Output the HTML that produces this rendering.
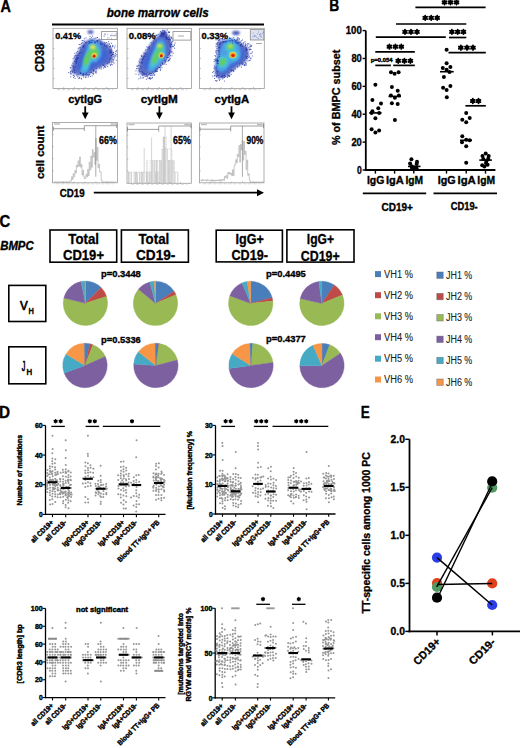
<!DOCTYPE html>
<html><head><meta charset="utf-8"><style>
html,body{margin:0;padding:0;background:#fff;}
svg{display:block;font-family:"Liberation Sans",sans-serif;}
</style></head><body>
<svg width="520" height="748" viewBox="0 0 520 748">
<defs>
<filter id="b0" x="-50%" y="-50%" width="200%" height="200%"><feGaussianBlur stdDeviation="0.4"/></filter>
<filter id="b1" x="-50%" y="-50%" width="200%" height="200%"><feGaussianBlur stdDeviation="0.9"/></filter>
<filter id="b2" x="-50%" y="-50%" width="200%" height="200%"><feGaussianBlur stdDeviation="2.0"/></filter>
</defs>
<rect width="520" height="748" fill="#fff"/>
<text stroke="#000" stroke-width="0.35" stroke-linejoin="round" x="0.40" y="11.90" font-size="15.8" font-weight="bold" font-style="normal" fill="#000" textLength="10.43" lengthAdjust="spacingAndGlyphs">A</text>
<text stroke="#000" stroke-width="0.34" stroke-linejoin="round" x="106.70" y="17.00" font-size="12.2" font-weight="bold" font-style="italic" fill="#000" textLength="102.11" lengthAdjust="spacingAndGlyphs">bone marrow cells</text>
<line x1="52.00" y1="24.50" x2="264.00" y2="24.50" stroke="#000" stroke-width="1.8" />
<text stroke="#000" stroke-width="0.34" stroke-linejoin="round" transform="translate(44.40,72.00) rotate(-90)" x="0" y="0" font-size="12" font-weight="bold" font-style="normal" fill="#000" textLength="28.32" lengthAdjust="spacingAndGlyphs">CD38</text>
<text stroke="#000" stroke-width="0.34" stroke-linejoin="round" transform="translate(43.50,179.00) rotate(-90)" x="0" y="0" font-size="10.5" font-weight="bold" font-style="normal" fill="#000" textLength="53.37" lengthAdjust="spacingAndGlyphs">cell count</text>
<rect x="53.00" y="28.30" width="64.40" height="60.20" stroke="#9a9a9a" stroke-width="0.8" fill="none"/>
<line x1="53.00" y1="38.33" x2="54.50" y2="38.33" stroke="#999" stroke-width="0.6" />
<line x1="53.00" y1="48.37" x2="54.50" y2="48.37" stroke="#999" stroke-width="0.6" />
<line x1="53.00" y1="58.40" x2="54.50" y2="58.40" stroke="#999" stroke-width="0.6" />
<line x1="53.00" y1="68.43" x2="54.50" y2="68.43" stroke="#999" stroke-width="0.6" />
<line x1="53.00" y1="78.47" x2="54.50" y2="78.47" stroke="#999" stroke-width="0.6" />
<line x1="63.73" y1="88.50" x2="63.73" y2="87.00" stroke="#999" stroke-width="0.6" />
<line x1="74.47" y1="88.50" x2="74.47" y2="87.00" stroke="#999" stroke-width="0.6" />
<line x1="85.20" y1="88.50" x2="85.20" y2="87.00" stroke="#999" stroke-width="0.6" />
<line x1="95.93" y1="88.50" x2="95.93" y2="87.00" stroke="#999" stroke-width="0.6" />
<line x1="106.67" y1="88.50" x2="106.67" y2="87.00" stroke="#999" stroke-width="0.6" />
<line x1="57.00" y1="89.70" x2="113.40" y2="89.70" stroke="#c8c8c8" stroke-width="0.8" stroke-dasharray="3 2"/>
<rect x="127.00" y="28.30" width="64.40" height="60.20" stroke="#9a9a9a" stroke-width="0.8" fill="none"/>
<line x1="127.00" y1="38.33" x2="128.50" y2="38.33" stroke="#999" stroke-width="0.6" />
<line x1="127.00" y1="48.37" x2="128.50" y2="48.37" stroke="#999" stroke-width="0.6" />
<line x1="127.00" y1="58.40" x2="128.50" y2="58.40" stroke="#999" stroke-width="0.6" />
<line x1="127.00" y1="68.43" x2="128.50" y2="68.43" stroke="#999" stroke-width="0.6" />
<line x1="127.00" y1="78.47" x2="128.50" y2="78.47" stroke="#999" stroke-width="0.6" />
<line x1="137.73" y1="88.50" x2="137.73" y2="87.00" stroke="#999" stroke-width="0.6" />
<line x1="148.47" y1="88.50" x2="148.47" y2="87.00" stroke="#999" stroke-width="0.6" />
<line x1="159.20" y1="88.50" x2="159.20" y2="87.00" stroke="#999" stroke-width="0.6" />
<line x1="169.93" y1="88.50" x2="169.93" y2="87.00" stroke="#999" stroke-width="0.6" />
<line x1="180.67" y1="88.50" x2="180.67" y2="87.00" stroke="#999" stroke-width="0.6" />
<line x1="131.00" y1="89.70" x2="187.40" y2="89.70" stroke="#c8c8c8" stroke-width="0.8" stroke-dasharray="3 2"/>
<rect x="199.50" y="28.30" width="64.80" height="60.20" stroke="#9a9a9a" stroke-width="0.8" fill="none"/>
<line x1="199.50" y1="38.33" x2="201.00" y2="38.33" stroke="#999" stroke-width="0.6" />
<line x1="199.50" y1="48.37" x2="201.00" y2="48.37" stroke="#999" stroke-width="0.6" />
<line x1="199.50" y1="58.40" x2="201.00" y2="58.40" stroke="#999" stroke-width="0.6" />
<line x1="199.50" y1="68.43" x2="201.00" y2="68.43" stroke="#999" stroke-width="0.6" />
<line x1="199.50" y1="78.47" x2="201.00" y2="78.47" stroke="#999" stroke-width="0.6" />
<line x1="210.30" y1="88.50" x2="210.30" y2="87.00" stroke="#999" stroke-width="0.6" />
<line x1="221.10" y1="88.50" x2="221.10" y2="87.00" stroke="#999" stroke-width="0.6" />
<line x1="231.90" y1="88.50" x2="231.90" y2="87.00" stroke="#999" stroke-width="0.6" />
<line x1="242.70" y1="88.50" x2="242.70" y2="87.00" stroke="#999" stroke-width="0.6" />
<line x1="253.50" y1="88.50" x2="253.50" y2="87.00" stroke="#999" stroke-width="0.6" />
<line x1="203.50" y1="89.70" x2="260.30" y2="89.70" stroke="#c8c8c8" stroke-width="0.8" stroke-dasharray="3 2"/>
<clipPath id="clip1"><rect x="53" y="28.3" width="64.4" height="60.2"/></clipPath>
<g clip-path="url(#clip1)">
<path d="M71.60,71.50 C71.38,69.10 72.88,63.42 74.20,59.70 C75.52,55.98 77.97,52.03 79.50,49.20 C81.03,46.37 81.67,44.33 83.40,42.70 C85.13,41.07 87.50,39.83 89.90,39.40 C92.30,38.97 95.40,39.55 97.80,40.10 C100.20,40.65 102.13,41.40 104.30,42.70 C106.47,44.00 109.27,45.72 110.80,47.90 C112.33,50.08 113.72,53.18 113.50,55.80 C113.28,58.42 111.47,61.87 109.50,63.60 C107.53,65.33 104.08,65.10 101.70,66.20 C99.32,67.30 97.38,68.88 95.20,70.20 C93.02,71.52 90.78,73.23 88.60,74.10 C86.42,74.97 84.28,75.40 82.10,75.40 C79.92,75.40 77.25,74.75 75.50,74.10 C73.75,73.45 71.82,73.90 71.60,71.50Z" fill="#2234a8" opacity="0.7" filter="url(#b1)"/>
<path d="M75.65,68.83 C75.47,66.91 76.67,62.37 77.73,59.39 C78.78,56.42 80.74,53.26 81.97,50.99 C83.19,48.73 83.70,47.10 85.09,45.79 C86.47,44.49 88.37,43.50 90.29,43.15 C92.21,42.81 94.69,43.27 96.61,43.71 C98.53,44.15 100.07,44.75 101.81,45.79 C103.54,46.83 105.78,48.21 107.01,49.95 C108.23,51.70 109.34,54.18 109.17,56.27 C108.99,58.37 107.54,61.13 105.97,62.51 C104.39,63.90 101.63,63.71 99.73,64.59 C97.82,65.47 96.27,66.74 94.53,67.79 C92.78,68.85 90.99,70.22 89.25,70.91 C87.50,71.61 85.79,71.95 84.05,71.95 C82.30,71.95 80.17,71.43 78.77,70.91 C77.37,70.39 75.82,70.75 75.65,68.83Z" fill="#3a62d4" opacity="0.9" filter="url(#b2)"/>
<path d="M80.40,74.59 C79.57,73.13 81.34,67.30 82.28,63.34 C83.21,59.38 84.88,54.48 86.03,50.84 C87.17,47.19 87.90,43.23 89.15,41.46 C90.40,39.69 91.65,39.69 93.53,40.21 C95.40,40.73 99.05,42.19 100.40,44.59 C101.75,46.98 102.17,51.77 101.65,54.59 C101.13,57.40 99.05,60.00 97.28,61.46 C95.50,62.92 92.69,61.57 91.03,63.34 C89.36,65.11 89.05,70.21 87.28,72.09 C85.50,73.96 81.23,76.05 80.40,74.59Z" fill="#4fa6e8" opacity="0.9" filter="url(#b1)"/>
<path d="M82.61,70.69 C82.17,69.46 83.83,64.56 84.71,61.24 C85.58,57.91 86.98,53.54 87.86,50.74 C88.73,47.94 89.08,45.58 89.96,44.44 C90.83,43.30 91.80,43.39 93.11,43.91 C94.42,44.44 96.96,45.75 97.84,47.59 C98.71,49.42 98.80,52.92 98.36,54.94 C97.92,56.95 96.43,58.70 95.21,59.66 C93.98,60.62 92.32,59.22 91.01,60.71 C89.70,62.20 88.73,66.93 87.33,68.59 C85.93,70.25 83.05,71.91 82.61,70.69Z" fill="#46c4dc" opacity="1" filter="url(#b1)"/>
<ellipse cx="87.6" cy="58" rx="8.5" ry="2.9" transform="rotate(-68 87.6 58)" fill="#66cc5e" opacity="1" filter="url(#b1)"/>
<ellipse cx="94.5" cy="52.5" rx="4.6" ry="4.2" transform="rotate(-60 94.5 52.5)" fill="#66cc5e" opacity="1" filter="url(#b1)"/>
<ellipse cx="92.8" cy="47" rx="2.8" ry="2.3" transform="rotate(0 92.8 47)" fill="#e4e446" opacity="1" filter="url(#b1)"/>
<ellipse cx="94.3" cy="55.5" rx="2.8" ry="2.7" transform="rotate(-60 94.3 55.5)" fill="#e4e446" opacity="1" filter="url(#b0)"/>
<ellipse cx="94.2" cy="55.9" rx="2.1" ry="2.0" transform="rotate(-60 94.2 55.9)" fill="#f08c28" opacity="1" filter="url(#b0)"/>
<ellipse cx="94.1" cy="56.3" rx="1.3" ry="1.3" transform="rotate(0 94.1 56.3)" fill="#d01c0c" opacity="1" filter="url(#b0)"/>
<ellipse cx="90.5" cy="32" rx="3" ry="2" transform="rotate(0 90.5 32)" fill="#2234a8" opacity="0.75" filter="url(#b1)"/>
<rect x="74.0" y="72.5" width="1" height="1" fill="#2234a8" opacity="0.75"/>
<rect x="106.2" y="46.5" width="1" height="1" fill="#2234a8" opacity="0.75"/>
<rect x="78.8" y="76.8" width="1" height="1" fill="#2234a8" opacity="0.75"/>
<rect x="68.2" y="72.1" width="1" height="1" fill="#2234a8" opacity="0.75"/>
<rect x="100.0" y="43.4" width="1" height="1" fill="#2234a8" opacity="0.75"/>
<rect x="104.0" y="66.5" width="1" height="1" fill="#2234a8" opacity="0.75"/>
<rect x="110.4" y="57.5" width="1" height="1" fill="#2234a8" opacity="0.75"/>
<rect x="76.0" y="59.4" width="1" height="1" fill="#2234a8" opacity="0.75"/>
<rect x="103.1" y="64.9" width="1" height="1" fill="#2234a8" opacity="0.75"/>
<rect x="93.1" y="69.5" width="1" height="1" fill="#2234a8" opacity="0.75"/>
<rect x="75.9" y="57.3" width="1" height="1" fill="#2234a8" opacity="0.75"/>
<rect x="70.0" y="73.5" width="1" height="1" fill="#2234a8" opacity="0.75"/>
<rect x="77.4" y="57.4" width="1" height="1" fill="#2234a8" opacity="0.75"/>
<rect x="76.2" y="60.9" width="1" height="1" fill="#2234a8" opacity="0.75"/>
<rect x="80.2" y="72.2" width="1" height="1" fill="#2234a8" opacity="0.75"/>
<rect x="72.7" y="74.8" width="1" height="1" fill="#2234a8" opacity="0.75"/>
<rect x="103.9" y="42.3" width="1" height="1" fill="#2234a8" opacity="0.75"/>
<rect x="78.4" y="78.1" width="1" height="1" fill="#2234a8" opacity="0.75"/>
<rect x="82.8" y="73.0" width="1" height="1" fill="#2234a8" opacity="0.75"/>
<rect x="83.0" y="76.5" width="1" height="1" fill="#2234a8" opacity="0.75"/>
<rect x="84.7" y="74.0" width="1" height="1" fill="#2234a8" opacity="0.75"/>
<rect x="110.1" y="51.4" width="1" height="1" fill="#2234a8" opacity="0.75"/>
<rect x="111.5" y="61.8" width="1" height="1" fill="#2234a8" opacity="0.75"/>
<rect x="70.9" y="73.3" width="1" height="1" fill="#2234a8" opacity="0.75"/>
<rect x="109.5" y="50.2" width="1" height="1" fill="#2234a8" opacity="0.75"/>
<rect x="112.7" y="60.1" width="1" height="1" fill="#2234a8" opacity="0.75"/>
<rect x="82.2" y="46.4" width="1" height="1" fill="#2234a8" opacity="0.75"/>
<rect x="91.5" y="39.7" width="1" height="1" fill="#2234a8" opacity="0.75"/>
<rect x="102.3" y="64.3" width="1" height="1" fill="#2234a8" opacity="0.75"/>
<rect x="82.9" y="46.1" width="1" height="1" fill="#2234a8" opacity="0.75"/>
<rect x="117.4" y="54.9" width="1" height="1" fill="#2234a8" opacity="0.75"/>
<rect x="92.8" y="70.2" width="1" height="1" fill="#2234a8" opacity="0.75"/>
<rect x="109.1" y="49.3" width="1" height="1" fill="#2234a8" opacity="0.75"/>
<rect x="72.6" y="57.9" width="1" height="1" fill="#2234a8" opacity="0.75"/>
<rect x="82.1" y="74.5" width="1" height="1" fill="#2234a8" opacity="0.75"/>
<rect x="83.3" y="74.9" width="1" height="1" fill="#2234a8" opacity="0.75"/>
<rect x="102.4" y="43.1" width="1" height="1" fill="#2234a8" opacity="0.75"/>
<rect x="89.3" y="42.2" width="1" height="1" fill="#2234a8" opacity="0.75"/>
<rect x="103.7" y="64.6" width="1" height="1" fill="#2234a8" opacity="0.75"/>
<rect x="110.7" y="55.2" width="1" height="1" fill="#2234a8" opacity="0.75"/>
<rect x="104.5" y="45.7" width="1" height="1" fill="#2234a8" opacity="0.75"/>
<rect x="78.7" y="53.4" width="1" height="1" fill="#2234a8" opacity="0.75"/>
<rect x="114.1" y="47.4" width="1" height="1" fill="#2234a8" opacity="0.75"/>
<rect x="110.5" y="51.6" width="1" height="1" fill="#2234a8" opacity="0.75"/>
<rect x="103.0" y="67.6" width="1" height="1" fill="#2234a8" opacity="0.75"/>
<rect x="74.3" y="69.3" width="1" height="1" fill="#2234a8" opacity="0.75"/>
<rect x="110.2" y="64.2" width="1" height="1" fill="#2234a8" opacity="0.75"/>
<rect x="89.9" y="75.9" width="1" height="1" fill="#2234a8" opacity="0.75"/>
<rect x="89.3" y="42.5" width="1" height="1" fill="#2234a8" opacity="0.75"/>
<rect x="83.8" y="40.8" width="1" height="1" fill="#2234a8" opacity="0.75"/>
<rect x="89.6" y="36.2" width="1" height="1" fill="#2234a8" opacity="0.75"/>
<rect x="77.7" y="47.8" width="1" height="1" fill="#2234a8" opacity="0.75"/>
<rect x="92.2" y="72.9" width="1" height="1" fill="#2234a8" opacity="0.75"/>
<rect x="81.7" y="40.0" width="1" height="1" fill="#2234a8" opacity="0.75"/>
<rect x="73.2" y="68.1" width="1" height="1" fill="#2234a8" opacity="0.75"/>
<rect x="74.1" y="57.2" width="1" height="1" fill="#2234a8" opacity="0.75"/>
<rect x="90.7" y="71.9" width="1" height="1" fill="#2234a8" opacity="0.75"/>
<rect x="75.9" y="62.5" width="1" height="1" fill="#2234a8" opacity="0.75"/>
<rect x="111.2" y="60.9" width="1" height="1" fill="#2234a8" opacity="0.75"/>
<rect x="108.8" y="61.9" width="1" height="1" fill="#2234a8" opacity="0.75"/>
<rect x="95.0" y="41.9" width="1" height="1" fill="#2234a8" opacity="0.75"/>
<rect x="91.0" y="37.3" width="1" height="1" fill="#2234a8" opacity="0.75"/>
<rect x="77.8" y="74.2" width="1" height="1" fill="#2234a8" opacity="0.75"/>
<rect x="109.6" y="58.2" width="1" height="1" fill="#2234a8" opacity="0.75"/>
<rect x="104.8" y="42.7" width="1" height="1" fill="#2234a8" opacity="0.75"/>
<rect x="107.3" y="43.6" width="1" height="1" fill="#2234a8" opacity="0.75"/>
<rect x="94.1" y="41.4" width="1" height="1" fill="#2234a8" opacity="0.75"/>
<rect x="74.2" y="66.7" width="1" height="1" fill="#2234a8" opacity="0.75"/>
<rect x="92.3" y="39.7" width="1" height="1" fill="#2234a8" opacity="0.75"/>
<rect x="73.2" y="65.7" width="1" height="1" fill="#2234a8" opacity="0.75"/>
<rect x="87.6" y="73.9" width="1" height="1" fill="#2234a8" opacity="0.75"/>
<rect x="105.9" y="42.0" width="1" height="1" fill="#2234a8" opacity="0.75"/>
<rect x="73.8" y="55.6" width="1" height="1" fill="#2234a8" opacity="0.75"/>
<rect x="105.2" y="65.4" width="1" height="1" fill="#2234a8" opacity="0.75"/>
<rect x="70.2" y="76.3" width="1" height="1" fill="#2234a8" opacity="0.75"/>
<rect x="112.1" y="53.9" width="1" height="1" fill="#2234a8" opacity="0.75"/>
<rect x="101.0" y="66.6" width="1" height="1" fill="#2234a8" opacity="0.75"/>
<rect x="105.1" y="66.9" width="1" height="1" fill="#2234a8" opacity="0.75"/>
<rect x="71.8" y="71.0" width="1" height="1" fill="#2234a8" opacity="0.75"/>
<rect x="73.8" y="70.2" width="1" height="1" fill="#2234a8" opacity="0.75"/>
<rect x="97.0" y="39.9" width="1" height="1" fill="#2234a8" opacity="0.75"/>
<rect x="96.5" y="37.2" width="1" height="1" fill="#2234a8" opacity="0.75"/>
<rect x="83.9" y="38.3" width="1" height="1" fill="#2234a8" opacity="0.75"/>
<rect x="91.7" y="75.4" width="1" height="1" fill="#2234a8" opacity="0.75"/>
<rect x="108.1" y="41.2" width="1" height="1" fill="#2234a8" opacity="0.75"/>
<rect x="107.2" y="66.1" width="1" height="1" fill="#2234a8" opacity="0.75"/>
<rect x="85.6" y="76.7" width="1" height="1" fill="#2234a8" opacity="0.75"/>
<rect x="86.0" y="72.5" width="1" height="1" fill="#2234a8" opacity="0.75"/>
<rect x="112.7" y="61.5" width="1" height="1" fill="#2234a8" opacity="0.75"/>
<rect x="112.8" y="54.0" width="1" height="1" fill="#2234a8" opacity="0.75"/>
<rect x="97.0" y="37.0" width="1" height="1" fill="#2234a8" opacity="0.75"/>
<rect x="82.6" y="74.2" width="1" height="1" fill="#2234a8" opacity="0.75"/>
<rect x="94.9" y="71.2" width="1" height="1" fill="#2234a8" opacity="0.75"/>
<rect x="75.5" y="63.2" width="1" height="1" fill="#2234a8" opacity="0.75"/>
<rect x="87.7" y="76.4" width="1" height="1" fill="#2234a8" opacity="0.75"/>
<rect x="80.4" y="72.9" width="1" height="1" fill="#2234a8" opacity="0.75"/>
<rect x="84.9" y="76.8" width="1" height="1" fill="#2234a8" opacity="0.75"/>
<rect x="92.0" y="35.6" width="1" height="1" fill="#2234a8" opacity="0.75"/>
<rect x="78.8" y="47.3" width="1" height="1" fill="#2234a8" opacity="0.75"/>
<rect x="88.2" y="41.0" width="1" height="1" fill="#2234a8" opacity="0.75"/>
<rect x="76.4" y="73.9" width="1" height="1" fill="#2234a8" opacity="0.75"/>
<rect x="78.7" y="44.0" width="1" height="1" fill="#2234a8" opacity="0.75"/>
<rect x="112.4" y="53.8" width="1" height="1" fill="#2234a8" opacity="0.75"/>
<rect x="83.4" y="47.1" width="1" height="1" fill="#2234a8" opacity="0.75"/>
<rect x="74.3" y="52.8" width="1" height="1" fill="#2234a8" opacity="0.75"/>
<rect x="115.6" y="50.7" width="1" height="1" fill="#2234a8" opacity="0.75"/>
<rect x="87.3" y="74.7" width="1" height="1" fill="#2234a8" opacity="0.75"/>
<rect x="95.2" y="37.6" width="1" height="1" fill="#2234a8" opacity="0.75"/>
<rect x="79.9" y="47.2" width="1" height="1" fill="#2234a8" opacity="0.75"/>
<rect x="95.0" y="72.3" width="1" height="1" fill="#2234a8" opacity="0.75"/>
<rect x="112.1" y="44.8" width="1" height="1" fill="#2234a8" opacity="0.75"/>
<rect x="110.5" y="50.0" width="1" height="1" fill="#2234a8" opacity="0.75"/>
<rect x="110.6" y="52.0" width="1" height="1" fill="#2234a8" opacity="0.75"/>
<rect x="89.6" y="40.4" width="1" height="1" fill="#2234a8" opacity="0.75"/>
<rect x="114.9" y="53.2" width="1" height="1" fill="#2234a8" opacity="0.75"/>
<rect x="81.0" y="78.5" width="1" height="1" fill="#2234a8" opacity="0.75"/>
<rect x="109.0" y="46.0" width="1" height="1" fill="#2234a8" opacity="0.75"/>
<rect x="85.4" y="42.2" width="1" height="1" fill="#2234a8" opacity="0.75"/>
<rect x="83.2" y="73.9" width="1" height="1" fill="#2234a8" opacity="0.75"/>
<rect x="93.7" y="37.7" width="1" height="1" fill="#2234a8" opacity="0.75"/>
<rect x="113.0" y="52.1" width="1" height="1" fill="#2234a8" opacity="0.75"/>
<rect x="77.1" y="54.6" width="1" height="1" fill="#2234a8" opacity="0.75"/>
<rect x="81.9" y="42.1" width="1" height="1" fill="#2234a8" opacity="0.75"/>
<rect x="99.5" y="67.6" width="1" height="1" fill="#2234a8" opacity="0.75"/>
<rect x="76.1" y="61.0" width="1" height="1" fill="#2234a8" opacity="0.75"/>
<rect x="104.2" y="66.0" width="1" height="1" fill="#2234a8" opacity="0.75"/>
<rect x="88.5" y="42.6" width="1" height="1" fill="#2234a8" opacity="0.75"/>
<rect x="85.5" y="41.9" width="1" height="1" fill="#2234a8" opacity="0.75"/>
<rect x="96.1" y="72.4" width="1" height="1" fill="#2234a8" opacity="0.75"/>
<rect x="98.9" y="67.4" width="1" height="1" fill="#2234a8" opacity="0.75"/>
<rect x="91.1" y="41.8" width="1" height="1" fill="#2234a8" opacity="0.75"/>
<rect x="89.1" y="73.6" width="1" height="1" fill="#2234a8" opacity="0.75"/>
<rect x="99.1" y="38.7" width="1" height="1" fill="#2234a8" opacity="0.75"/>
<rect x="79.5" y="52.0" width="1" height="1" fill="#2234a8" opacity="0.75"/>
<rect x="110.0" y="45.2" width="1" height="1" fill="#2234a8" opacity="0.75"/>
<rect x="108.6" y="61.3" width="1" height="1" fill="#2234a8" opacity="0.75"/>
<rect x="99.3" y="39.8" width="1" height="1" fill="#2234a8" opacity="0.75"/>
<rect x="77.8" y="57.6" width="1" height="1" fill="#2234a8" opacity="0.75"/>
<rect x="73.4" y="75.1" width="1" height="1" fill="#2234a8" opacity="0.75"/>
<rect x="109.0" y="52.1" width="1" height="1" fill="#2234a8" opacity="0.75"/>
<rect x="114.2" y="57.4" width="1" height="1" fill="#2234a8" opacity="0.75"/>
<rect x="72.1" y="71.8" width="1" height="1" fill="#2234a8" opacity="0.75"/>
<rect x="109.2" y="58.9" width="1" height="1" fill="#2234a8" opacity="0.75"/>
<rect x="76.9" y="57.7" width="1" height="1" fill="#2234a8" opacity="0.75"/>
<rect x="85.5" y="73.8" width="1" height="1" fill="#2234a8" opacity="0.75"/>
<rect x="109.9" y="52.7" width="1" height="1" fill="#2234a8" opacity="0.75"/>
<rect x="113.4" y="55.9" width="1" height="1" fill="#2234a8" opacity="0.75"/>
<rect x="74.8" y="61.2" width="1" height="1" fill="#2234a8" opacity="0.75"/>
<rect x="110.6" y="47.5" width="1" height="1" fill="#2234a8" opacity="0.75"/>
<rect x="93.1" y="71.3" width="1" height="1" fill="#2234a8" opacity="0.75"/>
<rect x="80.7" y="77.8" width="1" height="1" fill="#2234a8" opacity="0.75"/>
<rect x="82.6" y="73.6" width="1" height="1" fill="#2234a8" opacity="0.75"/>
<rect x="111.8" y="53.9" width="1" height="1" fill="#2234a8" opacity="0.75"/>
<rect x="97.1" y="40.6" width="1" height="1" fill="#2234a8" opacity="0.75"/>
<rect x="116.3" y="50.0" width="1" height="1" fill="#2234a8" opacity="0.75"/>
<rect x="104.1" y="44.9" width="1" height="1" fill="#2234a8" opacity="0.75"/>
<rect x="100.5" y="43.8" width="1" height="1" fill="#2234a8" opacity="0.75"/>
<rect x="72.5" y="62.7" width="1" height="1" fill="#2234a8" opacity="0.75"/>
<rect x="115.8" y="54.3" width="1" height="1" fill="#2234a8" opacity="0.75"/>
<rect x="111.0" y="55.0" width="1" height="1" fill="#2234a8" opacity="0.75"/>
<rect x="91.2" y="71.8" width="1" height="1" fill="#2234a8" opacity="0.75"/>
<rect x="95.9" y="70.7" width="1" height="1" fill="#2234a8" opacity="0.75"/>
<rect x="80.4" y="48.9" width="1" height="1" fill="#2234a8" opacity="0.75"/>
<rect x="100.1" y="40.9" width="1" height="1" fill="#2234a8" opacity="0.75"/>
<rect x="79.0" y="77.5" width="1" height="1" fill="#2234a8" opacity="0.75"/>
<rect x="77.3" y="76.4" width="1" height="1" fill="#2234a8" opacity="0.75"/>
<rect x="79.6" y="52.6" width="1" height="1" fill="#2234a8" opacity="0.75"/>
<rect x="92.8" y="73.5" width="1" height="1" fill="#2234a8" opacity="0.75"/>
<rect x="80.7" y="51.6" width="1" height="1" fill="#2234a8" opacity="0.75"/>
<rect x="73.8" y="75.8" width="1" height="1" fill="#2234a8" opacity="0.75"/>
<rect x="70.3" y="67.4" width="1" height="1" fill="#2234a8" opacity="0.75"/>
<rect x="112.5" y="45.7" width="1" height="1" fill="#2234a8" opacity="0.75"/>
<rect x="106.1" y="44.9" width="1" height="1" fill="#2234a8" opacity="0.75"/>
<rect x="74.6" y="71.9" width="1" height="1" fill="#2234a8" opacity="0.75"/>
<rect x="73.1" y="77.1" width="1" height="1" fill="#2234a8" opacity="0.75"/>
<rect x="111.8" y="64.2" width="1" height="1" fill="#2234a8" opacity="0.75"/>
<rect x="111.3" y="52.2" width="1" height="1" fill="#2234a8" opacity="0.75"/>
<rect x="70.8" y="70.3" width="1" height="1" fill="#2234a8" opacity="0.75"/>
<rect x="75.7" y="60.2" width="1" height="1" fill="#2234a8" opacity="0.75"/>
<rect x="74.8" y="55.4" width="1" height="1" fill="#2234a8" opacity="0.75"/>
<rect x="100.1" y="42.8" width="1" height="1" fill="#2234a8" opacity="0.75"/>
<rect x="110.9" y="48.9" width="1" height="1" fill="#2234a8" opacity="0.75"/>
<rect x="76.7" y="58.7" width="1" height="1" fill="#2234a8" opacity="0.75"/>
<rect x="76.9" y="50.9" width="1" height="1" fill="#2234a8" opacity="0.75"/>
<rect x="93.1" y="73.5" width="1" height="1" fill="#2234a8" opacity="0.75"/>
<rect x="107.1" y="62.8" width="1" height="1" fill="#2234a8" opacity="0.75"/>
<rect x="79.8" y="72.5" width="1" height="1" fill="#2234a8" opacity="0.75"/>
<rect x="85.5" y="37.4" width="1" height="1" fill="#2234a8" opacity="0.75"/>
<rect x="86.0" y="74.4" width="1" height="1" fill="#2234a8" opacity="0.75"/>
<rect x="113.2" y="59.0" width="1" height="1" fill="#2234a8" opacity="0.75"/>
<rect x="110.0" y="64.7" width="1" height="1" fill="#2234a8" opacity="0.75"/>
<rect x="95.9" y="67.9" width="1" height="1" fill="#2234a8" opacity="0.75"/>
<rect x="75.6" y="61.1" width="1" height="1" fill="#2234a8" opacity="0.75"/>
<rect x="69.8" y="67.2" width="1" height="1" fill="#2234a8" opacity="0.75"/>
<rect x="75.4" y="54.7" width="1" height="1" fill="#2234a8" opacity="0.75"/>
<rect x="76.4" y="75.3" width="1" height="1" fill="#2234a8" opacity="0.75"/>
<rect x="89.8" y="72.0" width="1" height="1" fill="#2234a8" opacity="0.75"/>
<rect x="76.5" y="55.0" width="1" height="1" fill="#2234a8" opacity="0.75"/>
<rect x="76.0" y="61.5" width="1" height="1" fill="#2234a8" opacity="0.75"/>
<rect x="114.6" y="45.4" width="1" height="1" fill="#2234a8" opacity="0.75"/>
<rect x="114.7" y="55.7" width="1" height="1" fill="#2234a8" opacity="0.75"/>
<rect x="75.5" y="59.0" width="1" height="1" fill="#2234a8" opacity="0.75"/>
<rect x="89.0" y="74.3" width="1" height="1" fill="#2234a8" opacity="0.75"/>
<rect x="91.6" y="41.8" width="1" height="1" fill="#2234a8" opacity="0.75"/>
<rect x="74.6" y="77.9" width="1" height="1" fill="#2234a8" opacity="0.75"/>
<rect x="78.2" y="55.2" width="1" height="1" fill="#2234a8" opacity="0.75"/>
<rect x="115.8" y="59.8" width="1" height="1" fill="#2234a8" opacity="0.75"/>
<rect x="79.5" y="44.1" width="1" height="1" fill="#2234a8" opacity="0.75"/>
<rect x="102.9" y="64.7" width="1" height="1" fill="#2234a8" opacity="0.75"/>
<rect x="76.1" y="52.3" width="1" height="1" fill="#2234a8" opacity="0.75"/>
<rect x="75.0" y="58.7" width="1" height="1" fill="#2234a8" opacity="0.75"/>
<rect x="97.0" y="41.0" width="1" height="1" fill="#2234a8" opacity="0.75"/>
<rect x="103.9" y="44.3" width="1" height="1" fill="#2234a8" opacity="0.75"/>
<rect x="109.0" y="43.6" width="1" height="1" fill="#2234a8" opacity="0.75"/>
<rect x="72.5" y="66.8" width="1" height="1" fill="#2234a8" opacity="0.75"/>
<rect x="101.2" y="41.5" width="1" height="1" fill="#2234a8" opacity="0.75"/>
<rect x="69.9" y="71.1" width="1" height="1" fill="#2234a8" opacity="0.75"/>
<rect x="110.1" y="46.0" width="1" height="1" fill="#2234a8" opacity="0.75"/>
<rect x="89.5" y="41.8" width="1" height="1" fill="#2234a8" opacity="0.75"/>
<rect x="98.0" y="39.5" width="1" height="1" fill="#2234a8" opacity="0.75"/>
<rect x="88.1" y="75.3" width="1" height="1" fill="#2234a8" opacity="0.75"/>
<rect x="89.5" y="38.2" width="1" height="1" fill="#2234a8" opacity="0.75"/>
<rect x="111.4" y="51.5" width="1" height="1" fill="#2234a8" opacity="0.75"/>
<rect x="100.6" y="39.1" width="1" height="1" fill="#2234a8" opacity="0.75"/>
<rect x="116.8" y="56.3" width="1" height="1" fill="#2234a8" opacity="0.75"/>
<rect x="80.9" y="42.9" width="1" height="1" fill="#2234a8" opacity="0.75"/>
<rect x="76.5" y="57.7" width="1" height="1" fill="#2234a8" opacity="0.75"/>
<rect x="100.8" y="68.6" width="1" height="1" fill="#2234a8" opacity="0.75"/>
<rect x="109.4" y="46.7" width="1" height="1" fill="#2234a8" opacity="0.75"/>
<rect x="82.6" y="40.0" width="1" height="1" fill="#2234a8" opacity="0.75"/>
<rect x="96.1" y="40.2" width="1" height="1" fill="#2234a8" opacity="0.75"/>
<rect x="99.7" y="65.5" width="1" height="1" fill="#2234a8" opacity="0.75"/>
<rect x="114.6" y="54.9" width="1" height="1" fill="#2234a8" opacity="0.75"/>
<rect x="101.9" y="43.5" width="1" height="1" fill="#2234a8" opacity="0.75"/>
<rect x="74.0" y="60.6" width="1" height="1" fill="#2234a8" opacity="0.75"/>
<rect x="79.8" y="72.9" width="1" height="1" fill="#2234a8" opacity="0.75"/>
<rect x="108.5" y="43.4" width="1" height="1" fill="#2234a8" opacity="0.75"/>
<rect x="110.6" y="50.9" width="1" height="1" fill="#2234a8" opacity="0.75"/>
<rect x="85.3" y="75.3" width="1" height="1" fill="#2234a8" opacity="0.75"/>
<rect x="107.5" y="45.3" width="1" height="1" fill="#2234a8" opacity="0.75"/>
<rect x="115.3" y="51.3" width="1" height="1" fill="#2234a8" opacity="0.75"/>
<rect x="83.6" y="44.8" width="1" height="1" fill="#2234a8" opacity="0.75"/>
<rect x="72.6" y="65.3" width="1" height="1" fill="#2234a8" opacity="0.75"/>
<rect x="111.0" y="63.6" width="1" height="1" fill="#2234a8" opacity="0.75"/>
<rect x="72.6" y="69.6" width="1" height="1" fill="#2234a8" opacity="0.75"/>
<rect x="75.0" y="66.6" width="1" height="1" fill="#2234a8" opacity="0.75"/>
<rect x="96.9" y="41.0" width="1" height="1" fill="#2234a8" opacity="0.75"/>
<rect x="71.4" y="64.8" width="1" height="1" fill="#2234a8" opacity="0.75"/>
<rect x="110.9" y="42.8" width="1" height="1" fill="#2234a8" opacity="0.75"/>
<rect x="112.0" y="46.2" width="1" height="1" fill="#2234a8" opacity="0.75"/>
<rect x="93.3" y="70.1" width="1" height="1" fill="#2234a8" opacity="0.75"/>
<rect x="82.7" y="46.1" width="1" height="1" fill="#2234a8" opacity="0.75"/>
<rect x="113.5" y="62.6" width="1" height="1" fill="#2234a8" opacity="0.75"/>
<rect x="111.8" y="58.6" width="1" height="1" fill="#2234a8" opacity="0.75"/>
<rect x="76.3" y="56.3" width="1" height="1" fill="#2234a8" opacity="0.75"/>
<rect x="83.4" y="44.9" width="1" height="1" fill="#2234a8" opacity="0.75"/>
<rect x="87.4" y="73.9" width="1" height="1" fill="#2234a8" opacity="0.75"/>
<rect x="76.9" y="58.1" width="1" height="1" fill="#2234a8" opacity="0.75"/>
<rect x="94.4" y="42.4" width="1" height="1" fill="#2234a8" opacity="0.75"/>
<rect x="69.8" y="72.2" width="1" height="1" fill="#2234a8" opacity="0.75"/>
</g>
<clipPath id="clip2"><rect x="127" y="28.3" width="64.4" height="60.2"/></clipPath>
<g clip-path="url(#clip2)">
<path d="M138.40,70.20 C138.40,67.80 138.98,63.20 140.40,59.70 C141.82,56.20 144.93,52.25 146.90,49.20 C148.87,46.15 150.45,43.57 152.20,41.40 C153.95,39.23 155.45,37.73 157.40,36.20 C159.35,34.67 161.93,31.98 163.90,32.20 C165.87,32.42 167.88,35.53 169.20,37.50 C170.52,39.47 171.58,41.38 171.80,44.00 C172.02,46.62 171.60,50.37 170.50,53.20 C169.40,56.03 167.17,58.62 165.20,61.00 C163.23,63.38 160.87,65.32 158.70,67.50 C156.53,69.68 154.38,72.78 152.20,74.10 C150.02,75.42 147.57,75.40 145.60,75.40 C143.63,75.40 141.60,74.97 140.40,74.10 C139.20,73.23 138.40,72.60 138.40,70.20Z" fill="#2234a8" opacity="0.7" filter="url(#b1)"/>
<path d="M142.77,66.35 C142.77,64.58 143.20,61.17 144.25,58.58 C145.30,55.99 147.60,53.07 149.06,50.81 C150.51,48.56 151.69,46.65 152.98,45.04 C154.27,43.44 155.38,42.33 156.83,41.19 C158.27,40.06 160.18,38.07 161.64,38.23 C163.09,38.39 164.59,40.70 165.56,42.16 C166.53,43.61 167.32,45.03 167.48,46.97 C167.64,48.90 167.34,51.68 166.52,53.77 C165.71,55.87 164.06,57.78 162.60,59.55 C161.14,61.31 159.39,62.74 157.79,64.36 C156.19,65.97 154.60,68.27 152.98,69.24 C151.36,70.21 149.55,70.20 148.10,70.20 C146.64,70.20 145.14,69.88 144.25,69.24 C143.36,68.60 142.77,68.13 142.77,66.35Z" fill="#3a62d4" opacity="0.9" filter="url(#b2)"/>
<path d="M148.12,71.17 C147.29,69.71 148.44,64.71 149.38,61.17 C150.31,57.62 152.40,53.25 153.75,49.92 C155.10,46.58 156.04,42.83 157.50,41.17 C158.96,39.50 161.15,39.29 162.50,39.92 C163.85,40.54 165.10,42.21 165.62,44.92 C166.15,47.62 166.46,53.04 165.62,56.17 C164.79,59.29 162.50,61.38 160.62,63.67 C158.75,65.96 156.46,68.67 154.38,69.92 C152.29,71.17 148.96,72.62 148.12,71.17Z" fill="#4fa6e8" opacity="0.9" filter="url(#b1)"/>
<path d="M150.36,67.24 C149.93,66.13 151.12,62.31 151.89,59.59 C152.65,56.87 153.93,53.47 154.95,50.92 C155.97,48.37 156.90,45.48 158.01,44.29 C159.11,43.10 160.64,43.27 161.58,43.78 C162.51,44.29 163.28,45.31 163.62,47.35 C163.96,49.39 164.30,53.72 163.62,56.02 C162.94,58.31 161.07,59.42 159.54,61.12 C158.01,62.82 155.97,65.20 154.44,66.22 C152.91,67.24 150.78,68.34 150.36,67.24Z" fill="#46c4dc" opacity="1" filter="url(#b1)"/>
<ellipse cx="155.8" cy="57" rx="8" ry="2.8" transform="rotate(-66 155.8 57)" fill="#66cc5e" opacity="1" filter="url(#b1)"/>
<ellipse cx="160.3" cy="47.5" rx="3.4" ry="2.8" transform="rotate(-70 160.3 47.5)" fill="#66cc5e" opacity="1" filter="url(#b1)"/>
<ellipse cx="159.6" cy="45.8" rx="2.3" ry="1.8" transform="rotate(0 159.6 45.8)" fill="#e4e446" opacity="1" filter="url(#b1)"/>
<ellipse cx="161.4" cy="55.2" rx="2.9" ry="2.8" transform="rotate(-60 161.4 55.2)" fill="#e4e446" opacity="1" filter="url(#b0)"/>
<ellipse cx="161.4" cy="55.5" rx="2.1" ry="2.0" transform="rotate(-60 161.4 55.5)" fill="#f08c28" opacity="1" filter="url(#b0)"/>
<ellipse cx="161.3" cy="55.9" rx="1.3" ry="1.3" transform="rotate(0 161.3 55.9)" fill="#d01c0c" opacity="1" filter="url(#b0)"/>
<ellipse cx="163.5" cy="33.5" rx="3.4" ry="2.4" transform="rotate(-30 163.5 33.5)" fill="#2234a8" opacity="0.9" filter="url(#b1)"/>
<rect x="147.7" y="47.1" width="1" height="1" fill="#2234a8" opacity="0.75"/>
<rect x="155.1" y="70.9" width="1" height="1" fill="#2234a8" opacity="0.75"/>
<rect x="149.1" y="73.6" width="1" height="1" fill="#2234a8" opacity="0.75"/>
<rect x="171.4" y="51.4" width="1" height="1" fill="#2234a8" opacity="0.75"/>
<rect x="163.2" y="35.8" width="1" height="1" fill="#2234a8" opacity="0.75"/>
<rect x="171.7" y="41.2" width="1" height="1" fill="#2234a8" opacity="0.75"/>
<rect x="147.3" y="77.6" width="1" height="1" fill="#2234a8" opacity="0.75"/>
<rect x="160.1" y="31.1" width="1" height="1" fill="#2234a8" opacity="0.75"/>
<rect x="143.9" y="73.2" width="1" height="1" fill="#2234a8" opacity="0.75"/>
<rect x="169.5" y="40.0" width="1" height="1" fill="#2234a8" opacity="0.75"/>
<rect x="143.3" y="73.5" width="1" height="1" fill="#2234a8" opacity="0.75"/>
<rect x="141.7" y="62.6" width="1" height="1" fill="#2234a8" opacity="0.75"/>
<rect x="154.0" y="39.0" width="1" height="1" fill="#2234a8" opacity="0.75"/>
<rect x="153.0" y="73.2" width="1" height="1" fill="#2234a8" opacity="0.75"/>
<rect x="155.7" y="34.7" width="1" height="1" fill="#2234a8" opacity="0.75"/>
<rect x="138.6" y="60.6" width="1" height="1" fill="#2234a8" opacity="0.75"/>
<rect x="152.8" y="40.3" width="1" height="1" fill="#2234a8" opacity="0.75"/>
<rect x="160.1" y="69.3" width="1" height="1" fill="#2234a8" opacity="0.75"/>
<rect x="145.2" y="49.4" width="1" height="1" fill="#2234a8" opacity="0.75"/>
<rect x="143.4" y="74.9" width="1" height="1" fill="#2234a8" opacity="0.75"/>
<rect x="143.2" y="58.1" width="1" height="1" fill="#2234a8" opacity="0.75"/>
<rect x="165.5" y="37.2" width="1" height="1" fill="#2234a8" opacity="0.75"/>
<rect x="168.8" y="42.7" width="1" height="1" fill="#2234a8" opacity="0.75"/>
<rect x="138.2" y="74.3" width="1" height="1" fill="#2234a8" opacity="0.75"/>
<rect x="165.5" y="32.2" width="1" height="1" fill="#2234a8" opacity="0.75"/>
<rect x="171.2" y="51.4" width="1" height="1" fill="#2234a8" opacity="0.75"/>
<rect x="166.6" y="57.3" width="1" height="1" fill="#2234a8" opacity="0.75"/>
<rect x="170.6" y="36.6" width="1" height="1" fill="#2234a8" opacity="0.75"/>
<rect x="173.9" y="44.5" width="1" height="1" fill="#2234a8" opacity="0.75"/>
<rect x="161.5" y="67.2" width="1" height="1" fill="#2234a8" opacity="0.75"/>
<rect x="138.8" y="70.1" width="1" height="1" fill="#2234a8" opacity="0.75"/>
<rect x="166.0" y="37.6" width="1" height="1" fill="#2234a8" opacity="0.75"/>
<rect x="153.7" y="37.9" width="1" height="1" fill="#2234a8" opacity="0.75"/>
<rect x="154.5" y="71.2" width="1" height="1" fill="#2234a8" opacity="0.75"/>
<rect x="145.6" y="53.6" width="1" height="1" fill="#2234a8" opacity="0.75"/>
<rect x="165.4" y="36.2" width="1" height="1" fill="#2234a8" opacity="0.75"/>
<rect x="170.2" y="43.3" width="1" height="1" fill="#2234a8" opacity="0.75"/>
<rect x="169.0" y="32.0" width="1" height="1" fill="#2234a8" opacity="0.75"/>
<rect x="152.7" y="42.5" width="1" height="1" fill="#2234a8" opacity="0.75"/>
<rect x="174.6" y="42.5" width="1" height="1" fill="#2234a8" opacity="0.75"/>
<rect x="171.1" y="36.9" width="1" height="1" fill="#2234a8" opacity="0.75"/>
<rect x="149.0" y="46.0" width="1" height="1" fill="#2234a8" opacity="0.75"/>
<rect x="150.6" y="42.1" width="1" height="1" fill="#2234a8" opacity="0.75"/>
<rect x="148.4" y="46.7" width="1" height="1" fill="#2234a8" opacity="0.75"/>
<rect x="169.4" y="49.7" width="1" height="1" fill="#2234a8" opacity="0.75"/>
<rect x="166.4" y="34.1" width="1" height="1" fill="#2234a8" opacity="0.75"/>
<rect x="169.2" y="44.9" width="1" height="1" fill="#2234a8" opacity="0.75"/>
<rect x="166.0" y="59.3" width="1" height="1" fill="#2234a8" opacity="0.75"/>
<rect x="168.8" y="58.6" width="1" height="1" fill="#2234a8" opacity="0.75"/>
<rect x="139.9" y="76.5" width="1" height="1" fill="#2234a8" opacity="0.75"/>
<rect x="140.7" y="62.4" width="1" height="1" fill="#2234a8" opacity="0.75"/>
<rect x="138.4" y="78.3" width="1" height="1" fill="#2234a8" opacity="0.75"/>
<rect x="163.4" y="63.9" width="1" height="1" fill="#2234a8" opacity="0.75"/>
<rect x="160.2" y="66.2" width="1" height="1" fill="#2234a8" opacity="0.75"/>
<rect x="142.3" y="77.5" width="1" height="1" fill="#2234a8" opacity="0.75"/>
<rect x="161.6" y="33.5" width="1" height="1" fill="#2234a8" opacity="0.75"/>
<rect x="145.8" y="75.1" width="1" height="1" fill="#2234a8" opacity="0.75"/>
<rect x="141.6" y="59.0" width="1" height="1" fill="#2234a8" opacity="0.75"/>
<rect x="169.8" y="38.8" width="1" height="1" fill="#2234a8" opacity="0.75"/>
<rect x="154.9" y="69.3" width="1" height="1" fill="#2234a8" opacity="0.75"/>
<rect x="143.8" y="55.2" width="1" height="1" fill="#2234a8" opacity="0.75"/>
<rect x="168.0" y="31.9" width="1" height="1" fill="#2234a8" opacity="0.75"/>
<rect x="162.2" y="29.9" width="1" height="1" fill="#2234a8" opacity="0.75"/>
<rect x="155.9" y="68.3" width="1" height="1" fill="#2234a8" opacity="0.75"/>
<rect x="139.1" y="68.4" width="1" height="1" fill="#2234a8" opacity="0.75"/>
<rect x="149.5" y="77.0" width="1" height="1" fill="#2234a8" opacity="0.75"/>
<rect x="146.7" y="74.8" width="1" height="1" fill="#2234a8" opacity="0.75"/>
<rect x="149.9" y="78.4" width="1" height="1" fill="#2234a8" opacity="0.75"/>
<rect x="165.1" y="61.5" width="1" height="1" fill="#2234a8" opacity="0.75"/>
<rect x="139.5" y="58.6" width="1" height="1" fill="#2234a8" opacity="0.75"/>
<rect x="174.1" y="47.7" width="1" height="1" fill="#2234a8" opacity="0.75"/>
<rect x="151.3" y="75.1" width="1" height="1" fill="#2234a8" opacity="0.75"/>
<rect x="162.0" y="62.3" width="1" height="1" fill="#2234a8" opacity="0.75"/>
<rect x="173.1" y="46.2" width="1" height="1" fill="#2234a8" opacity="0.75"/>
<rect x="164.6" y="36.5" width="1" height="1" fill="#2234a8" opacity="0.75"/>
<rect x="154.2" y="74.4" width="1" height="1" fill="#2234a8" opacity="0.75"/>
<rect x="159.7" y="35.8" width="1" height="1" fill="#2234a8" opacity="0.75"/>
<rect x="153.7" y="41.8" width="1" height="1" fill="#2234a8" opacity="0.75"/>
<rect x="169.9" y="58.1" width="1" height="1" fill="#2234a8" opacity="0.75"/>
<rect x="169.1" y="59.5" width="1" height="1" fill="#2234a8" opacity="0.75"/>
<rect x="170.5" y="43.2" width="1" height="1" fill="#2234a8" opacity="0.75"/>
<rect x="167.6" y="54.8" width="1" height="1" fill="#2234a8" opacity="0.75"/>
<rect x="167.5" y="61.1" width="1" height="1" fill="#2234a8" opacity="0.75"/>
<rect x="149.0" y="77.5" width="1" height="1" fill="#2234a8" opacity="0.75"/>
<rect x="142.7" y="56.2" width="1" height="1" fill="#2234a8" opacity="0.75"/>
<rect x="160.7" y="65.0" width="1" height="1" fill="#2234a8" opacity="0.75"/>
<rect x="140.3" y="66.0" width="1" height="1" fill="#2234a8" opacity="0.75"/>
<rect x="166.4" y="39.2" width="1" height="1" fill="#2234a8" opacity="0.75"/>
<rect x="165.9" y="38.9" width="1" height="1" fill="#2234a8" opacity="0.75"/>
<rect x="141.9" y="62.0" width="1" height="1" fill="#2234a8" opacity="0.75"/>
<rect x="160.0" y="64.5" width="1" height="1" fill="#2234a8" opacity="0.75"/>
<rect x="155.2" y="39.6" width="1" height="1" fill="#2234a8" opacity="0.75"/>
<rect x="148.7" y="47.8" width="1" height="1" fill="#2234a8" opacity="0.75"/>
<rect x="157.7" y="66.5" width="1" height="1" fill="#2234a8" opacity="0.75"/>
<rect x="140.4" y="77.7" width="1" height="1" fill="#2234a8" opacity="0.75"/>
<rect x="168.7" y="37.1" width="1" height="1" fill="#2234a8" opacity="0.75"/>
<rect x="155.8" y="70.0" width="1" height="1" fill="#2234a8" opacity="0.75"/>
<rect x="147.3" y="49.0" width="1" height="1" fill="#2234a8" opacity="0.75"/>
<rect x="154.4" y="71.5" width="1" height="1" fill="#2234a8" opacity="0.75"/>
<rect x="168.9" y="53.5" width="1" height="1" fill="#2234a8" opacity="0.75"/>
<rect x="166.8" y="29.3" width="1" height="1" fill="#2234a8" opacity="0.75"/>
<rect x="168.3" y="53.5" width="1" height="1" fill="#2234a8" opacity="0.75"/>
<rect x="166.6" y="37.4" width="1" height="1" fill="#2234a8" opacity="0.75"/>
<rect x="162.5" y="34.2" width="1" height="1" fill="#2234a8" opacity="0.75"/>
<rect x="161.5" y="36.2" width="1" height="1" fill="#2234a8" opacity="0.75"/>
<rect x="149.6" y="78.5" width="1" height="1" fill="#2234a8" opacity="0.75"/>
<rect x="139.0" y="62.1" width="1" height="1" fill="#2234a8" opacity="0.75"/>
<rect x="144.3" y="73.8" width="1" height="1" fill="#2234a8" opacity="0.75"/>
<rect x="161.9" y="62.9" width="1" height="1" fill="#2234a8" opacity="0.75"/>
<rect x="168.1" y="56.9" width="1" height="1" fill="#2234a8" opacity="0.75"/>
<rect x="149.1" y="77.9" width="1" height="1" fill="#2234a8" opacity="0.75"/>
<rect x="161.0" y="32.3" width="1" height="1" fill="#2234a8" opacity="0.75"/>
<rect x="165.6" y="38.0" width="1" height="1" fill="#2234a8" opacity="0.75"/>
<rect x="141.8" y="75.1" width="1" height="1" fill="#2234a8" opacity="0.75"/>
<rect x="168.5" y="31.4" width="1" height="1" fill="#2234a8" opacity="0.75"/>
<rect x="171.1" y="41.8" width="1" height="1" fill="#2234a8" opacity="0.75"/>
<rect x="151.9" y="71.6" width="1" height="1" fill="#2234a8" opacity="0.75"/>
<rect x="170.3" y="46.9" width="1" height="1" fill="#2234a8" opacity="0.75"/>
<rect x="169.6" y="50.4" width="1" height="1" fill="#2234a8" opacity="0.75"/>
<rect x="164.3" y="62.2" width="1" height="1" fill="#2234a8" opacity="0.75"/>
<rect x="168.4" y="35.8" width="1" height="1" fill="#2234a8" opacity="0.75"/>
<rect x="143.5" y="52.5" width="1" height="1" fill="#2234a8" opacity="0.75"/>
<rect x="159.8" y="34.7" width="1" height="1" fill="#2234a8" opacity="0.75"/>
<rect x="163.4" y="30.0" width="1" height="1" fill="#2234a8" opacity="0.75"/>
<rect x="141.3" y="61.1" width="1" height="1" fill="#2234a8" opacity="0.75"/>
<rect x="171.2" y="45.8" width="1" height="1" fill="#2234a8" opacity="0.75"/>
<rect x="145.1" y="52.9" width="1" height="1" fill="#2234a8" opacity="0.75"/>
<rect x="157.1" y="67.8" width="1" height="1" fill="#2234a8" opacity="0.75"/>
<rect x="169.2" y="41.2" width="1" height="1" fill="#2234a8" opacity="0.75"/>
<rect x="170.9" y="37.7" width="1" height="1" fill="#2234a8" opacity="0.75"/>
<rect x="167.7" y="41.2" width="1" height="1" fill="#2234a8" opacity="0.75"/>
<rect x="166.7" y="57.1" width="1" height="1" fill="#2234a8" opacity="0.75"/>
<rect x="165.6" y="63.8" width="1" height="1" fill="#2234a8" opacity="0.75"/>
<rect x="145.9" y="78.9" width="1" height="1" fill="#2234a8" opacity="0.75"/>
<rect x="167.6" y="38.9" width="1" height="1" fill="#2234a8" opacity="0.75"/>
<rect x="169.5" y="39.2" width="1" height="1" fill="#2234a8" opacity="0.75"/>
<rect x="142.2" y="73.5" width="1" height="1" fill="#2234a8" opacity="0.75"/>
<rect x="162.5" y="63.1" width="1" height="1" fill="#2234a8" opacity="0.75"/>
<rect x="136.0" y="68.1" width="1" height="1" fill="#2234a8" opacity="0.75"/>
<rect x="156.8" y="69.3" width="1" height="1" fill="#2234a8" opacity="0.75"/>
<rect x="148.7" y="47.9" width="1" height="1" fill="#2234a8" opacity="0.75"/>
<rect x="159.1" y="66.9" width="1" height="1" fill="#2234a8" opacity="0.75"/>
<rect x="169.8" y="44.2" width="1" height="1" fill="#2234a8" opacity="0.75"/>
<rect x="173.8" y="44.6" width="1" height="1" fill="#2234a8" opacity="0.75"/>
<rect x="168.7" y="59.4" width="1" height="1" fill="#2234a8" opacity="0.75"/>
<rect x="158.9" y="66.8" width="1" height="1" fill="#2234a8" opacity="0.75"/>
<rect x="156.3" y="34.9" width="1" height="1" fill="#2234a8" opacity="0.75"/>
<rect x="140.8" y="67.7" width="1" height="1" fill="#2234a8" opacity="0.75"/>
<rect x="163.4" y="33.2" width="1" height="1" fill="#2234a8" opacity="0.75"/>
<rect x="136.4" y="65.6" width="1" height="1" fill="#2234a8" opacity="0.75"/>
<rect x="158.9" y="67.0" width="1" height="1" fill="#2234a8" opacity="0.75"/>
<rect x="146.8" y="75.7" width="1" height="1" fill="#2234a8" opacity="0.75"/>
<rect x="166.5" y="38.0" width="1" height="1" fill="#2234a8" opacity="0.75"/>
<rect x="172.2" y="45.9" width="1" height="1" fill="#2234a8" opacity="0.75"/>
<rect x="141.5" y="73.7" width="1" height="1" fill="#2234a8" opacity="0.75"/>
<rect x="158.5" y="67.1" width="1" height="1" fill="#2234a8" opacity="0.75"/>
<rect x="155.7" y="34.7" width="1" height="1" fill="#2234a8" opacity="0.75"/>
<rect x="151.1" y="73.1" width="1" height="1" fill="#2234a8" opacity="0.75"/>
<rect x="137.6" y="68.0" width="1" height="1" fill="#2234a8" opacity="0.75"/>
<rect x="168.8" y="52.2" width="1" height="1" fill="#2234a8" opacity="0.75"/>
<rect x="135.4" y="70.3" width="1" height="1" fill="#2234a8" opacity="0.75"/>
<rect x="140.8" y="55.1" width="1" height="1" fill="#2234a8" opacity="0.75"/>
<rect x="143.6" y="74.1" width="1" height="1" fill="#2234a8" opacity="0.75"/>
<rect x="170.0" y="45.3" width="1" height="1" fill="#2234a8" opacity="0.75"/>
<rect x="141.0" y="55.9" width="1" height="1" fill="#2234a8" opacity="0.75"/>
<rect x="141.6" y="71.0" width="1" height="1" fill="#2234a8" opacity="0.75"/>
<rect x="164.3" y="60.5" width="1" height="1" fill="#2234a8" opacity="0.75"/>
<rect x="149.9" y="74.9" width="1" height="1" fill="#2234a8" opacity="0.75"/>
<rect x="142.6" y="72.4" width="1" height="1" fill="#2234a8" opacity="0.75"/>
<rect x="142.2" y="59.3" width="1" height="1" fill="#2234a8" opacity="0.75"/>
<rect x="151.7" y="76.8" width="1" height="1" fill="#2234a8" opacity="0.75"/>
<rect x="157.6" y="33.9" width="1" height="1" fill="#2234a8" opacity="0.75"/>
<rect x="149.8" y="73.0" width="1" height="1" fill="#2234a8" opacity="0.75"/>
<rect x="143.1" y="77.1" width="1" height="1" fill="#2234a8" opacity="0.75"/>
<rect x="142.2" y="71.7" width="1" height="1" fill="#2234a8" opacity="0.75"/>
<rect x="169.5" y="51.5" width="1" height="1" fill="#2234a8" opacity="0.75"/>
<rect x="166.4" y="36.8" width="1" height="1" fill="#2234a8" opacity="0.75"/>
<rect x="161.3" y="34.9" width="1" height="1" fill="#2234a8" opacity="0.75"/>
<rect x="168.6" y="31.4" width="1" height="1" fill="#2234a8" opacity="0.75"/>
<rect x="166.1" y="34.9" width="1" height="1" fill="#2234a8" opacity="0.75"/>
<rect x="156.0" y="71.0" width="1" height="1" fill="#2234a8" opacity="0.75"/>
<rect x="165.9" y="36.5" width="1" height="1" fill="#2234a8" opacity="0.75"/>
<rect x="170.8" y="44.0" width="1" height="1" fill="#2234a8" opacity="0.75"/>
<rect x="137.8" y="64.9" width="1" height="1" fill="#2234a8" opacity="0.75"/>
<rect x="146.4" y="76.2" width="1" height="1" fill="#2234a8" opacity="0.75"/>
<rect x="162.0" y="63.8" width="1" height="1" fill="#2234a8" opacity="0.75"/>
<rect x="145.7" y="73.5" width="1" height="1" fill="#2234a8" opacity="0.75"/>
<rect x="151.5" y="43.7" width="1" height="1" fill="#2234a8" opacity="0.75"/>
<rect x="171.2" y="44.3" width="1" height="1" fill="#2234a8" opacity="0.75"/>
<rect x="148.3" y="77.8" width="1" height="1" fill="#2234a8" opacity="0.75"/>
<rect x="153.4" y="71.5" width="1" height="1" fill="#2234a8" opacity="0.75"/>
<rect x="144.4" y="55.9" width="1" height="1" fill="#2234a8" opacity="0.75"/>
<rect x="169.8" y="55.0" width="1" height="1" fill="#2234a8" opacity="0.75"/>
<rect x="145.9" y="73.4" width="1" height="1" fill="#2234a8" opacity="0.75"/>
<rect x="146.3" y="46.4" width="1" height="1" fill="#2234a8" opacity="0.75"/>
<rect x="156.8" y="71.0" width="1" height="1" fill="#2234a8" opacity="0.75"/>
<rect x="142.5" y="57.4" width="1" height="1" fill="#2234a8" opacity="0.75"/>
<rect x="136.8" y="65.7" width="1" height="1" fill="#2234a8" opacity="0.75"/>
<rect x="169.2" y="38.3" width="1" height="1" fill="#2234a8" opacity="0.75"/>
<rect x="165.5" y="60.6" width="1" height="1" fill="#2234a8" opacity="0.75"/>
<rect x="171.5" y="55.3" width="1" height="1" fill="#2234a8" opacity="0.75"/>
<rect x="167.6" y="36.7" width="1" height="1" fill="#2234a8" opacity="0.75"/>
<rect x="153.8" y="74.7" width="1" height="1" fill="#2234a8" opacity="0.75"/>
<rect x="169.8" y="46.2" width="1" height="1" fill="#2234a8" opacity="0.75"/>
<rect x="159.8" y="69.7" width="1" height="1" fill="#2234a8" opacity="0.75"/>
<rect x="164.4" y="62.5" width="1" height="1" fill="#2234a8" opacity="0.75"/>
<rect x="168.0" y="39.3" width="1" height="1" fill="#2234a8" opacity="0.75"/>
<rect x="169.3" y="36.6" width="1" height="1" fill="#2234a8" opacity="0.75"/>
<rect x="144.5" y="53.2" width="1" height="1" fill="#2234a8" opacity="0.75"/>
<rect x="152.4" y="74.5" width="1" height="1" fill="#2234a8" opacity="0.75"/>
<rect x="168.8" y="34.7" width="1" height="1" fill="#2234a8" opacity="0.75"/>
<rect x="147.9" y="74.2" width="1" height="1" fill="#2234a8" opacity="0.75"/>
<rect x="169.0" y="39.0" width="1" height="1" fill="#2234a8" opacity="0.75"/>
<rect x="167.9" y="38.5" width="1" height="1" fill="#2234a8" opacity="0.75"/>
<rect x="164.8" y="60.4" width="1" height="1" fill="#2234a8" opacity="0.75"/>
<rect x="161.8" y="33.2" width="1" height="1" fill="#2234a8" opacity="0.75"/>
<rect x="160.8" y="32.7" width="1" height="1" fill="#2234a8" opacity="0.75"/>
<rect x="135.5" y="73.7" width="1" height="1" fill="#2234a8" opacity="0.75"/>
<rect x="168.8" y="53.4" width="1" height="1" fill="#2234a8" opacity="0.75"/>
<rect x="143.5" y="56.1" width="1" height="1" fill="#2234a8" opacity="0.75"/>
<rect x="167.1" y="56.7" width="1" height="1" fill="#2234a8" opacity="0.75"/>
<rect x="150.7" y="78.0" width="1" height="1" fill="#2234a8" opacity="0.75"/>
<rect x="144.7" y="76.0" width="1" height="1" fill="#2234a8" opacity="0.75"/>
<rect x="139.2" y="71.0" width="1" height="1" fill="#2234a8" opacity="0.75"/>
<rect x="169.3" y="51.9" width="1" height="1" fill="#2234a8" opacity="0.75"/>
<rect x="164.0" y="31.4" width="1" height="1" fill="#2234a8" opacity="0.75"/>
<rect x="159.9" y="67.6" width="1" height="1" fill="#2234a8" opacity="0.75"/>
<rect x="168.1" y="60.0" width="1" height="1" fill="#2234a8" opacity="0.75"/>
<rect x="169.4" y="56.3" width="1" height="1" fill="#2234a8" opacity="0.75"/>
<rect x="152.1" y="77.3" width="1" height="1" fill="#2234a8" opacity="0.75"/>
<rect x="142.5" y="58.6" width="1" height="1" fill="#2234a8" opacity="0.75"/>
<rect x="172.4" y="40.5" width="1" height="1" fill="#2234a8" opacity="0.75"/>
<rect x="167.8" y="59.8" width="1" height="1" fill="#2234a8" opacity="0.75"/>
<rect x="172.7" y="52.8" width="1" height="1" fill="#2234a8" opacity="0.75"/>
<rect x="138.4" y="65.1" width="1" height="1" fill="#2234a8" opacity="0.75"/>
<rect x="164.4" y="59.7" width="1" height="1" fill="#2234a8" opacity="0.75"/>
<rect x="154.6" y="70.4" width="1" height="1" fill="#2234a8" opacity="0.75"/>
<rect x="155.5" y="69.8" width="1" height="1" fill="#2234a8" opacity="0.75"/>
<rect x="156.7" y="68.4" width="1" height="1" fill="#2234a8" opacity="0.75"/>
<rect x="172.2" y="38.3" width="1" height="1" fill="#2234a8" opacity="0.75"/>
</g>
<clipPath id="clip3"><rect x="199.5" y="28.3" width="64.80000000000001" height="60.2"/></clipPath>
<g clip-path="url(#clip3)">
<path d="M217.60,42.70 C218.15,40.62 219.15,41.25 220.90,40.70 C222.65,40.15 225.60,39.50 228.10,39.40 C230.60,39.30 233.50,39.33 235.90,40.10 C238.30,40.87 240.53,42.70 242.50,44.00 C244.47,45.30 246.73,45.93 247.70,47.90 C248.67,49.87 248.73,53.40 248.30,55.80 C247.87,58.20 246.52,60.78 245.10,62.30 C243.68,63.82 241.55,63.82 239.80,64.90 C238.05,65.98 236.33,67.48 234.60,68.80 C232.87,70.12 231.13,71.38 229.40,72.80 C227.67,74.22 226.17,76.55 224.20,77.30 C222.23,78.05 219.13,78.05 217.60,77.30 C216.07,76.55 215.32,75.08 215.00,72.80 C214.68,70.52 215.27,66.87 215.70,63.60 C216.13,60.33 217.28,56.68 217.60,53.20 C217.92,49.72 217.05,44.78 217.60,42.70Z" fill="#2234a8" opacity="0.7" filter="url(#b1)"/>
<path d="M220.08,45.70 C220.52,44.04 221.32,44.55 222.72,44.11 C224.12,43.67 226.48,43.14 228.48,43.06 C230.48,42.98 232.80,43.01 234.72,43.62 C236.64,44.24 238.43,45.70 240.00,46.74 C241.57,47.78 243.39,48.29 244.16,49.86 C244.93,51.44 244.99,54.26 244.64,56.18 C244.29,58.10 243.21,60.17 242.08,61.38 C240.95,62.60 239.24,62.60 237.84,63.47 C236.44,64.33 235.07,65.53 233.68,66.58 C232.29,67.64 230.91,68.65 229.52,69.78 C228.13,70.92 226.93,72.78 225.36,73.38 C223.79,73.98 221.31,73.98 220.08,73.38 C218.85,72.78 218.25,71.61 218.00,69.78 C217.75,67.96 218.21,65.04 218.56,62.43 C218.91,59.81 219.83,56.89 220.08,54.11 C220.33,51.32 219.64,47.37 220.08,45.70Z" fill="#3a62d4" opacity="0.9" filter="url(#b2)"/>
<path d="M217.06,60.75 C217.77,57.70 219.30,51.91 220.72,48.55 C222.14,45.19 223.57,42.25 225.60,40.62 C227.63,38.99 230.68,38.08 232.92,38.79 C235.16,39.50 237.70,42.25 239.02,44.89 C240.34,47.53 241.05,52.01 240.85,54.65 C240.65,57.29 239.53,59.12 237.80,60.75 C236.07,62.38 232.51,62.78 230.48,64.41 C228.45,66.04 227.43,69.29 225.60,70.51 C223.77,71.73 221.03,72.34 219.50,71.73 C217.97,71.12 216.86,68.68 216.45,66.85 C216.04,65.02 216.35,63.80 217.06,60.75Z" fill="#4fa6e8" opacity="0.9" filter="url(#b1)"/>
<ellipse cx="222.8" cy="62" rx="6.2" ry="5.2" transform="rotate(-60 222.8 62)" fill="#46c4dc" opacity="1" filter="url(#b1)"/>
<ellipse cx="230.5" cy="47" rx="5.6" ry="4.8" transform="rotate(0 230.5 47)" fill="#46c4dc" opacity="1" filter="url(#b1)"/>
<ellipse cx="233" cy="55" rx="5.9" ry="5.4" transform="rotate(0 233 55)" fill="#46c4dc" opacity="1" filter="url(#b1)"/>
<ellipse cx="222.8" cy="62" rx="3.9" ry="3.0" transform="rotate(-60 222.8 62)" fill="#66cc5e" opacity="1" filter="url(#b1)"/>
<ellipse cx="230.5" cy="47" rx="3.5" ry="2.8" transform="rotate(0 230.5 47)" fill="#66cc5e" opacity="1" filter="url(#b1)"/>
<ellipse cx="230.5" cy="46" rx="2.0" ry="1.5" transform="rotate(0 230.5 46)" fill="#e4e446" opacity="1" filter="url(#b1)"/>
<ellipse cx="233" cy="55" rx="3.6" ry="3.3" transform="rotate(0 233 55)" fill="#e4e446" opacity="1" filter="url(#b0)"/>
<ellipse cx="233" cy="55.2" rx="2.8" ry="2.5" transform="rotate(0 233 55.2)" fill="#f08c28" opacity="1" filter="url(#b0)"/>
<ellipse cx="233" cy="55.6" rx="1.6" ry="1.4" transform="rotate(0 233 55.6)" fill="#d01c0c" opacity="1" filter="url(#b0)"/>
<ellipse cx="236" cy="33" rx="3.8" ry="2.2" transform="rotate(0 236 33)" fill="#2234a8" opacity="0.8" filter="url(#b1)"/>
<rect x="245.7" y="47.4" width="1" height="1" fill="#2234a8" opacity="0.75"/>
<rect x="245.7" y="57.4" width="1" height="1" fill="#2234a8" opacity="0.75"/>
<rect x="237.7" y="42.3" width="1" height="1" fill="#2234a8" opacity="0.75"/>
<rect x="233.0" y="69.6" width="1" height="1" fill="#2234a8" opacity="0.75"/>
<rect x="239.0" y="38.3" width="1" height="1" fill="#2234a8" opacity="0.75"/>
<rect x="227.7" y="72.4" width="1" height="1" fill="#2234a8" opacity="0.75"/>
<rect x="217.2" y="45.4" width="1" height="1" fill="#2234a8" opacity="0.75"/>
<rect x="218.3" y="75.2" width="1" height="1" fill="#2234a8" opacity="0.75"/>
<rect x="234.8" y="68.4" width="1" height="1" fill="#2234a8" opacity="0.75"/>
<rect x="214.3" y="74.9" width="1" height="1" fill="#2234a8" opacity="0.75"/>
<rect x="215.3" y="72.4" width="1" height="1" fill="#2234a8" opacity="0.75"/>
<rect x="236.7" y="37.4" width="1" height="1" fill="#2234a8" opacity="0.75"/>
<rect x="225.1" y="76.1" width="1" height="1" fill="#2234a8" opacity="0.75"/>
<rect x="236.5" y="42.6" width="1" height="1" fill="#2234a8" opacity="0.75"/>
<rect x="223.9" y="80.6" width="1" height="1" fill="#2234a8" opacity="0.75"/>
<rect x="237.4" y="38.1" width="1" height="1" fill="#2234a8" opacity="0.75"/>
<rect x="214.2" y="66.6" width="1" height="1" fill="#2234a8" opacity="0.75"/>
<rect x="245.6" y="55.6" width="1" height="1" fill="#2234a8" opacity="0.75"/>
<rect x="216.6" y="59.9" width="1" height="1" fill="#2234a8" opacity="0.75"/>
<rect x="244.5" y="65.1" width="1" height="1" fill="#2234a8" opacity="0.75"/>
<rect x="225.7" y="41.4" width="1" height="1" fill="#2234a8" opacity="0.75"/>
<rect x="251.8" y="55.5" width="1" height="1" fill="#2234a8" opacity="0.75"/>
<rect x="249.4" y="45.6" width="1" height="1" fill="#2234a8" opacity="0.75"/>
<rect x="222.0" y="75.2" width="1" height="1" fill="#2234a8" opacity="0.75"/>
<rect x="244.9" y="43.3" width="1" height="1" fill="#2234a8" opacity="0.75"/>
<rect x="216.8" y="38.5" width="1" height="1" fill="#2234a8" opacity="0.75"/>
<rect x="225.1" y="41.1" width="1" height="1" fill="#2234a8" opacity="0.75"/>
<rect x="234.3" y="68.5" width="1" height="1" fill="#2234a8" opacity="0.75"/>
<rect x="229.0" y="76.0" width="1" height="1" fill="#2234a8" opacity="0.75"/>
<rect x="226.9" y="76.9" width="1" height="1" fill="#2234a8" opacity="0.75"/>
<rect x="216.7" y="73.0" width="1" height="1" fill="#2234a8" opacity="0.75"/>
<rect x="217.5" y="71.2" width="1" height="1" fill="#2234a8" opacity="0.75"/>
<rect x="213.2" y="70.9" width="1" height="1" fill="#2234a8" opacity="0.75"/>
<rect x="240.8" y="40.3" width="1" height="1" fill="#2234a8" opacity="0.75"/>
<rect x="245.3" y="46.6" width="1" height="1" fill="#2234a8" opacity="0.75"/>
<rect x="219.0" y="46.9" width="1" height="1" fill="#2234a8" opacity="0.75"/>
<rect x="215.1" y="58.5" width="1" height="1" fill="#2234a8" opacity="0.75"/>
<rect x="217.8" y="39.8" width="1" height="1" fill="#2234a8" opacity="0.75"/>
<rect x="240.9" y="44.0" width="1" height="1" fill="#2234a8" opacity="0.75"/>
<rect x="250.4" y="49.0" width="1" height="1" fill="#2234a8" opacity="0.75"/>
<rect x="228.5" y="74.8" width="1" height="1" fill="#2234a8" opacity="0.75"/>
<rect x="243.2" y="42.0" width="1" height="1" fill="#2234a8" opacity="0.75"/>
<rect x="230.7" y="74.0" width="1" height="1" fill="#2234a8" opacity="0.75"/>
<rect x="248.3" y="47.2" width="1" height="1" fill="#2234a8" opacity="0.75"/>
<rect x="245.6" y="48.9" width="1" height="1" fill="#2234a8" opacity="0.75"/>
<rect x="216.5" y="48.1" width="1" height="1" fill="#2234a8" opacity="0.75"/>
<rect x="216.3" y="76.4" width="1" height="1" fill="#2234a8" opacity="0.75"/>
<rect x="233.5" y="40.6" width="1" height="1" fill="#2234a8" opacity="0.75"/>
<rect x="240.9" y="66.7" width="1" height="1" fill="#2234a8" opacity="0.75"/>
<rect x="237.3" y="43.6" width="1" height="1" fill="#2234a8" opacity="0.75"/>
<rect x="214.5" y="68.5" width="1" height="1" fill="#2234a8" opacity="0.75"/>
<rect x="219.2" y="44.1" width="1" height="1" fill="#2234a8" opacity="0.75"/>
<rect x="235.7" y="42.1" width="1" height="1" fill="#2234a8" opacity="0.75"/>
<rect x="250.3" y="53.1" width="1" height="1" fill="#2234a8" opacity="0.75"/>
<rect x="223.9" y="75.1" width="1" height="1" fill="#2234a8" opacity="0.75"/>
<rect x="233.2" y="37.1" width="1" height="1" fill="#2234a8" opacity="0.75"/>
<rect x="214.9" y="60.3" width="1" height="1" fill="#2234a8" opacity="0.75"/>
<rect x="224.8" y="75.6" width="1" height="1" fill="#2234a8" opacity="0.75"/>
<rect x="239.9" y="41.6" width="1" height="1" fill="#2234a8" opacity="0.75"/>
<rect x="231.4" y="40.4" width="1" height="1" fill="#2234a8" opacity="0.75"/>
<rect x="219.8" y="42.8" width="1" height="1" fill="#2234a8" opacity="0.75"/>
<rect x="230.6" y="70.4" width="1" height="1" fill="#2234a8" opacity="0.75"/>
<rect x="217.5" y="56.6" width="1" height="1" fill="#2234a8" opacity="0.75"/>
<rect x="218.6" y="54.0" width="1" height="1" fill="#2234a8" opacity="0.75"/>
<rect x="225.8" y="41.1" width="1" height="1" fill="#2234a8" opacity="0.75"/>
<rect x="215.5" y="66.9" width="1" height="1" fill="#2234a8" opacity="0.75"/>
<rect x="213.9" y="65.6" width="1" height="1" fill="#2234a8" opacity="0.75"/>
<rect x="223.6" y="74.7" width="1" height="1" fill="#2234a8" opacity="0.75"/>
<rect x="230.7" y="70.4" width="1" height="1" fill="#2234a8" opacity="0.75"/>
<rect x="234.8" y="40.5" width="1" height="1" fill="#2234a8" opacity="0.75"/>
<rect x="251.0" y="45.5" width="1" height="1" fill="#2234a8" opacity="0.75"/>
<rect x="228.7" y="71.5" width="1" height="1" fill="#2234a8" opacity="0.75"/>
<rect x="218.9" y="39.0" width="1" height="1" fill="#2234a8" opacity="0.75"/>
<rect x="245.4" y="63.8" width="1" height="1" fill="#2234a8" opacity="0.75"/>
<rect x="229.8" y="40.5" width="1" height="1" fill="#2234a8" opacity="0.75"/>
<rect x="245.6" y="62.9" width="1" height="1" fill="#2234a8" opacity="0.75"/>
<rect x="231.4" y="38.7" width="1" height="1" fill="#2234a8" opacity="0.75"/>
<rect x="218.4" y="78.4" width="1" height="1" fill="#2234a8" opacity="0.75"/>
<rect x="250.3" y="57.8" width="1" height="1" fill="#2234a8" opacity="0.75"/>
<rect x="249.1" y="48.9" width="1" height="1" fill="#2234a8" opacity="0.75"/>
<rect x="219.2" y="39.8" width="1" height="1" fill="#2234a8" opacity="0.75"/>
<rect x="237.7" y="37.2" width="1" height="1" fill="#2234a8" opacity="0.75"/>
<rect x="247.3" y="52.6" width="1" height="1" fill="#2234a8" opacity="0.75"/>
<rect x="218.3" y="49.8" width="1" height="1" fill="#2234a8" opacity="0.75"/>
<rect x="246.3" y="48.6" width="1" height="1" fill="#2234a8" opacity="0.75"/>
<rect x="237.2" y="66.6" width="1" height="1" fill="#2234a8" opacity="0.75"/>
<rect x="221.7" y="41.6" width="1" height="1" fill="#2234a8" opacity="0.75"/>
<rect x="248.5" y="57.0" width="1" height="1" fill="#2234a8" opacity="0.75"/>
<rect x="228.4" y="74.7" width="1" height="1" fill="#2234a8" opacity="0.75"/>
<rect x="227.3" y="73.7" width="1" height="1" fill="#2234a8" opacity="0.75"/>
<rect x="223.2" y="41.4" width="1" height="1" fill="#2234a8" opacity="0.75"/>
<rect x="214.9" y="59.7" width="1" height="1" fill="#2234a8" opacity="0.75"/>
<rect x="245.8" y="64.6" width="1" height="1" fill="#2234a8" opacity="0.75"/>
<rect x="248.5" y="43.6" width="1" height="1" fill="#2234a8" opacity="0.75"/>
<rect x="239.1" y="65.3" width="1" height="1" fill="#2234a8" opacity="0.75"/>
<rect x="217.5" y="37.9" width="1" height="1" fill="#2234a8" opacity="0.75"/>
<rect x="218.9" y="44.1" width="1" height="1" fill="#2234a8" opacity="0.75"/>
<rect x="216.0" y="53.4" width="1" height="1" fill="#2234a8" opacity="0.75"/>
<rect x="223.1" y="41.4" width="1" height="1" fill="#2234a8" opacity="0.75"/>
<rect x="219.5" y="78.8" width="1" height="1" fill="#2234a8" opacity="0.75"/>
<rect x="250.3" y="57.8" width="1" height="1" fill="#2234a8" opacity="0.75"/>
<rect x="219.0" y="79.9" width="1" height="1" fill="#2234a8" opacity="0.75"/>
<rect x="218.5" y="47.7" width="1" height="1" fill="#2234a8" opacity="0.75"/>
<rect x="219.9" y="37.8" width="1" height="1" fill="#2234a8" opacity="0.75"/>
<rect x="212.3" y="75.6" width="1" height="1" fill="#2234a8" opacity="0.75"/>
<rect x="217.6" y="63.1" width="1" height="1" fill="#2234a8" opacity="0.75"/>
<rect x="216.7" y="58.5" width="1" height="1" fill="#2234a8" opacity="0.75"/>
<rect x="214.5" y="55.0" width="1" height="1" fill="#2234a8" opacity="0.75"/>
<rect x="246.4" y="53.1" width="1" height="1" fill="#2234a8" opacity="0.75"/>
<rect x="229.2" y="75.5" width="1" height="1" fill="#2234a8" opacity="0.75"/>
<rect x="236.7" y="41.8" width="1" height="1" fill="#2234a8" opacity="0.75"/>
<rect x="249.1" y="60.1" width="1" height="1" fill="#2234a8" opacity="0.75"/>
<rect x="248.8" y="55.8" width="1" height="1" fill="#2234a8" opacity="0.75"/>
<rect x="237.2" y="65.9" width="1" height="1" fill="#2234a8" opacity="0.75"/>
<rect x="229.4" y="39.9" width="1" height="1" fill="#2234a8" opacity="0.75"/>
<rect x="215.1" y="55.8" width="1" height="1" fill="#2234a8" opacity="0.75"/>
<rect x="245.3" y="50.7" width="1" height="1" fill="#2234a8" opacity="0.75"/>
<rect x="249.7" y="59.6" width="1" height="1" fill="#2234a8" opacity="0.75"/>
<rect x="223.8" y="77.0" width="1" height="1" fill="#2234a8" opacity="0.75"/>
<rect x="217.1" y="59.9" width="1" height="1" fill="#2234a8" opacity="0.75"/>
<rect x="247.1" y="45.4" width="1" height="1" fill="#2234a8" opacity="0.75"/>
<rect x="227.3" y="74.7" width="1" height="1" fill="#2234a8" opacity="0.75"/>
<rect x="240.1" y="45.3" width="1" height="1" fill="#2234a8" opacity="0.75"/>
<rect x="239.0" y="63.5" width="1" height="1" fill="#2234a8" opacity="0.75"/>
<rect x="229.7" y="38.0" width="1" height="1" fill="#2234a8" opacity="0.75"/>
<rect x="246.6" y="58.0" width="1" height="1" fill="#2234a8" opacity="0.75"/>
<rect x="251.8" y="51.4" width="1" height="1" fill="#2234a8" opacity="0.75"/>
<rect x="241.5" y="62.3" width="1" height="1" fill="#2234a8" opacity="0.75"/>
<rect x="216.1" y="59.8" width="1" height="1" fill="#2234a8" opacity="0.75"/>
<rect x="246.8" y="56.0" width="1" height="1" fill="#2234a8" opacity="0.75"/>
<rect x="224.0" y="76.6" width="1" height="1" fill="#2234a8" opacity="0.75"/>
<rect x="247.6" y="60.4" width="1" height="1" fill="#2234a8" opacity="0.75"/>
<rect x="227.4" y="40.4" width="1" height="1" fill="#2234a8" opacity="0.75"/>
<rect x="241.1" y="43.3" width="1" height="1" fill="#2234a8" opacity="0.75"/>
<rect x="215.8" y="60.2" width="1" height="1" fill="#2234a8" opacity="0.75"/>
<rect x="215.7" y="67.9" width="1" height="1" fill="#2234a8" opacity="0.75"/>
<rect x="242.2" y="45.8" width="1" height="1" fill="#2234a8" opacity="0.75"/>
<rect x="226.8" y="75.6" width="1" height="1" fill="#2234a8" opacity="0.75"/>
<rect x="229.1" y="72.6" width="1" height="1" fill="#2234a8" opacity="0.75"/>
<rect x="213.5" y="61.1" width="1" height="1" fill="#2234a8" opacity="0.75"/>
<rect x="231.4" y="69.5" width="1" height="1" fill="#2234a8" opacity="0.75"/>
<rect x="217.8" y="60.5" width="1" height="1" fill="#2234a8" opacity="0.75"/>
<rect x="218.2" y="41.7" width="1" height="1" fill="#2234a8" opacity="0.75"/>
<rect x="215.6" y="50.0" width="1" height="1" fill="#2234a8" opacity="0.75"/>
<rect x="242.7" y="63.2" width="1" height="1" fill="#2234a8" opacity="0.75"/>
<rect x="224.2" y="38.3" width="1" height="1" fill="#2234a8" opacity="0.75"/>
<rect x="232.0" y="40.0" width="1" height="1" fill="#2234a8" opacity="0.75"/>
<rect x="216.7" y="58.5" width="1" height="1" fill="#2234a8" opacity="0.75"/>
<rect x="224.1" y="41.5" width="1" height="1" fill="#2234a8" opacity="0.75"/>
<rect x="237.1" y="39.5" width="1" height="1" fill="#2234a8" opacity="0.75"/>
<rect x="219.5" y="39.2" width="1" height="1" fill="#2234a8" opacity="0.75"/>
<rect x="233.3" y="70.9" width="1" height="1" fill="#2234a8" opacity="0.75"/>
<rect x="237.3" y="39.2" width="1" height="1" fill="#2234a8" opacity="0.75"/>
<rect x="215.7" y="43.6" width="1" height="1" fill="#2234a8" opacity="0.75"/>
<rect x="222.1" y="76.2" width="1" height="1" fill="#2234a8" opacity="0.75"/>
<rect x="229.2" y="37.2" width="1" height="1" fill="#2234a8" opacity="0.75"/>
<rect x="219.6" y="76.6" width="1" height="1" fill="#2234a8" opacity="0.75"/>
<rect x="216.7" y="62.9" width="1" height="1" fill="#2234a8" opacity="0.75"/>
<rect x="250.2" y="48.9" width="1" height="1" fill="#2234a8" opacity="0.75"/>
<rect x="249.8" y="46.0" width="1" height="1" fill="#2234a8" opacity="0.75"/>
<rect x="220.0" y="42.5" width="1" height="1" fill="#2234a8" opacity="0.75"/>
<rect x="229.0" y="38.0" width="1" height="1" fill="#2234a8" opacity="0.75"/>
<rect x="250.1" y="44.6" width="1" height="1" fill="#2234a8" opacity="0.75"/>
<rect x="216.7" y="62.0" width="1" height="1" fill="#2234a8" opacity="0.75"/>
<rect x="218.6" y="50.5" width="1" height="1" fill="#2234a8" opacity="0.75"/>
<rect x="216.3" y="50.0" width="1" height="1" fill="#2234a8" opacity="0.75"/>
<rect x="216.6" y="43.2" width="1" height="1" fill="#2234a8" opacity="0.75"/>
<rect x="226.6" y="35.9" width="1" height="1" fill="#2234a8" opacity="0.75"/>
<rect x="240.8" y="44.0" width="1" height="1" fill="#2234a8" opacity="0.75"/>
<rect x="246.9" y="43.5" width="1" height="1" fill="#2234a8" opacity="0.75"/>
<rect x="222.3" y="39.0" width="1" height="1" fill="#2234a8" opacity="0.75"/>
<rect x="216.0" y="70.3" width="1" height="1" fill="#2234a8" opacity="0.75"/>
<rect x="234.0" y="39.1" width="1" height="1" fill="#2234a8" opacity="0.75"/>
<rect x="215.4" y="39.3" width="1" height="1" fill="#2234a8" opacity="0.75"/>
<rect x="241.9" y="64.0" width="1" height="1" fill="#2234a8" opacity="0.75"/>
<rect x="251.1" y="45.4" width="1" height="1" fill="#2234a8" opacity="0.75"/>
<rect x="216.9" y="74.5" width="1" height="1" fill="#2234a8" opacity="0.75"/>
<rect x="238.9" y="41.7" width="1" height="1" fill="#2234a8" opacity="0.75"/>
<rect x="218.4" y="77.0" width="1" height="1" fill="#2234a8" opacity="0.75"/>
<rect x="223.7" y="38.8" width="1" height="1" fill="#2234a8" opacity="0.75"/>
<rect x="241.3" y="62.8" width="1" height="1" fill="#2234a8" opacity="0.75"/>
<rect x="215.8" y="51.6" width="1" height="1" fill="#2234a8" opacity="0.75"/>
<rect x="245.5" y="44.2" width="1" height="1" fill="#2234a8" opacity="0.75"/>
<rect x="223.8" y="74.6" width="1" height="1" fill="#2234a8" opacity="0.75"/>
<rect x="240.6" y="44.7" width="1" height="1" fill="#2234a8" opacity="0.75"/>
<rect x="222.4" y="41.5" width="1" height="1" fill="#2234a8" opacity="0.75"/>
<rect x="218.1" y="39.7" width="1" height="1" fill="#2234a8" opacity="0.75"/>
<rect x="242.2" y="45.9" width="1" height="1" fill="#2234a8" opacity="0.75"/>
<rect x="235.2" y="42.3" width="1" height="1" fill="#2234a8" opacity="0.75"/>
<rect x="214.1" y="78.0" width="1" height="1" fill="#2234a8" opacity="0.75"/>
<rect x="216.7" y="43.7" width="1" height="1" fill="#2234a8" opacity="0.75"/>
<rect x="215.6" y="69.8" width="1" height="1" fill="#2234a8" opacity="0.75"/>
<rect x="227.8" y="75.9" width="1" height="1" fill="#2234a8" opacity="0.75"/>
<rect x="232.3" y="70.0" width="1" height="1" fill="#2234a8" opacity="0.75"/>
<rect x="221.0" y="76.2" width="1" height="1" fill="#2234a8" opacity="0.75"/>
<rect x="247.6" y="43.0" width="1" height="1" fill="#2234a8" opacity="0.75"/>
<rect x="243.9" y="64.2" width="1" height="1" fill="#2234a8" opacity="0.75"/>
<rect x="216.8" y="59.7" width="1" height="1" fill="#2234a8" opacity="0.75"/>
<rect x="222.2" y="78.4" width="1" height="1" fill="#2234a8" opacity="0.75"/>
<rect x="230.9" y="70.3" width="1" height="1" fill="#2234a8" opacity="0.75"/>
<rect x="218.3" y="75.0" width="1" height="1" fill="#2234a8" opacity="0.75"/>
<rect x="216.4" y="60.5" width="1" height="1" fill="#2234a8" opacity="0.75"/>
<rect x="219.8" y="43.2" width="1" height="1" fill="#2234a8" opacity="0.75"/>
<rect x="242.8" y="43.2" width="1" height="1" fill="#2234a8" opacity="0.75"/>
<rect x="245.0" y="44.9" width="1" height="1" fill="#2234a8" opacity="0.75"/>
<rect x="213.6" y="67.9" width="1" height="1" fill="#2234a8" opacity="0.75"/>
<rect x="215.2" y="51.6" width="1" height="1" fill="#2234a8" opacity="0.75"/>
<rect x="232.0" y="42.5" width="1" height="1" fill="#2234a8" opacity="0.75"/>
<rect x="223.0" y="76.4" width="1" height="1" fill="#2234a8" opacity="0.75"/>
<rect x="214.2" y="75.5" width="1" height="1" fill="#2234a8" opacity="0.75"/>
<rect x="216.6" y="80.2" width="1" height="1" fill="#2234a8" opacity="0.75"/>
<rect x="220.9" y="76.3" width="1" height="1" fill="#2234a8" opacity="0.75"/>
<rect x="236.2" y="40.6" width="1" height="1" fill="#2234a8" opacity="0.75"/>
<rect x="242.0" y="39.5" width="1" height="1" fill="#2234a8" opacity="0.75"/>
<rect x="216.1" y="76.2" width="1" height="1" fill="#2234a8" opacity="0.75"/>
<rect x="218.0" y="60.7" width="1" height="1" fill="#2234a8" opacity="0.75"/>
<rect x="218.0" y="47.2" width="1" height="1" fill="#2234a8" opacity="0.75"/>
<rect x="239.7" y="45.2" width="1" height="1" fill="#2234a8" opacity="0.75"/>
<rect x="233.1" y="70.2" width="1" height="1" fill="#2234a8" opacity="0.75"/>
<rect x="251.3" y="52.6" width="1" height="1" fill="#2234a8" opacity="0.75"/>
<rect x="240.6" y="63.3" width="1" height="1" fill="#2234a8" opacity="0.75"/>
<rect x="214.9" y="80.1" width="1" height="1" fill="#2234a8" opacity="0.75"/>
<rect x="215.6" y="46.1" width="1" height="1" fill="#2234a8" opacity="0.75"/>
<rect x="218.9" y="52.6" width="1" height="1" fill="#2234a8" opacity="0.75"/>
<rect x="243.9" y="64.4" width="1" height="1" fill="#2234a8" opacity="0.75"/>
<rect x="231.6" y="70.1" width="1" height="1" fill="#2234a8" opacity="0.75"/>
<rect x="244.9" y="62.2" width="1" height="1" fill="#2234a8" opacity="0.75"/>
<rect x="246.2" y="49.3" width="1" height="1" fill="#2234a8" opacity="0.75"/>
<rect x="216.4" y="75.1" width="1" height="1" fill="#2234a8" opacity="0.75"/>
<rect x="245.7" y="50.0" width="1" height="1" fill="#2234a8" opacity="0.75"/>
<rect x="220.9" y="75.8" width="1" height="1" fill="#2234a8" opacity="0.75"/>
<rect x="217.0" y="61.0" width="1" height="1" fill="#2234a8" opacity="0.75"/>
<rect x="234.9" y="40.4" width="1" height="1" fill="#2234a8" opacity="0.75"/>
<rect x="212.1" y="71.9" width="1" height="1" fill="#2234a8" opacity="0.75"/>
<rect x="216.0" y="80.5" width="1" height="1" fill="#2234a8" opacity="0.75"/>
<rect x="217.7" y="50.7" width="1" height="1" fill="#2234a8" opacity="0.75"/>
<rect x="245.6" y="48.0" width="1" height="1" fill="#2234a8" opacity="0.75"/>
<rect x="248.8" y="49.4" width="1" height="1" fill="#2234a8" opacity="0.75"/>
<rect x="219.0" y="55.9" width="1" height="1" fill="#2234a8" opacity="0.75"/>
<rect x="216.9" y="42.2" width="1" height="1" fill="#2234a8" opacity="0.75"/>
<rect x="228.6" y="74.9" width="1" height="1" fill="#2234a8" opacity="0.75"/>
<rect x="238.7" y="39.4" width="1" height="1" fill="#2234a8" opacity="0.75"/>
<rect x="217.6" y="63.2" width="1" height="1" fill="#2234a8" opacity="0.75"/>
<rect x="246.3" y="56.3" width="1" height="1" fill="#2234a8" opacity="0.75"/>
<rect x="222.1" y="77.2" width="1" height="1" fill="#2234a8" opacity="0.75"/>
<rect x="247.6" y="54.6" width="1" height="1" fill="#2234a8" opacity="0.75"/>
<rect x="246.0" y="56.8" width="1" height="1" fill="#2234a8" opacity="0.75"/>
<rect x="238.2" y="42.5" width="1" height="1" fill="#2234a8" opacity="0.75"/>
<rect x="213.8" y="59.1" width="1" height="1" fill="#2234a8" opacity="0.75"/>
<rect x="219.2" y="46.9" width="1" height="1" fill="#2234a8" opacity="0.75"/>
<rect x="236.1" y="39.5" width="1" height="1" fill="#2234a8" opacity="0.75"/>
<rect x="216.2" y="75.9" width="1" height="1" fill="#2234a8" opacity="0.75"/>
<rect x="243.7" y="64.8" width="1" height="1" fill="#2234a8" opacity="0.75"/>
<rect x="246.5" y="49.4" width="1" height="1" fill="#2234a8" opacity="0.75"/>
<rect x="239.9" y="44.4" width="1" height="1" fill="#2234a8" opacity="0.75"/>
<rect x="244.5" y="41.3" width="1" height="1" fill="#2234a8" opacity="0.75"/>
<rect x="246.1" y="49.7" width="1" height="1" fill="#2234a8" opacity="0.75"/>
<rect x="217.0" y="71.2" width="1" height="1" fill="#2234a8" opacity="0.75"/>
<rect x="249.5" y="47.5" width="1" height="1" fill="#2234a8" opacity="0.75"/>
<rect x="216.8" y="65.5" width="1" height="1" fill="#2234a8" opacity="0.75"/>
</g>
<rect x="101.40" y="31.60" width="15.60" height="7.80" stroke="#8a8a8a" stroke-width="0.8" fill="none"/>
<rect x="173.00" y="31.60" width="17.80" height="8.50" stroke="#8a8a8a" stroke-width="0.8" fill="none"/>
<rect x="250.30" y="29.60" width="13.50" height="10.40" stroke="#8a8a8a" stroke-width="0.8" fill="#dde2ee"/>
<rect x="107.2" y="33.8" width="0.9" height="0.9" fill="#3a4ec0" opacity="0.6"/>
<rect x="111.5" y="33.4" width="0.9" height="0.9" fill="#3a4ec0" opacity="0.6"/>
<rect x="110.0" y="35.0" width="0.9" height="0.9" fill="#3a4ec0" opacity="0.6"/>
<rect x="103.8" y="35.8" width="0.9" height="0.9" fill="#3a4ec0" opacity="0.6"/>
<rect x="103.5" y="35.4" width="0.9" height="0.9" fill="#3a4ec0" opacity="0.6"/>
<rect x="103.9" y="33.5" width="0.9" height="0.9" fill="#3a4ec0" opacity="0.6"/>
<rect x="108.5" y="37.5" width="0.9" height="0.9" fill="#3a4ec0" opacity="0.6"/>
<rect x="104.6" y="34.2" width="0.9" height="0.9" fill="#3a4ec0" opacity="0.6"/>
<rect x="111.2" y="38.2" width="0.9" height="0.9" fill="#3a4ec0" opacity="0.6"/>
<rect x="110.5" y="35.2" width="0.9" height="0.9" fill="#3a4ec0" opacity="0.6"/>
<rect x="115.7" y="33.3" width="0.9" height="0.9" fill="#3a4ec0" opacity="0.6"/>
<rect x="114.2" y="34.6" width="0.9" height="0.9" fill="#3a4ec0" opacity="0.6"/>
<rect x="104.9" y="33.6" width="0.9" height="0.9" fill="#3a4ec0" opacity="0.6"/>
<rect x="107.0" y="37.5" width="0.9" height="0.9" fill="#3a4ec0" opacity="0.6"/>
<rect x="254.0" y="35.7" width="0.9" height="0.9" fill="#3a4ec0" opacity="0.6"/>
<rect x="259.0" y="34.0" width="0.9" height="0.9" fill="#3a4ec0" opacity="0.6"/>
<rect x="258.0" y="31.5" width="0.9" height="0.9" fill="#3a4ec0" opacity="0.6"/>
<rect x="252.7" y="32.6" width="0.9" height="0.9" fill="#3a4ec0" opacity="0.6"/>
<rect x="259.5" y="34.4" width="0.9" height="0.9" fill="#3a4ec0" opacity="0.6"/>
<rect x="255.5" y="35.7" width="0.9" height="0.9" fill="#3a4ec0" opacity="0.6"/>
<rect x="257.0" y="33.4" width="0.9" height="0.9" fill="#3a4ec0" opacity="0.6"/>
<rect x="260.7" y="36.6" width="0.9" height="0.9" fill="#3a4ec0" opacity="0.6"/>
<rect x="254.7" y="35.6" width="0.9" height="0.9" fill="#3a4ec0" opacity="0.6"/>
<rect x="257.8" y="38.0" width="0.9" height="0.9" fill="#3a4ec0" opacity="0.6"/>
<rect x="260.0" y="33.3" width="0.9" height="0.9" fill="#3a4ec0" opacity="0.6"/>
<rect x="262.8" y="31.9" width="0.9" height="0.9" fill="#3a4ec0" opacity="0.6"/>
<rect x="256.6" y="37.1" width="0.9" height="0.9" fill="#3a4ec0" opacity="0.6"/>
<rect x="253.7" y="34.9" width="0.9" height="0.9" fill="#3a4ec0" opacity="0.6"/>
<rect x="252.4" y="36.3" width="0.9" height="0.9" fill="#3a4ec0" opacity="0.6"/>
<rect x="260.4" y="35.6" width="0.9" height="0.9" fill="#3a4ec0" opacity="0.6"/>
<rect x="261.6" y="33.5" width="0.9" height="0.9" fill="#3a4ec0" opacity="0.6"/>
<rect x="259.6" y="35.8" width="0.9" height="0.9" fill="#3a4ec0" opacity="0.6"/>
<rect x="178" y="35.5" width="6" height="1" fill="#aaa"/>
<rect x="111" y="35.2" width="6" height="1" fill="#aaa"/>
<rect x="256" y="43" width="6" height="1" fill="#aaa"/>
<text stroke="#000" stroke-width="0.34" stroke-linejoin="round" x="55.30" y="39.00" font-size="9" font-weight="bold" font-style="normal" fill="#000" textLength="25.70" lengthAdjust="spacingAndGlyphs">0.41%</text>
<text stroke="#000" stroke-width="0.34" stroke-linejoin="round" x="128.80" y="39.40" font-size="9" font-weight="bold" font-style="normal" fill="#000" textLength="27.00" lengthAdjust="spacingAndGlyphs">0.08%</text>
<text stroke="#000" stroke-width="0.34" stroke-linejoin="round" x="201.50" y="39.00" font-size="9" font-weight="bold" font-style="normal" fill="#000" textLength="26.50" lengthAdjust="spacingAndGlyphs">0.33%</text>
<text stroke="#000" stroke-width="0.34" stroke-linejoin="round" x="68.20" y="103.30" font-size="10" font-weight="bold" font-style="normal" fill="#000" textLength="33.92" lengthAdjust="spacingAndGlyphs">cytIgG</text>
<text stroke="#000" stroke-width="0.34" stroke-linejoin="round" x="140.80" y="103.30" font-size="10" font-weight="bold" font-style="normal" fill="#000" textLength="36.92" lengthAdjust="spacingAndGlyphs">cytIgM</text>
<text stroke="#000" stroke-width="0.34" stroke-linejoin="round" x="214.60" y="103.30" font-size="10" font-weight="bold" font-style="normal" fill="#000" textLength="34.61" lengthAdjust="spacingAndGlyphs">cytIgA</text>
<line x1="85.20" y1="106.30" x2="85.20" y2="113.50" stroke="#000" stroke-width="1.8" />
<path d="M81.8,112.6 L88.60000000000001,112.6 L85.2,119.3 Z" fill="#000"/>
<line x1="159.40" y1="106.30" x2="159.40" y2="113.50" stroke="#000" stroke-width="1.8" />
<path d="M156.0,112.6 L162.8,112.6 L159.4,119.3 Z" fill="#000"/>
<line x1="231.50" y1="106.30" x2="231.50" y2="113.50" stroke="#000" stroke-width="1.8" />
<path d="M228.1,112.6 L234.9,112.6 L231.5,119.3 Z" fill="#000"/>
<rect x="52.40" y="122.50" width="65.10" height="60.30" stroke="#9a9a9a" stroke-width="0.8" fill="none"/>
<line x1="52.40" y1="134.56" x2="53.70" y2="134.56" stroke="#999" stroke-width="0.6" />
<line x1="52.40" y1="146.62" x2="53.70" y2="146.62" stroke="#999" stroke-width="0.6" />
<line x1="52.40" y1="158.68" x2="53.70" y2="158.68" stroke="#999" stroke-width="0.6" />
<line x1="52.40" y1="170.74" x2="53.70" y2="170.74" stroke="#999" stroke-width="0.6" />
<line x1="63.25" y1="182.80" x2="63.25" y2="181.50" stroke="#999" stroke-width="0.6" />
<line x1="74.10" y1="182.80" x2="74.10" y2="181.50" stroke="#999" stroke-width="0.6" />
<line x1="84.95" y1="182.80" x2="84.95" y2="181.50" stroke="#999" stroke-width="0.6" />
<line x1="95.80" y1="182.80" x2="95.80" y2="181.50" stroke="#999" stroke-width="0.6" />
<line x1="106.65" y1="182.80" x2="106.65" y2="181.50" stroke="#999" stroke-width="0.6" />
<line x1="56.40" y1="183.80" x2="113.50" y2="183.80" stroke="#d0d0d0" stroke-width="0.8" stroke-dasharray="3 2"/>
<rect x="127.00" y="123.00" width="64.30" height="60.30" stroke="#9a9a9a" stroke-width="0.8" fill="none"/>
<line x1="127.00" y1="135.06" x2="128.30" y2="135.06" stroke="#999" stroke-width="0.6" />
<line x1="127.00" y1="147.12" x2="128.30" y2="147.12" stroke="#999" stroke-width="0.6" />
<line x1="127.00" y1="159.18" x2="128.30" y2="159.18" stroke="#999" stroke-width="0.6" />
<line x1="127.00" y1="171.24" x2="128.30" y2="171.24" stroke="#999" stroke-width="0.6" />
<line x1="137.72" y1="183.30" x2="137.72" y2="182.00" stroke="#999" stroke-width="0.6" />
<line x1="148.43" y1="183.30" x2="148.43" y2="182.00" stroke="#999" stroke-width="0.6" />
<line x1="159.15" y1="183.30" x2="159.15" y2="182.00" stroke="#999" stroke-width="0.6" />
<line x1="169.87" y1="183.30" x2="169.87" y2="182.00" stroke="#999" stroke-width="0.6" />
<line x1="180.58" y1="183.30" x2="180.58" y2="182.00" stroke="#999" stroke-width="0.6" />
<line x1="131.00" y1="184.30" x2="187.30" y2="184.30" stroke="#d0d0d0" stroke-width="0.8" stroke-dasharray="3 2"/>
<rect x="199.40" y="123.00" width="64.60" height="59.80" stroke="#9a9a9a" stroke-width="0.8" fill="none"/>
<line x1="199.40" y1="134.96" x2="200.70" y2="134.96" stroke="#999" stroke-width="0.6" />
<line x1="199.40" y1="146.92" x2="200.70" y2="146.92" stroke="#999" stroke-width="0.6" />
<line x1="199.40" y1="158.88" x2="200.70" y2="158.88" stroke="#999" stroke-width="0.6" />
<line x1="199.40" y1="170.84" x2="200.70" y2="170.84" stroke="#999" stroke-width="0.6" />
<line x1="210.17" y1="182.80" x2="210.17" y2="181.50" stroke="#999" stroke-width="0.6" />
<line x1="220.93" y1="182.80" x2="220.93" y2="181.50" stroke="#999" stroke-width="0.6" />
<line x1="231.70" y1="182.80" x2="231.70" y2="181.50" stroke="#999" stroke-width="0.6" />
<line x1="242.47" y1="182.80" x2="242.47" y2="181.50" stroke="#999" stroke-width="0.6" />
<line x1="253.23" y1="182.80" x2="253.23" y2="181.50" stroke="#999" stroke-width="0.6" />
<line x1="203.40" y1="183.80" x2="260.00" y2="183.80" stroke="#d0d0d0" stroke-width="0.8" stroke-dasharray="3 2"/>
<line x1="53.40" y1="128.70" x2="84.30" y2="128.70" stroke="#777" stroke-width="0.7" />
<line x1="53.40" y1="126.50" x2="53.40" y2="130.90" stroke="#777" stroke-width="0.7" />
<line x1="84.30" y1="125.70" x2="84.30" y2="130.90" stroke="#777" stroke-width="0.7" />
<line x1="84.30" y1="125.70" x2="116.60" y2="125.70" stroke="#777" stroke-width="0.7" />
<line x1="116.60" y1="123.50" x2="116.60" y2="127.90" stroke="#777" stroke-width="0.7" />
<line x1="95.80" y1="125.70" x2="95.80" y2="176.80" stroke="#888" stroke-width="0.7" />
<rect x="53.9" y="123.3" width="6" height="1.4" fill="#bbb"/>
<rect x="110.5" y="123.3" width="5.5" height="1.4" fill="#bbb"/>
<line x1="127.50" y1="129.40" x2="158.70" y2="129.40" stroke="#777" stroke-width="0.7" />
<line x1="127.50" y1="127.20" x2="127.50" y2="131.60" stroke="#777" stroke-width="0.7" />
<line x1="158.70" y1="126.40" x2="158.70" y2="131.60" stroke="#777" stroke-width="0.7" />
<line x1="158.70" y1="126.00" x2="191.00" y2="126.00" stroke="#777" stroke-width="0.7" />
<line x1="191.00" y1="123.80" x2="191.00" y2="128.20" stroke="#777" stroke-width="0.7" />
<rect x="128.5" y="123.8" width="6" height="1.4" fill="#bbb"/>
<rect x="184.3" y="123.8" width="5.5" height="1.4" fill="#bbb"/>
<line x1="200.00" y1="129.20" x2="230.70" y2="129.20" stroke="#777" stroke-width="0.7" />
<line x1="200.00" y1="127.00" x2="200.00" y2="131.40" stroke="#777" stroke-width="0.7" />
<line x1="230.70" y1="126.20" x2="230.70" y2="131.40" stroke="#777" stroke-width="0.7" />
<line x1="230.70" y1="126.00" x2="263.50" y2="126.00" stroke="#777" stroke-width="0.7" />
<line x1="263.50" y1="123.80" x2="263.50" y2="128.20" stroke="#777" stroke-width="0.7" />
<line x1="242.40" y1="126.00" x2="242.40" y2="176.80" stroke="#888" stroke-width="0.7" />
<rect x="200.9" y="123.8" width="6" height="1.4" fill="#bbb"/>
<rect x="257" y="123.8" width="5.5" height="1.4" fill="#bbb"/>
<path d="M54.00,181.93 L54.80,181.93 L54.80,182.06 L55.60,182.06 L55.60,181.89 L56.40,181.89 L56.40,182.08 L57.20,182.08 L57.20,181.93 L58.00,181.93 L58.00,182.05 L58.80,182.05 L58.80,181.96 L59.60,181.96 L59.60,182.07 L60.40,182.07 L60.40,181.92 L61.20,181.92 L61.20,182.02 L62.00,182.02 L62.00,181.97 L62.80,181.97 L62.80,182.11 L63.60,182.11 L63.60,181.97 L64.40,181.97 L64.40,182.01 L65.20,182.01 L65.20,181.91 L66.00,181.91 L66.00,182.15 L66.80,182.15 L66.80,181.88 L67.60,181.88 L67.60,181.99 L68.40,181.99 L68.40,181.91 L69.20,181.91 L69.20,182.05 L70.00,182.05 L70.00,180.84 L70.80,180.84 L70.80,180.92 L71.60,180.92 L71.60,176.69 L72.40,176.69 L72.40,179.23 L73.20,179.23 L73.20,173.58 L74.00,173.58 L74.00,176.60 L74.80,176.60 L74.80,170.54 L75.60,170.54 L75.60,172.96 L76.40,172.96 L76.40,165.15 L77.20,165.15 L77.20,167.00 L78.00,167.00 L78.00,160.80 L78.80,160.80 L78.80,166.18 L79.60,166.18 L79.60,156.96 L80.40,156.96 L80.40,167.13 L81.20,167.13 L81.20,164.56 L82.00,164.56 L82.00,174.98 L82.80,174.98 L82.80,170.34 L83.60,170.34 L83.60,176.39 L84.40,176.39 L84.40,178.72 L85.20,178.72 L85.20,178.06 L86.00,178.06 L86.00,174.27 L86.80,174.27 L86.80,176.89 L87.60,176.89 L87.60,169.45 L88.40,169.45 L88.40,175.61 L89.20,175.61 L89.20,162.14 L90.00,162.14 L90.00,170.04 L90.80,170.04 L90.80,156.08 L91.60,156.08 L91.60,167.25 L92.40,167.25 L92.40,149.54 L93.20,149.54 L93.20,157.21 L94.00,157.21 L94.00,152.61 L94.80,152.61 L94.80,164.57 L95.60,164.57 L95.60,138.42 L96.40,138.42 L96.40,160.35 L97.20,160.35 L97.20,147.43 L98.00,147.43 L98.00,167.69 L98.80,167.69 L98.80,164.38 L99.60,164.38 L99.60,172.06 L100.40,172.06 L100.40,171.92 L101.20,171.92 L101.20,180.08 L102.00,180.08 L102.00,181.97 L102.80,181.97 L102.80,182.10 L103.60,182.10 L103.60,181.88 L104.40,181.88 L104.40,182.02 L105.20,182.02 L105.20,181.97 L106.00,181.97 L106.00,182.12 L106.80,182.12 L106.80,181.97 L107.60,181.97 L107.60,182.15 L108.40,182.15 L108.40,181.90 L109.20,181.90 L109.20,182.13 L110.00,182.13 L110.00,181.92 L110.80,181.92 L110.80,182.08 L111.60,182.08 L111.60,181.96 L112.40,181.96 L112.40,182.03 L113.20,182.03 L113.20,181.97 L114.00,181.97 L114.00,182.04 L114.80,182.04 L114.80,181.97 L115.60,181.97 L115.60,182.08 L116.40,182.08" fill="none" stroke="#939393" stroke-width="0.5"/>
<line x1="128.50" y1="183.00" x2="128.50" y2="172.00" stroke="#a0a0a0" stroke-width="0.5" />
<line x1="129.89" y1="183.00" x2="129.89" y2="172.00" stroke="#a0a0a0" stroke-width="0.5" />
<line x1="131.45" y1="183.00" x2="131.45" y2="172.00" stroke="#a0a0a0" stroke-width="0.5" />
<line x1="132.99" y1="183.00" x2="132.99" y2="183.00" stroke="#a0a0a0" stroke-width="0.5" />
<line x1="134.16" y1="183.00" x2="134.16" y2="172.00" stroke="#a0a0a0" stroke-width="0.5" />
<line x1="135.48" y1="183.00" x2="135.48" y2="172.00" stroke="#a0a0a0" stroke-width="0.5" />
<line x1="136.37" y1="183.00" x2="136.37" y2="172.00" stroke="#a0a0a0" stroke-width="0.5" />
<line x1="137.36" y1="183.00" x2="137.36" y2="172.00" stroke="#a0a0a0" stroke-width="0.5" />
<line x1="138.62" y1="183.00" x2="138.62" y2="183.00" stroke="#a0a0a0" stroke-width="0.5" />
<line x1="139.60" y1="183.00" x2="139.60" y2="172.00" stroke="#a0a0a0" stroke-width="0.5" />
<line x1="141.13" y1="183.00" x2="141.13" y2="172.00" stroke="#a0a0a0" stroke-width="0.5" />
<line x1="142.06" y1="183.00" x2="142.06" y2="172.00" stroke="#a0a0a0" stroke-width="0.5" />
<line x1="142.97" y1="183.00" x2="142.97" y2="172.00" stroke="#a0a0a0" stroke-width="0.5" />
<line x1="143.87" y1="183.00" x2="143.87" y2="183.00" stroke="#a0a0a0" stroke-width="0.5" />
<line x1="145.37" y1="183.00" x2="145.37" y2="183.00" stroke="#a0a0a0" stroke-width="0.5" />
<line x1="146.34" y1="183.00" x2="146.34" y2="172.00" stroke="#a0a0a0" stroke-width="0.5" />
<line x1="147.84" y1="183.00" x2="147.84" y2="172.00" stroke="#a0a0a0" stroke-width="0.5" />
<line x1="149.41" y1="183.00" x2="149.41" y2="172.00" stroke="#a0a0a0" stroke-width="0.5" />
<line x1="150.75" y1="183.00" x2="150.75" y2="171.50" stroke="#a0a0a0" stroke-width="0.5" />
<line x1="152.30" y1="183.00" x2="152.30" y2="160.50" stroke="#a0a0a0" stroke-width="0.5" />
<line x1="153.88" y1="183.00" x2="153.88" y2="160.50" stroke="#a0a0a0" stroke-width="0.5" />
<line x1="154.91" y1="183.00" x2="154.91" y2="160.50" stroke="#a0a0a0" stroke-width="0.5" />
<line x1="155.85" y1="183.00" x2="155.85" y2="171.50" stroke="#a0a0a0" stroke-width="0.5" />
<line x1="156.70" y1="183.00" x2="156.70" y2="160.50" stroke="#a0a0a0" stroke-width="0.5" />
<line x1="157.98" y1="183.00" x2="157.98" y2="171.50" stroke="#a0a0a0" stroke-width="0.5" />
<line x1="159.32" y1="183.00" x2="159.32" y2="160.50" stroke="#a0a0a0" stroke-width="0.5" />
<line x1="160.37" y1="183.00" x2="160.37" y2="160.50" stroke="#a0a0a0" stroke-width="0.5" />
<line x1="161.56" y1="183.00" x2="161.56" y2="160.50" stroke="#a0a0a0" stroke-width="0.5" />
<line x1="162.74" y1="183.00" x2="162.74" y2="149.00" stroke="#a0a0a0" stroke-width="0.5" />
<line x1="163.59" y1="183.00" x2="163.59" y2="137.00" stroke="#a0a0a0" stroke-width="0.5" />
<line x1="164.41" y1="183.00" x2="164.41" y2="137.00" stroke="#a0a0a0" stroke-width="0.5" />
<line x1="165.88" y1="183.00" x2="165.88" y2="148.00" stroke="#a0a0a0" stroke-width="0.5" />
<line x1="167.31" y1="183.00" x2="167.31" y2="149.00" stroke="#a0a0a0" stroke-width="0.5" />
<line x1="168.57" y1="183.00" x2="168.57" y2="160.00" stroke="#a0a0a0" stroke-width="0.5" />
<line x1="169.41" y1="183.00" x2="169.41" y2="160.00" stroke="#a0a0a0" stroke-width="0.5" />
<line x1="170.98" y1="183.00" x2="170.98" y2="160.00" stroke="#a0a0a0" stroke-width="0.5" />
<line x1="172.38" y1="183.00" x2="172.38" y2="160.50" stroke="#a0a0a0" stroke-width="0.5" />
<line x1="173.93" y1="183.00" x2="173.93" y2="160.50" stroke="#a0a0a0" stroke-width="0.5" />
<line x1="175.02" y1="183.00" x2="175.02" y2="172.00" stroke="#a0a0a0" stroke-width="0.5" />
<line x1="176.44" y1="183.00" x2="176.44" y2="183.00" stroke="#a0a0a0" stroke-width="0.5" />
<line x1="177.84" y1="183.00" x2="177.84" y2="172.00" stroke="#a0a0a0" stroke-width="0.5" />
<line x1="144.20" y1="183.00" x2="144.20" y2="148.00" stroke="#a8a8a8" stroke-width="0.5" />
<line x1="151.60" y1="183.00" x2="151.60" y2="137.50" stroke="#a8a8a8" stroke-width="0.5" />
<line x1="165.00" y1="183.00" x2="165.00" y2="126.00" stroke="#a8a8a8" stroke-width="0.5" />
<line x1="171.10" y1="183.00" x2="171.10" y2="126.00" stroke="#a8a8a8" stroke-width="0.5" />
<line x1="147.00" y1="183.00" x2="147.00" y2="160.00" stroke="#a8a8a8" stroke-width="0.5" />
<line x1="157.00" y1="183.00" x2="157.00" y2="160.00" stroke="#a8a8a8" stroke-width="0.5" />
<path d="M128,172 L150,172 L150,160.5 L161.7,160.5 L161.7,149 L163,149 L163,137 L166.4,137 L166.4,149 L172,149 L172,160.5 L174,160.5 L174,172 L178,172" fill="none" stroke="#b4b4b4" stroke-width="0.5" stroke-dasharray="1.5 1"/>
<path d="M200.50,180.08 L201.30,180.08 L201.30,181.07 L202.10,181.07 L202.10,179.59 L202.90,179.59 L202.90,180.45 L203.70,180.45 L203.70,180.02 L204.50,180.02 L204.50,180.35 L205.30,180.35 L205.30,180.08 L206.10,180.08 L206.10,180.93 L206.90,180.93 L206.90,179.66 L207.70,179.66 L207.70,180.64 L208.50,180.64 L208.50,180.15 L209.30,180.15 L209.30,180.23 L210.10,180.23 L210.10,180.08 L210.90,180.08 L210.90,181.09 L211.70,181.09 L211.70,179.72 L212.50,179.72 L212.50,181.01 L213.30,181.01 L213.30,180.03 L214.10,180.03 L214.10,181.30 L214.90,181.30 L214.90,180.16 L215.70,180.16 L215.70,180.71 L216.50,180.71 L216.50,180.06 L217.30,180.06 L217.30,180.69 L218.10,180.69 L218.10,179.98 L218.90,179.98 L218.90,180.86 L219.70,180.86 L219.70,179.60 L220.50,179.60 L220.50,180.82 L221.30,180.82 L221.30,179.85 L222.10,179.85 L222.10,180.28 L222.90,180.28 L222.90,179.15 L223.70,179.15 L223.70,180.32 L224.50,180.32 L224.50,176.42 L225.30,176.42 L225.30,177.47 L226.10,177.47 L226.10,175.64 L226.90,175.64 L226.90,178.50 L227.70,178.50 L227.70,172.72 L228.50,172.72 L228.50,174.01 L229.30,174.01 L229.30,172.34 L230.10,172.34 L230.10,174.42 L230.90,174.42 L230.90,173.32 L231.70,173.32 L231.70,175.60 L232.50,175.60 L232.50,169.73 L233.30,169.73 L233.30,175.56 L234.10,175.56 L234.10,166.03 L234.90,166.03 L234.90,164.13 L235.70,164.13 L235.70,159.69 L236.50,159.69 L236.50,162.69 L237.30,162.69 L237.30,154.20 L238.10,154.20 L238.10,156.63 L238.90,156.63 L238.90,145.55 L239.70,145.55 L239.70,162.14 L240.50,162.14 L240.50,144.39 L241.30,144.39 L241.30,149.92 L242.10,149.92 L242.10,140.51 L242.90,140.51 L242.90,160.17 L243.70,160.17 L243.70,141.51 L244.50,141.51 L244.50,154.47 L245.30,154.47 L245.30,151.35 L246.10,151.35 L246.10,169.45 L246.90,169.45 L246.90,160.16 L247.70,160.16 L247.70,175.22 L248.50,175.22 L248.50,173.81 L249.30,173.81 L249.30,179.90 L250.10,179.90 L250.10,182.03 L250.90,182.03 L250.90,182.19 L251.70,182.19 L251.70,182.05 L252.50,182.05 L252.50,182.15 L253.30,182.15 L253.30,182.02 L254.10,182.02 L254.10,182.18 L254.90,182.18 L254.90,182.03 L255.70,182.03 L255.70,182.07 L256.50,182.07 L256.50,181.99 L257.30,181.99 L257.30,182.11 L258.10,182.11 L258.10,182.01 L258.90,182.01 L258.90,182.12 L259.70,182.12 L259.70,182.05 L260.50,182.05 L260.50,182.19 L261.30,182.19 L261.30,182.06 L262.10,182.06 L262.10,182.07 L262.90,182.07 L262.90,182.01 L263.70,182.01" fill="none" stroke="#939393" stroke-width="0.5"/>
<text stroke="#000" stroke-width="0.34" stroke-linejoin="round" x="99.10" y="143.80" font-size="10.6" font-weight="bold" font-style="normal" fill="#000" textLength="17.81" lengthAdjust="spacingAndGlyphs">66%</text>
<text stroke="#000" stroke-width="0.34" stroke-linejoin="round" x="173.10" y="143.80" font-size="10.6" font-weight="bold" font-style="normal" fill="#000" textLength="17.81" lengthAdjust="spacingAndGlyphs">65%</text>
<text stroke="#000" stroke-width="0.34" stroke-linejoin="round" x="246.50" y="143.80" font-size="10.6" font-weight="bold" font-style="normal" fill="#000" textLength="16.81" lengthAdjust="spacingAndGlyphs">90%</text>
<text stroke="#000" stroke-width="0.34" stroke-linejoin="round" x="59.80" y="196.80" font-size="11" font-weight="bold" font-style="normal" fill="#000" textLength="24.82" lengthAdjust="spacingAndGlyphs">CD19</text>
<line x1="93.80" y1="192.70" x2="258.00" y2="192.70" stroke="#000" stroke-width="1.8" />
<path d="M257,189.2 L264,192.7 L257,196.2 Z" fill="#000"/>
<text stroke="#000" stroke-width="0.35" stroke-linejoin="round" x="329.20" y="11.20" font-size="15.8" font-weight="bold" font-style="normal" fill="#000" textLength="10.03" lengthAdjust="spacingAndGlyphs">B</text>
<line x1="365.80" y1="30.60" x2="365.80" y2="170.90" stroke="#000" stroke-width="1.8" />
<line x1="364.80" y1="170.00" x2="495.40" y2="170.00" stroke="#000" stroke-width="1.9" />
<line x1="362.60" y1="170.00" x2="365.80" y2="170.00" stroke="#000" stroke-width="1.4" />
<text stroke="#000" stroke-width="0.34" stroke-linejoin="round" x="357.07" y="173.65" font-size="10.2" font-weight="bold" font-style="normal" fill="#000" textLength="4.74" lengthAdjust="spacingAndGlyphs">0</text>
<line x1="362.60" y1="142.12" x2="365.80" y2="142.12" stroke="#000" stroke-width="1.4" />
<text stroke="#000" stroke-width="0.34" stroke-linejoin="round" x="351.44" y="145.77" font-size="10.2" font-weight="bold" font-style="normal" fill="#000" textLength="10.38" lengthAdjust="spacingAndGlyphs">20</text>
<line x1="362.60" y1="114.24" x2="365.80" y2="114.24" stroke="#000" stroke-width="1.4" />
<text stroke="#000" stroke-width="0.34" stroke-linejoin="round" x="351.44" y="117.89" font-size="10.2" font-weight="bold" font-style="normal" fill="#000" textLength="10.38" lengthAdjust="spacingAndGlyphs">40</text>
<line x1="362.60" y1="86.36" x2="365.80" y2="86.36" stroke="#000" stroke-width="1.4" />
<text stroke="#000" stroke-width="0.34" stroke-linejoin="round" x="351.44" y="90.01" font-size="10.2" font-weight="bold" font-style="normal" fill="#000" textLength="10.38" lengthAdjust="spacingAndGlyphs">60</text>
<line x1="362.60" y1="58.48" x2="365.80" y2="58.48" stroke="#000" stroke-width="1.4" />
<text stroke="#000" stroke-width="0.34" stroke-linejoin="round" x="351.44" y="62.13" font-size="10.2" font-weight="bold" font-style="normal" fill="#000" textLength="10.38" lengthAdjust="spacingAndGlyphs">80</text>
<line x1="362.60" y1="30.60" x2="365.80" y2="30.60" stroke="#000" stroke-width="1.4" />
<text stroke="#000" stroke-width="0.34" stroke-linejoin="round" x="345.81" y="34.25" font-size="10.2" font-weight="bold" font-style="normal" fill="#000" textLength="15.98" lengthAdjust="spacingAndGlyphs">100</text>
<line x1="375.40" y1="170.00" x2="375.40" y2="173.60" stroke="#000" stroke-width="1.4" />
<line x1="394.60" y1="170.00" x2="394.60" y2="173.60" stroke="#000" stroke-width="1.4" />
<line x1="413.80" y1="170.00" x2="413.80" y2="173.60" stroke="#000" stroke-width="1.4" />
<line x1="446.50" y1="170.00" x2="446.50" y2="173.60" stroke="#000" stroke-width="1.4" />
<line x1="466.20" y1="170.00" x2="466.20" y2="173.60" stroke="#000" stroke-width="1.4" />
<line x1="485.50" y1="170.00" x2="485.50" y2="173.60" stroke="#000" stroke-width="1.4" />
<text stroke="#000" stroke-width="0.34" stroke-linejoin="round" x="366.90" y="183.80" font-size="10.2" font-weight="bold" font-style="normal" fill="#000" textLength="17.42" lengthAdjust="spacingAndGlyphs">IgG</text>
<text stroke="#000" stroke-width="0.34" stroke-linejoin="round" x="386.00" y="183.80" font-size="10.2" font-weight="bold" font-style="normal" fill="#000" textLength="17.81" lengthAdjust="spacingAndGlyphs">IgA</text>
<text stroke="#000" stroke-width="0.34" stroke-linejoin="round" x="405.40" y="183.80" font-size="10.2" font-weight="bold" font-style="normal" fill="#000" textLength="17.62" lengthAdjust="spacingAndGlyphs">IgM</text>
<text stroke="#000" stroke-width="0.34" stroke-linejoin="round" x="437.70" y="183.80" font-size="10.2" font-weight="bold" font-style="normal" fill="#000" textLength="17.92" lengthAdjust="spacingAndGlyphs">IgG</text>
<text stroke="#000" stroke-width="0.34" stroke-linejoin="round" x="457.50" y="183.80" font-size="10.2" font-weight="bold" font-style="normal" fill="#000" textLength="18.31" lengthAdjust="spacingAndGlyphs">IgA</text>
<text stroke="#000" stroke-width="0.34" stroke-linejoin="round" x="477.30" y="183.80" font-size="10.2" font-weight="bold" font-style="normal" fill="#000" textLength="17.72" lengthAdjust="spacingAndGlyphs">IgM</text>
<line x1="362.80" y1="193.40" x2="426.20" y2="193.40" stroke="#000" stroke-width="1.8" />
<line x1="433.50" y1="193.40" x2="497.00" y2="193.40" stroke="#000" stroke-width="1.8" />
<text stroke="#000" stroke-width="0.34" stroke-linejoin="round" x="381.50" y="210.50" font-size="10.2" font-weight="bold" font-style="normal" fill="#000" textLength="31.31" lengthAdjust="spacingAndGlyphs">CD19+</text>
<text stroke="#000" stroke-width="0.34" stroke-linejoin="round" x="450.80" y="210.30" font-size="10.2" font-weight="bold" font-style="normal" fill="#000" textLength="26.90" lengthAdjust="spacingAndGlyphs">CD19-</text>
<text stroke="#000" stroke-width="0.34" stroke-linejoin="round" transform="translate(339.70,145.10) rotate(-90)" x="0" y="0" font-size="11" font-weight="bold" font-style="normal" fill="#000" textLength="95.49" lengthAdjust="spacingAndGlyphs">% of BMPC subset</text>
<line x1="415.40" y1="7.30" x2="485.60" y2="7.30" stroke="#000" stroke-width="1.7" />
<path d="M444.50,0.10L444.50,4.50M442.59,1.20L446.41,3.40M442.59,3.40L446.41,1.20" stroke="#000" stroke-width="1.9" stroke-linecap="round" fill="none"/>
<circle cx="444.50" cy="2.30" r="1.58" fill="#000"/>
<path d="M450.50,0.10L450.50,4.50M448.59,1.20L452.41,3.40M448.59,3.40L452.41,1.20" stroke="#000" stroke-width="1.9" stroke-linecap="round" fill="none"/>
<circle cx="450.50" cy="2.30" r="1.58" fill="#000"/>
<path d="M456.50,0.10L456.50,4.50M454.59,1.20L458.41,3.40M454.59,3.40L458.41,1.20" stroke="#000" stroke-width="1.9" stroke-linecap="round" fill="none"/>
<circle cx="456.50" cy="2.30" r="1.58" fill="#000"/>
<line x1="396.00" y1="24.00" x2="466.30" y2="24.00" stroke="#000" stroke-width="1.7" />
<path d="M425.20,15.70L425.20,20.10M423.29,16.80L427.11,19.00M423.29,19.00L427.11,16.80" stroke="#000" stroke-width="1.9" stroke-linecap="round" fill="none"/>
<circle cx="425.20" cy="17.90" r="1.58" fill="#000"/>
<path d="M431.20,15.70L431.20,20.10M429.29,16.80L433.11,19.00M429.29,19.00L433.11,16.80" stroke="#000" stroke-width="1.9" stroke-linecap="round" fill="none"/>
<circle cx="431.20" cy="17.90" r="1.58" fill="#000"/>
<path d="M437.20,15.70L437.20,20.10M435.29,16.80L439.11,19.00M435.29,19.00L439.11,16.80" stroke="#000" stroke-width="1.9" stroke-linecap="round" fill="none"/>
<circle cx="437.20" cy="17.90" r="1.58" fill="#000"/>
<line x1="375.80" y1="37.10" x2="445.80" y2="37.10" stroke="#000" stroke-width="1.7" />
<path d="M405.00,29.70L405.00,34.10M403.09,30.80L406.91,33.00M403.09,33.00L406.91,30.80" stroke="#000" stroke-width="1.9" stroke-linecap="round" fill="none"/>
<circle cx="405.00" cy="31.90" r="1.58" fill="#000"/>
<path d="M411.00,29.70L411.00,34.10M409.09,30.80L412.91,33.00M409.09,33.00L412.91,30.80" stroke="#000" stroke-width="1.9" stroke-linecap="round" fill="none"/>
<circle cx="411.00" cy="31.90" r="1.58" fill="#000"/>
<path d="M417.00,29.70L417.00,34.10M415.09,30.80L418.91,33.00M415.09,33.00L418.91,30.80" stroke="#000" stroke-width="1.9" stroke-linecap="round" fill="none"/>
<circle cx="417.00" cy="31.90" r="1.58" fill="#000"/>
<line x1="449.00" y1="37.50" x2="466.30" y2="37.50" stroke="#000" stroke-width="1.7" />
<path d="M451.90,29.70L451.90,34.10M449.99,30.80L453.81,33.00M449.99,33.00L453.81,30.80" stroke="#000" stroke-width="1.9" stroke-linecap="round" fill="none"/>
<circle cx="451.90" cy="31.90" r="1.58" fill="#000"/>
<path d="M457.70,29.70L457.70,34.10M455.79,30.80L459.61,33.00M455.79,33.00L459.61,30.80" stroke="#000" stroke-width="1.9" stroke-linecap="round" fill="none"/>
<circle cx="457.70" cy="31.90" r="1.58" fill="#000"/>
<path d="M463.50,29.70L463.50,34.10M461.59,30.80L465.41,33.00M461.59,33.00L465.41,30.80" stroke="#000" stroke-width="1.9" stroke-linecap="round" fill="none"/>
<circle cx="463.50" cy="31.90" r="1.58" fill="#000"/>
<line x1="375.30" y1="51.90" x2="414.80" y2="51.90" stroke="#000" stroke-width="1.7" />
<path d="M389.40,44.50L389.40,48.90M387.49,45.60L391.31,47.80M387.49,47.80L391.31,45.60" stroke="#000" stroke-width="1.9" stroke-linecap="round" fill="none"/>
<circle cx="389.40" cy="46.70" r="1.58" fill="#000"/>
<path d="M395.40,44.50L395.40,48.90M393.49,45.60L397.31,47.80M393.49,47.80L397.31,45.60" stroke="#000" stroke-width="1.9" stroke-linecap="round" fill="none"/>
<circle cx="395.40" cy="46.70" r="1.58" fill="#000"/>
<path d="M401.30,44.50L401.30,48.90M399.39,45.60L403.21,47.80M399.39,47.80L403.21,45.60" stroke="#000" stroke-width="1.9" stroke-linecap="round" fill="none"/>
<circle cx="401.30" cy="46.70" r="1.58" fill="#000"/>
<line x1="448.50" y1="52.60" x2="485.80" y2="52.60" stroke="#000" stroke-width="1.7" />
<path d="M460.80,45.50L460.80,49.90M458.89,46.60L462.71,48.80M458.89,48.80L462.71,46.60" stroke="#000" stroke-width="1.9" stroke-linecap="round" fill="none"/>
<circle cx="460.80" cy="47.70" r="1.58" fill="#000"/>
<path d="M467.00,45.50L467.00,49.90M465.09,46.60L468.91,48.80M465.09,48.80L468.91,46.60" stroke="#000" stroke-width="1.9" stroke-linecap="round" fill="none"/>
<circle cx="467.00" cy="47.70" r="1.58" fill="#000"/>
<path d="M473.00,45.50L473.00,49.90M471.09,46.60L474.91,48.80M471.09,48.80L474.91,46.60" stroke="#000" stroke-width="1.9" stroke-linecap="round" fill="none"/>
<circle cx="473.00" cy="47.70" r="1.58" fill="#000"/>
<line x1="375.30" y1="65.40" x2="390.90" y2="65.40" stroke="#000" stroke-width="1.7" />
<line x1="393.20" y1="65.40" x2="414.80" y2="65.40" stroke="#000" stroke-width="1.7" />
<path d="M398.20,58.60L398.20,63.00M396.29,59.70L400.11,61.90M396.29,61.90L400.11,59.70" stroke="#000" stroke-width="1.9" stroke-linecap="round" fill="none"/>
<circle cx="398.20" cy="60.80" r="1.58" fill="#000"/>
<path d="M404.40,58.60L404.40,63.00M402.49,59.70L406.31,61.90M402.49,61.90L406.31,59.70" stroke="#000" stroke-width="1.9" stroke-linecap="round" fill="none"/>
<circle cx="404.40" cy="60.80" r="1.58" fill="#000"/>
<path d="M410.40,58.60L410.40,63.00M408.49,59.70L412.31,61.90M408.49,61.90L412.31,59.70" stroke="#000" stroke-width="1.9" stroke-linecap="round" fill="none"/>
<circle cx="410.40" cy="60.80" r="1.58" fill="#000"/>
<line x1="465.40" y1="105.80" x2="485.80" y2="105.80" stroke="#000" stroke-width="1.7" />
<path d="M472.80,98.80L472.80,103.20M470.89,99.90L474.71,102.10M470.89,102.10L474.71,99.90" stroke="#000" stroke-width="1.9" stroke-linecap="round" fill="none"/>
<circle cx="472.80" cy="101.00" r="1.58" fill="#000"/>
<path d="M478.50,98.80L478.50,103.20M476.59,99.90L480.41,102.10M476.59,102.10L480.41,99.90" stroke="#000" stroke-width="1.9" stroke-linecap="round" fill="none"/>
<circle cx="478.50" cy="101.00" r="1.58" fill="#000"/>
<text stroke="#000" stroke-width="0.42" stroke-linejoin="round" x="370.70" y="62.30" font-size="6.2" font-weight="bold" font-style="normal" fill="#000" textLength="21.81" lengthAdjust="spacingAndGlyphs">p=0.054</text>
<circle cx="375.40" cy="84.70" r="2.00" fill="#000" />
<circle cx="372.40" cy="100.10" r="2.00" fill="#000" />
<circle cx="381.00" cy="103.50" r="2.00" fill="#000" />
<circle cx="378.30" cy="108.20" r="2.00" fill="#000" />
<circle cx="372.40" cy="111.30" r="2.00" fill="#000" />
<circle cx="371.60" cy="113.00" r="2.00" fill="#000" />
<circle cx="379.20" cy="112.90" r="2.00" fill="#000" />
<circle cx="375.40" cy="118.30" r="2.00" fill="#000" />
<circle cx="371.60" cy="129.30" r="2.00" fill="#000" />
<circle cx="379.10" cy="130.50" r="2.00" fill="#000" />
<circle cx="375.40" cy="132.50" r="2.00" fill="#000" />
<circle cx="391.00" cy="72.20" r="2.00" fill="#000" />
<circle cx="394.60" cy="73.80" r="2.00" fill="#000" />
<circle cx="398.60" cy="72.20" r="2.00" fill="#000" />
<circle cx="391.90" cy="87.10" r="2.00" fill="#000" />
<circle cx="397.70" cy="90.80" r="2.00" fill="#000" />
<circle cx="390.90" cy="95.60" r="2.00" fill="#000" />
<circle cx="394.90" cy="97.80" r="2.00" fill="#000" />
<circle cx="398.90" cy="95.60" r="2.00" fill="#000" />
<circle cx="391.90" cy="103.30" r="2.00" fill="#000" />
<circle cx="397.70" cy="103.90" r="2.00" fill="#000" />
<circle cx="394.90" cy="120.10" r="2.00" fill="#000" />
<circle cx="411.40" cy="159.20" r="2.00" fill="#000" />
<circle cx="410.10" cy="163.60" r="2.00" fill="#000" />
<circle cx="417.00" cy="161.80" r="2.00" fill="#000" />
<circle cx="416.70" cy="164.10" r="2.00" fill="#000" />
<circle cx="413.80" cy="167.30" r="2.00" fill="#000" />
<circle cx="411.50" cy="166.20" r="2.00" fill="#000" />
<circle cx="414.50" cy="168.60" r="2.00" fill="#000" />
<circle cx="416.50" cy="168.20" r="2.00" fill="#000" />
<circle cx="412.00" cy="168.80" r="2.00" fill="#000" />
<circle cx="446.60" cy="49.80" r="2.00" fill="#000" />
<circle cx="446.60" cy="63.20" r="2.00" fill="#000" />
<circle cx="450.40" cy="66.90" r="2.00" fill="#000" />
<circle cx="442.80" cy="68.10" r="2.00" fill="#000" />
<circle cx="446.60" cy="69.70" r="2.00" fill="#000" />
<circle cx="449.50" cy="72.10" r="2.00" fill="#000" />
<circle cx="443.90" cy="76.90" r="2.00" fill="#000" />
<circle cx="443.10" cy="87.70" r="2.00" fill="#000" />
<circle cx="450.40" cy="86.10" r="2.00" fill="#000" />
<circle cx="446.60" cy="90.10" r="2.00" fill="#000" />
<circle cx="446.80" cy="97.30" r="2.00" fill="#000" />
<circle cx="466.20" cy="113.00" r="2.00" fill="#000" />
<circle cx="462.30" cy="119.70" r="2.00" fill="#000" />
<circle cx="469.70" cy="118.00" r="2.00" fill="#000" />
<circle cx="466.20" cy="122.30" r="2.00" fill="#000" />
<circle cx="462.30" cy="136.20" r="2.00" fill="#000" />
<circle cx="466.20" cy="139.70" r="2.00" fill="#000" />
<circle cx="462.00" cy="142.30" r="2.00" fill="#000" />
<circle cx="469.70" cy="140.30" r="2.00" fill="#000" />
<circle cx="466.20" cy="146.20" r="2.00" fill="#000" />
<circle cx="466.20" cy="162.80" r="2.00" fill="#000" />
<circle cx="485.70" cy="153.40" r="2.00" fill="#000" />
<circle cx="482.50" cy="156.10" r="2.00" fill="#000" />
<circle cx="488.70" cy="156.10" r="2.00" fill="#000" />
<circle cx="483.30" cy="159.00" r="2.00" fill="#000" />
<circle cx="488.20" cy="158.80" r="2.00" fill="#000" />
<circle cx="486.50" cy="160.90" r="2.00" fill="#000" />
<circle cx="482.20" cy="165.20" r="2.00" fill="#000" />
<circle cx="487.60" cy="164.70" r="2.00" fill="#000" />
<circle cx="484.40" cy="166.60" r="2.00" fill="#000" />
<circle cx="486.00" cy="163.00" r="2.00" fill="#000" />
<line x1="369.20" y1="112.90" x2="381.60" y2="112.90" stroke="#000" stroke-width="1.6" />
<line x1="388.50" y1="96.40" x2="401.00" y2="96.40" stroke="#000" stroke-width="1.6" />
<line x1="408.00" y1="166.40" x2="420.50" y2="166.40" stroke="#000" stroke-width="1.6" />
<line x1="440.00" y1="71.70" x2="453.70" y2="71.70" stroke="#000" stroke-width="1.6" />
<line x1="460.00" y1="140.30" x2="472.00" y2="140.30" stroke="#000" stroke-width="1.6" />
<line x1="479.30" y1="160.10" x2="491.90" y2="160.10" stroke="#000" stroke-width="1.6" />
<text stroke="#000" stroke-width="0.35" stroke-linejoin="round" x="-0.50" y="227.30" font-size="15.8" font-weight="bold" font-style="normal" fill="#000" textLength="10.73" lengthAdjust="spacingAndGlyphs">C</text>
<text stroke="#000" stroke-width="0.34" stroke-linejoin="round" x="0.20" y="249.60" font-size="12" font-weight="bold" font-style="italic" fill="#000" textLength="33.48" lengthAdjust="spacingAndGlyphs">BMPC</text>
<rect x="50.00" y="230.00" width="66.70" height="32.20" stroke="#000" stroke-width="1.6" fill="none"/>
<rect x="121.40" y="230.00" width="67.00" height="32.20" stroke="#000" stroke-width="1.6" fill="none"/>
<rect x="216.20" y="230.20" width="66.20" height="31.70" stroke="#000" stroke-width="1.6" fill="none"/>
<rect x="286.90" y="229.80" width="67.10" height="32.30" stroke="#000" stroke-width="1.6" fill="none"/>
<rect x="8.80" y="285.40" width="37.00" height="36.10" stroke="#000" stroke-width="1.6" fill="none"/>
<rect x="8.80" y="346.80" width="37.00" height="37.00" stroke="#000" stroke-width="1.6" fill="none"/>
<text stroke="#000" stroke-width="0.3" stroke-linejoin="round" x="68.30" y="244.00" font-size="14" font-weight="bold" font-style="normal" fill="#000" textLength="30.69" lengthAdjust="spacingAndGlyphs">Total</text>
<text stroke="#000" stroke-width="0.3" stroke-linejoin="round" x="63.00" y="260.00" font-size="14" font-weight="bold" font-style="normal" fill="#000" textLength="41.01" lengthAdjust="spacingAndGlyphs">CD19+</text>
<text stroke="#000" stroke-width="0.3" stroke-linejoin="round" x="138.50" y="244.00" font-size="14" font-weight="bold" font-style="normal" fill="#000" textLength="30.69" lengthAdjust="spacingAndGlyphs">Total</text>
<text stroke="#000" stroke-width="0.3" stroke-linejoin="round" x="136.00" y="260.00" font-size="14" font-weight="bold" font-style="normal" fill="#000" textLength="39.40" lengthAdjust="spacingAndGlyphs">CD19-</text>
<text stroke="#000" stroke-width="0.3" stroke-linejoin="round" x="235.60" y="244.00" font-size="14" font-weight="bold" font-style="normal" fill="#000" textLength="28.31" lengthAdjust="spacingAndGlyphs">IgG+</text>
<text stroke="#000" stroke-width="0.3" stroke-linejoin="round" x="231.50" y="260.40" font-size="14" font-weight="bold" font-style="normal" fill="#000" textLength="36.40" lengthAdjust="spacingAndGlyphs">CD19-</text>
<text stroke="#000" stroke-width="0.3" stroke-linejoin="round" x="306.80" y="243.60" font-size="14" font-weight="bold" font-style="normal" fill="#000" textLength="27.21" lengthAdjust="spacingAndGlyphs">IgG+</text>
<text stroke="#000" stroke-width="0.3" stroke-linejoin="round" x="300.80" y="260.70" font-size="14" font-weight="bold" font-style="normal" fill="#000" textLength="38.91" lengthAdjust="spacingAndGlyphs">CD19+</text>
<text stroke="#000" stroke-width="0.34" stroke-linejoin="round" x="101.00" y="276.80" font-size="9.3" font-weight="bold" font-style="normal" fill="#000" textLength="39.79" lengthAdjust="spacingAndGlyphs">p=0.3448</text>
<text stroke="#000" stroke-width="0.34" stroke-linejoin="round" x="266.00" y="276.80" font-size="9.3" font-weight="bold" font-style="normal" fill="#000" textLength="39.79" lengthAdjust="spacingAndGlyphs">p=0.4495</text>
<text stroke="#000" stroke-width="0.34" stroke-linejoin="round" x="101.00" y="342.90" font-size="9.3" font-weight="bold" font-style="normal" fill="#000" textLength="39.79" lengthAdjust="spacingAndGlyphs">p=0.5336</text>
<text stroke="#000" stroke-width="0.34" stroke-linejoin="round" x="266.00" y="342.30" font-size="9.3" font-weight="bold" font-style="normal" fill="#000" textLength="39.79" lengthAdjust="spacingAndGlyphs">p=0.4377</text>
<text stroke="#000" stroke-width="0.7" stroke-linejoin="round" x="20.00" y="310.00" font-size="13.4" font-weight="normal" font-style="normal" fill="#000" textLength="7.72" lengthAdjust="spacingAndGlyphs">V</text>
<text stroke="#000" stroke-width="0.55" stroke-linejoin="round" x="28.50" y="313.60" font-size="8.8" font-weight="normal" font-style="normal" fill="#000" textLength="5.32" lengthAdjust="spacingAndGlyphs">H</text>
<text stroke="#000" stroke-width="0.7" stroke-linejoin="round" x="21.80" y="371.40" font-size="13.8" font-weight="normal" font-style="normal" fill="#000" textLength="3.60" lengthAdjust="spacingAndGlyphs">J</text>
<text stroke="#000" stroke-width="0.55" stroke-linejoin="round" x="26.60" y="374.60" font-size="8.8" font-weight="normal" font-style="normal" fill="#000" textLength="5.62" lengthAdjust="spacingAndGlyphs">H</text>
<path d="M85.40,303.30 L85.40,281.10 A22.2,22.2 0 0 1 101.10,287.60 Z" fill="#4a7ebb" stroke="#4a7ebb" stroke-width="0.4"/>
<path d="M85.40,303.30 L101.10,287.60 A22.2,22.2 0 0 1 106.51,296.44 Z" fill="#be4b48" stroke="#be4b48" stroke-width="0.4"/>
<path d="M85.40,303.30 L106.51,296.44 A22.2,22.2 0 1 1 63.86,297.93 Z" fill="#98b954" stroke="#98b954" stroke-width="0.4"/>
<path d="M85.40,303.30 L63.86,297.93 A22.2,22.2 0 0 1 81.16,281.51 Z" fill="#7d60a0" stroke="#7d60a0" stroke-width="0.4"/>
<path d="M85.40,303.30 L81.16,281.51 A22.2,22.2 0 0 1 85.01,281.10 Z" fill="#46aac5" stroke="#46aac5" stroke-width="0.4"/>
<path d="M85.40,303.30 L85.01,281.10 A22.2,22.2 0 0 1 85.40,281.10 Z" fill="#f79646" stroke="#f79646" stroke-width="0.4"/>
<path d="M155.50,303.40 L155.50,281.20 A22.2,22.2 0 0 1 174.12,291.31 Z" fill="#4a7ebb" stroke="#4a7ebb" stroke-width="0.4"/>
<path d="M155.50,303.40 L174.12,291.31 A22.2,22.2 0 0 1 175.94,294.73 Z" fill="#be4b48" stroke="#be4b48" stroke-width="0.4"/>
<path d="M155.50,303.40 L175.94,294.73 A22.2,22.2 0 1 1 138.49,289.13 Z" fill="#98b954" stroke="#98b954" stroke-width="0.4"/>
<path d="M155.50,303.40 L138.49,289.13 A22.2,22.2 0 0 1 149.75,281.96 Z" fill="#7d60a0" stroke="#7d60a0" stroke-width="0.4"/>
<path d="M155.50,303.40 L149.75,281.96 A22.2,22.2 0 0 1 154.34,281.23 Z" fill="#46aac5" stroke="#46aac5" stroke-width="0.4"/>
<path d="M155.50,303.40 L154.34,281.23 A22.2,22.2 0 0 1 155.50,281.20 Z" fill="#f79646" stroke="#f79646" stroke-width="0.4"/>
<path d="M250.70,303.40 L250.70,281.20 A22.2,22.2 0 0 1 272.14,297.65 Z" fill="#4a7ebb" stroke="#4a7ebb" stroke-width="0.4"/>
<path d="M250.70,303.40 L272.14,297.65 A22.2,22.2 0 0 1 272.78,301.08 Z" fill="#be4b48" stroke="#be4b48" stroke-width="0.4"/>
<path d="M250.70,303.40 L272.78,301.08 A22.2,22.2 0 1 1 229.84,295.81 Z" fill="#98b954" stroke="#98b954" stroke-width="0.4"/>
<path d="M250.70,303.40 L229.84,295.81 A22.2,22.2 0 0 1 242.03,282.96 Z" fill="#7d60a0" stroke="#7d60a0" stroke-width="0.4"/>
<path d="M250.70,303.40 L242.03,282.96 A22.2,22.2 0 0 1 247.23,281.47 Z" fill="#46aac5" stroke="#46aac5" stroke-width="0.4"/>
<path d="M250.70,303.40 L247.23,281.47 A22.2,22.2 0 0 1 250.70,281.20 Z" fill="#f79646" stroke="#f79646" stroke-width="0.4"/>
<path d="M321.90,303.40 L321.90,281.20 A22.2,22.2 0 0 1 334.31,285.00 Z" fill="#4a7ebb" stroke="#4a7ebb" stroke-width="0.4"/>
<path d="M321.90,303.40 L334.31,285.00 A22.2,22.2 0 0 1 342.48,295.08 Z" fill="#be4b48" stroke="#be4b48" stroke-width="0.4"/>
<path d="M321.90,303.40 L342.48,295.08 A22.2,22.2 0 1 1 300.23,298.60 Z" fill="#98b954" stroke="#98b954" stroke-width="0.4"/>
<path d="M321.90,303.40 L300.23,298.60 A22.2,22.2 0 0 1 318.81,281.42 Z" fill="#7d60a0" stroke="#7d60a0" stroke-width="0.4"/>
<path d="M321.90,303.40 L318.81,281.42 A22.2,22.2 0 0 1 321.90,281.20 Z" fill="#46aac5" stroke="#46aac5" stroke-width="0.4"/>
<path d="M85.00,365.50 L85.00,343.30 A22.2,22.2 0 0 1 89.99,343.87 Z" fill="#4a7ebb" stroke="#4a7ebb" stroke-width="0.4"/>
<path d="M85.00,365.50 L89.99,343.87 A22.2,22.2 0 0 1 92.96,344.77 Z" fill="#be4b48" stroke="#be4b48" stroke-width="0.4"/>
<path d="M85.00,365.50 L92.96,344.77 A22.2,22.2 0 0 1 105.28,356.47 Z" fill="#98b954" stroke="#98b954" stroke-width="0.4"/>
<path d="M85.00,365.50 L105.28,356.47 A22.2,22.2 0 1 1 64.14,373.09 Z" fill="#7d60a0" stroke="#7d60a0" stroke-width="0.4"/>
<path d="M85.00,365.50 L64.14,373.09 A22.2,22.2 0 0 1 66.07,353.90 Z" fill="#46aac5" stroke="#46aac5" stroke-width="0.4"/>
<path d="M85.00,365.50 L66.07,353.90 A22.2,22.2 0 0 1 84.61,343.30 Z" fill="#f79646" stroke="#f79646" stroke-width="0.4"/>
<path d="M85.00,365.50 L84.61,343.30 A22.2,22.2 0 0 1 85.00,343.30 Z" fill="#4a7ebb" stroke="#4a7ebb" stroke-width="0.4"/>
<path d="M155.90,365.50 L155.90,343.30 A22.2,22.2 0 0 1 158.84,343.50 Z" fill="#4a7ebb" stroke="#4a7ebb" stroke-width="0.4"/>
<path d="M155.90,365.50 L158.84,343.50 A22.2,22.2 0 0 1 159.18,343.54 Z" fill="#be4b48" stroke="#be4b48" stroke-width="0.4"/>
<path d="M155.90,365.50 L159.18,343.54 A22.2,22.2 0 0 1 177.41,360.02 Z" fill="#98b954" stroke="#98b954" stroke-width="0.4"/>
<path d="M155.90,365.50 L177.41,360.02 A22.2,22.2 0 1 1 133.74,364.11 Z" fill="#7d60a0" stroke="#7d60a0" stroke-width="0.4"/>
<path d="M155.90,365.50 L133.74,364.11 A22.2,22.2 0 0 1 138.41,351.83 Z" fill="#46aac5" stroke="#46aac5" stroke-width="0.4"/>
<path d="M155.90,365.50 L138.41,351.83 A22.2,22.2 0 0 1 155.32,343.31 Z" fill="#f79646" stroke="#f79646" stroke-width="0.4"/>
<path d="M155.90,365.50 L155.32,343.31 A22.2,22.2 0 0 1 155.90,343.30 Z" fill="#4a7ebb" stroke="#4a7ebb" stroke-width="0.4"/>
<path d="M251.00,365.60 L251.00,343.40 A22.2,22.2 0 0 1 252.93,343.48 Z" fill="#4a7ebb" stroke="#4a7ebb" stroke-width="0.4"/>
<path d="M251.00,365.60 L252.93,343.48 A22.2,22.2 0 0 1 272.98,362.51 Z" fill="#98b954" stroke="#98b954" stroke-width="0.4"/>
<path d="M251.00,365.60 L272.98,362.51 A22.2,22.2 0 1 1 228.98,368.46 Z" fill="#7d60a0" stroke="#7d60a0" stroke-width="0.4"/>
<path d="M251.00,365.60 L228.98,368.46 A22.2,22.2 0 0 1 232.17,353.84 Z" fill="#46aac5" stroke="#46aac5" stroke-width="0.4"/>
<path d="M251.00,365.60 L232.17,353.84 A22.2,22.2 0 0 1 250.07,343.42 Z" fill="#f79646" stroke="#f79646" stroke-width="0.4"/>
<path d="M251.00,365.60 L250.07,343.42 A22.2,22.2 0 0 1 251.00,343.40 Z" fill="#4a7ebb" stroke="#4a7ebb" stroke-width="0.4"/>
<path d="M322.00,365.60 L322.00,343.40 A22.2,22.2 0 0 1 329.81,344.82 Z" fill="#4a7ebb" stroke="#4a7ebb" stroke-width="0.4"/>
<path d="M322.00,365.60 L329.81,344.82 A22.2,22.2 0 0 1 340.51,353.35 Z" fill="#98b954" stroke="#98b954" stroke-width="0.4"/>
<path d="M322.00,365.60 L340.51,353.35 A22.2,22.2 0 1 1 299.80,365.83 Z" fill="#7d60a0" stroke="#7d60a0" stroke-width="0.4"/>
<path d="M322.00,365.60 L299.80,365.83 A22.2,22.2 0 0 1 312.97,345.32 Z" fill="#46aac5" stroke="#46aac5" stroke-width="0.4"/>
<path d="M322.00,365.60 L312.97,345.32 A22.2,22.2 0 0 1 322.00,343.40 Z" fill="#f79646" stroke="#f79646" stroke-width="0.4"/>
<rect x="375" y="271.10" width="6" height="6" fill="#4a7ebb"/>
<text stroke="#222" stroke-width="0.1" stroke-linejoin="round" x="384.00" y="277.70" font-size="10" font-weight="normal" font-style="normal" fill="#222" textLength="28.92" lengthAdjust="spacingAndGlyphs">VH1 %</text>
<rect x="436.8" y="272.00" width="6.4" height="6.4" fill="#4a7ebb" stroke="#5a5a6a" stroke-width="0.7" stroke-opacity="0.6"/>
<text stroke="#222" stroke-width="0.1" stroke-linejoin="round" x="446.00" y="278.70" font-size="10" font-weight="normal" font-style="normal" fill="#222" textLength="26.30" lengthAdjust="spacingAndGlyphs">JH1 %</text>
<rect x="375" y="292.20" width="6" height="6" fill="#be4b48"/>
<text stroke="#222" stroke-width="0.1" stroke-linejoin="round" x="384.00" y="298.80" font-size="10" font-weight="normal" font-style="normal" fill="#222" textLength="28.92" lengthAdjust="spacingAndGlyphs">VH2 %</text>
<rect x="436.8" y="293.40" width="6.4" height="6.4" fill="#be4b48" stroke="#5a5a6a" stroke-width="0.7" stroke-opacity="0.6"/>
<text stroke="#222" stroke-width="0.1" stroke-linejoin="round" x="446.00" y="300.10" font-size="10" font-weight="normal" font-style="normal" fill="#222" textLength="26.30" lengthAdjust="spacingAndGlyphs">JH2 %</text>
<rect x="375" y="313.30" width="6" height="6" fill="#98b954"/>
<text stroke="#222" stroke-width="0.1" stroke-linejoin="round" x="384.00" y="319.90" font-size="10" font-weight="normal" font-style="normal" fill="#222" textLength="28.92" lengthAdjust="spacingAndGlyphs">VH3 %</text>
<rect x="436.8" y="314.60" width="6.4" height="6.4" fill="#98b954" stroke="#5a5a6a" stroke-width="0.7" stroke-opacity="0.6"/>
<text stroke="#222" stroke-width="0.1" stroke-linejoin="round" x="446.00" y="321.30" font-size="10" font-weight="normal" font-style="normal" fill="#222" textLength="26.30" lengthAdjust="spacingAndGlyphs">JH3 %</text>
<rect x="375" y="334.20" width="6" height="6" fill="#7d60a0"/>
<text stroke="#222" stroke-width="0.1" stroke-linejoin="round" x="384.00" y="340.80" font-size="10" font-weight="normal" font-style="normal" fill="#222" textLength="28.92" lengthAdjust="spacingAndGlyphs">VH4 %</text>
<rect x="436.8" y="336.10" width="6.4" height="6.4" fill="#7d60a0" stroke="#5a5a6a" stroke-width="0.7" stroke-opacity="0.6"/>
<text stroke="#222" stroke-width="0.1" stroke-linejoin="round" x="446.00" y="342.80" font-size="10" font-weight="normal" font-style="normal" fill="#222" textLength="26.30" lengthAdjust="spacingAndGlyphs">JH4 %</text>
<rect x="375" y="355.70" width="6" height="6" fill="#46aac5"/>
<text stroke="#222" stroke-width="0.1" stroke-linejoin="round" x="384.00" y="362.30" font-size="10" font-weight="normal" font-style="normal" fill="#222" textLength="28.92" lengthAdjust="spacingAndGlyphs">VH5 %</text>
<rect x="436.8" y="357.30" width="6.4" height="6.4" fill="#46aac5" stroke="#5a5a6a" stroke-width="0.7" stroke-opacity="0.6"/>
<text stroke="#222" stroke-width="0.1" stroke-linejoin="round" x="446.00" y="364.00" font-size="10" font-weight="normal" font-style="normal" fill="#222" textLength="26.30" lengthAdjust="spacingAndGlyphs">JH5 %</text>
<rect x="375" y="376.50" width="6" height="6" fill="#f79646"/>
<text stroke="#222" stroke-width="0.1" stroke-linejoin="round" x="384.00" y="383.10" font-size="10" font-weight="normal" font-style="normal" fill="#222" textLength="28.92" lengthAdjust="spacingAndGlyphs">VH6 %</text>
<rect x="436.8" y="379.00" width="6.4" height="6.4" fill="#f79646" stroke="#5a5a6a" stroke-width="0.7" stroke-opacity="0.6"/>
<text stroke="#222" stroke-width="0.1" stroke-linejoin="round" x="446.00" y="385.70" font-size="10" font-weight="normal" font-style="normal" fill="#222" textLength="26.30" lengthAdjust="spacingAndGlyphs">JH6 %</text>
<text stroke="#000" stroke-width="0.35" stroke-linejoin="round" x="-1.00" y="417.50" font-size="15.8" font-weight="bold" font-style="normal" fill="#000" textLength="11.03" lengthAdjust="spacingAndGlyphs">D</text>
<line x1="45.50" y1="425.40" x2="45.50" y2="515.00" stroke="#000" stroke-width="1.3" />
<line x1="44.90" y1="514.40" x2="165.50" y2="514.40" stroke="#000" stroke-width="1.3" />
<line x1="42.60" y1="514.40" x2="45.50" y2="514.40" stroke="#000" stroke-width="1.1" />
<text stroke="#000" stroke-width="0.42" stroke-linejoin="round" x="39.00" y="517.10" font-size="7.6" font-weight="bold" font-style="normal" fill="#000" textLength="3.71" lengthAdjust="spacingAndGlyphs">0</text>
<line x1="42.60" y1="484.73" x2="45.50" y2="484.73" stroke="#000" stroke-width="1.1" />
<text stroke="#000" stroke-width="0.42" stroke-linejoin="round" x="34.90" y="487.43" font-size="7.6" font-weight="bold" font-style="normal" fill="#000" textLength="7.82" lengthAdjust="spacingAndGlyphs">20</text>
<line x1="42.60" y1="455.07" x2="45.50" y2="455.07" stroke="#000" stroke-width="1.1" />
<text stroke="#000" stroke-width="0.42" stroke-linejoin="round" x="34.90" y="457.77" font-size="7.6" font-weight="bold" font-style="normal" fill="#000" textLength="7.82" lengthAdjust="spacingAndGlyphs">40</text>
<line x1="42.60" y1="425.40" x2="45.50" y2="425.40" stroke="#000" stroke-width="1.1" />
<text stroke="#000" stroke-width="0.42" stroke-linejoin="round" x="34.90" y="428.10" font-size="7.6" font-weight="bold" font-style="normal" fill="#000" textLength="7.82" lengthAdjust="spacingAndGlyphs">60</text>
<circle cx="52.44" cy="479.49" r="1.00" fill="#969696" />
<circle cx="52.72" cy="487.69" r="1.00" fill="#969696" />
<circle cx="52.25" cy="461.21" r="1.00" fill="#969696" />
<circle cx="55.27" cy="488.39" r="1.00" fill="#969696" />
<circle cx="52.59" cy="493.67" r="1.00" fill="#969696" />
<circle cx="52.38" cy="466.78" r="1.00" fill="#969696" />
<circle cx="52.59" cy="470.88" r="1.00" fill="#969696" />
<circle cx="50.03" cy="487.72" r="1.00" fill="#969696" />
<circle cx="50.11" cy="479.99" r="1.00" fill="#969696" />
<circle cx="54.87" cy="463.14" r="1.00" fill="#969696" />
<circle cx="52.26" cy="499.24" r="1.00" fill="#969696" />
<circle cx="57.76" cy="487.65" r="1.00" fill="#969696" />
<circle cx="50.12" cy="471.77" r="1.00" fill="#969696" />
<circle cx="55.07" cy="467.24" r="1.00" fill="#969696" />
<circle cx="55.23" cy="478.82" r="1.00" fill="#969696" />
<circle cx="52.69" cy="476.31" r="1.00" fill="#969696" />
<circle cx="52.67" cy="484.87" r="1.00" fill="#969696" />
<circle cx="55.24" cy="475.01" r="1.00" fill="#969696" />
<circle cx="50.01" cy="484.92" r="1.00" fill="#969696" />
<circle cx="47.42" cy="480.50" r="1.00" fill="#969696" />
<circle cx="52.28" cy="496.39" r="1.00" fill="#969696" />
<circle cx="52.26" cy="473.49" r="1.00" fill="#969696" />
<circle cx="55.11" cy="469.60" r="1.00" fill="#969696" />
<circle cx="49.93" cy="468.59" r="1.00" fill="#969696" />
<circle cx="55.13" cy="472.76" r="1.00" fill="#969696" />
<circle cx="57.52" cy="471.75" r="1.00" fill="#969696" />
<circle cx="54.91" cy="482.98" r="1.00" fill="#969696" />
<circle cx="52.40" cy="491.29" r="1.00" fill="#969696" />
<circle cx="49.86" cy="474.17" r="1.00" fill="#969696" />
<circle cx="50.05" cy="495.30" r="1.00" fill="#969696" />
<circle cx="52.58" cy="504.08" r="1.00" fill="#969696" />
<circle cx="57.53" cy="481.69" r="1.00" fill="#969696" />
<circle cx="52.33" cy="458.57" r="1.00" fill="#969696" />
<circle cx="47.17" cy="482.92" r="1.00" fill="#969696" />
<circle cx="50.04" cy="490.58" r="1.00" fill="#969696" />
<circle cx="47.49" cy="488.59" r="1.00" fill="#969696" />
<circle cx="53.28" cy="489.19" r="1.00" fill="#969696" />
<circle cx="55.34" cy="459.33" r="1.00" fill="#969696" />
<circle cx="55.21" cy="496.42" r="1.00" fill="#969696" />
<circle cx="57.67" cy="485.12" r="1.00" fill="#969696" />
<circle cx="54.98" cy="491.72" r="1.00" fill="#969696" />
<circle cx="47.15" cy="491.90" r="1.00" fill="#969696" />
<circle cx="55.19" cy="485.99" r="1.00" fill="#969696" />
<circle cx="47.06" cy="485.94" r="1.00" fill="#969696" />
<circle cx="53.60" cy="489.48" r="1.00" fill="#969696" />
<circle cx="53.97" cy="484.57" r="1.00" fill="#969696" />
<circle cx="55.28" cy="494.14" r="1.00" fill="#969696" />
<circle cx="49.74" cy="500.04" r="1.00" fill="#969696" />
<circle cx="57.81" cy="494.60" r="1.00" fill="#969696" />
<circle cx="56.89" cy="485.24" r="1.00" fill="#969696" />
<circle cx="57.85" cy="474.04" r="1.00" fill="#969696" />
<circle cx="55.67" cy="480.35" r="1.00" fill="#969696" />
<circle cx="50.31" cy="479.85" r="1.00" fill="#969696" />
<circle cx="47.04" cy="484.65" r="1.00" fill="#969696" />
<circle cx="47.23" cy="476.05" r="1.00" fill="#969696" />
<circle cx="47.35" cy="488.96" r="1.00" fill="#969696" />
<circle cx="49.65" cy="481.53" r="1.00" fill="#969696" />
<circle cx="50.13" cy="504.39" r="1.00" fill="#969696" />
<circle cx="55.94" cy="485.07" r="1.00" fill="#969696" />
<circle cx="54.57" cy="488.44" r="1.00" fill="#969696" />
<circle cx="50.15" cy="480.80" r="1.00" fill="#969696" />
<circle cx="51.50" cy="480.15" r="1.00" fill="#969696" />
<circle cx="58.24" cy="483.77" r="1.00" fill="#969696" />
<circle cx="49.24" cy="482.96" r="1.00" fill="#969696" />
<circle cx="56.80" cy="480.36" r="1.00" fill="#969696" />
<circle cx="46.58" cy="488.20" r="1.00" fill="#969696" />
<circle cx="49.79" cy="477.41" r="1.00" fill="#969696" />
<circle cx="47.22" cy="473.06" r="1.00" fill="#969696" />
<circle cx="51.20" cy="471.91" r="1.00" fill="#969696" />
<circle cx="53.28" cy="487.72" r="1.00" fill="#969696" />
<circle cx="49.69" cy="492.85" r="1.00" fill="#969696" />
<circle cx="52.49" cy="435.78" r="1.00" fill="#969696" />
<circle cx="48.45" cy="474.54" r="1.00" fill="#969696" />
<circle cx="52.66" cy="449.01" r="1.00" fill="#969696" />
<circle cx="57.36" cy="473.07" r="1.00" fill="#969696" />
<circle cx="47.53" cy="470.00" r="1.00" fill="#969696" />
<circle cx="57.79" cy="490.55" r="1.00" fill="#969696" />
<circle cx="52.39" cy="463.66" r="1.00" fill="#969696" />
<circle cx="48.93" cy="482.79" r="1.00" fill="#969696" />
<circle cx="46.72" cy="482.74" r="1.00" fill="#969696" />
<circle cx="57.87" cy="490.06" r="1.00" fill="#969696" />
<circle cx="52.29" cy="453.29" r="1.00" fill="#969696" />
<circle cx="57.64" cy="497.33" r="1.00" fill="#969696" />
<circle cx="56.33" cy="474.82" r="1.00" fill="#969696" />
<circle cx="49.85" cy="466.17" r="1.00" fill="#969696" />
<circle cx="54.70" cy="483.25" r="1.00" fill="#969696" />
<circle cx="53.25" cy="480.30" r="1.00" fill="#969696" />
<circle cx="52.13" cy="473.94" r="1.00" fill="#969696" />
<circle cx="57.61" cy="489.81" r="1.00" fill="#969696" />
<circle cx="50.14" cy="470.98" r="1.00" fill="#969696" />
<circle cx="54.11" cy="484.75" r="1.00" fill="#969696" />
<circle cx="53.00" cy="483.25" r="1.00" fill="#969696" />
<circle cx="55.28" cy="502.06" r="1.00" fill="#969696" />
<line x1="47.70" y1="482.21" x2="57.30" y2="482.21" stroke="#000" stroke-width="2.1" />
<line x1="52.50" y1="514.40" x2="52.50" y2="517.20" stroke="#000" stroke-width="1.1" />
<text stroke="#000" stroke-width="0.42" stroke-linejoin="round" transform="translate(53.80,522.90) rotate(-45)" x="-28.76" y="0" font-size="7.2" font-weight="bold" fill="#000" textLength="28.76" lengthAdjust="spacingAndGlyphs">all CD19+</text>
<circle cx="65.63" cy="471.80" r="1.00" fill="#969696" />
<circle cx="65.62" cy="505.03" r="1.00" fill="#969696" />
<circle cx="65.46" cy="491.50" r="1.00" fill="#969696" />
<circle cx="65.62" cy="480.86" r="1.00" fill="#969696" />
<circle cx="65.90" cy="476.67" r="1.00" fill="#969696" />
<circle cx="68.34" cy="477.18" r="1.00" fill="#969696" />
<circle cx="65.85" cy="495.41" r="1.00" fill="#969696" />
<circle cx="63.09" cy="472.31" r="1.00" fill="#969696" />
<circle cx="65.78" cy="469.18" r="1.00" fill="#969696" />
<circle cx="68.23" cy="489.59" r="1.00" fill="#969696" />
<circle cx="65.63" cy="507.33" r="1.00" fill="#969696" />
<circle cx="68.37" cy="496.03" r="1.00" fill="#969696" />
<circle cx="63.21" cy="479.22" r="1.00" fill="#969696" />
<circle cx="68.52" cy="482.96" r="1.00" fill="#969696" />
<circle cx="68.06" cy="492.78" r="1.00" fill="#969696" />
<circle cx="63.04" cy="492.36" r="1.00" fill="#969696" />
<circle cx="65.76" cy="483.12" r="1.00" fill="#969696" />
<circle cx="65.68" cy="440.23" r="1.00" fill="#969696" />
<circle cx="63.22" cy="496.64" r="1.00" fill="#969696" />
<circle cx="65.80" cy="499.70" r="1.00" fill="#969696" />
<circle cx="65.47" cy="488.21" r="1.00" fill="#969696" />
<circle cx="68.24" cy="480.68" r="1.00" fill="#969696" />
<circle cx="63.26" cy="488.74" r="1.00" fill="#969696" />
<circle cx="60.27" cy="494.21" r="1.00" fill="#969696" />
<circle cx="60.64" cy="488.86" r="1.00" fill="#969696" />
<circle cx="71.03" cy="492.53" r="1.00" fill="#969696" />
<circle cx="62.89" cy="469.73" r="1.00" fill="#969696" />
<circle cx="71.05" cy="497.06" r="1.00" fill="#969696" />
<circle cx="60.99" cy="492.52" r="1.00" fill="#969696" />
<circle cx="61.74" cy="491.38" r="1.00" fill="#969696" />
<circle cx="68.30" cy="471.46" r="1.00" fill="#969696" />
<circle cx="71.03" cy="487.92" r="1.00" fill="#969696" />
<circle cx="63.17" cy="500.88" r="1.00" fill="#969696" />
<circle cx="62.99" cy="481.82" r="1.00" fill="#969696" />
<circle cx="68.10" cy="502.87" r="1.00" fill="#969696" />
<circle cx="60.56" cy="497.28" r="1.00" fill="#969696" />
<circle cx="70.58" cy="494.57" r="1.00" fill="#969696" />
<circle cx="59.82" cy="493.54" r="1.00" fill="#969696" />
<circle cx="60.38" cy="479.20" r="1.00" fill="#969696" />
<circle cx="60.66" cy="472.87" r="1.00" fill="#969696" />
<circle cx="70.88" cy="480.21" r="1.00" fill="#969696" />
<circle cx="68.33" cy="487.78" r="1.00" fill="#969696" />
<circle cx="60.28" cy="481.60" r="1.00" fill="#969696" />
<circle cx="69.00" cy="491.04" r="1.00" fill="#969696" />
<circle cx="62.91" cy="487.09" r="1.00" fill="#969696" />
<circle cx="63.04" cy="484.19" r="1.00" fill="#969696" />
<circle cx="70.92" cy="484.79" r="1.00" fill="#969696" />
<circle cx="69.20" cy="493.53" r="1.00" fill="#969696" />
<circle cx="70.76" cy="472.48" r="1.00" fill="#969696" />
<circle cx="60.60" cy="486.34" r="1.00" fill="#969696" />
<circle cx="68.52" cy="508.27" r="1.00" fill="#969696" />
<circle cx="64.34" cy="492.59" r="1.00" fill="#969696" />
<circle cx="65.46" cy="494.94" r="1.00" fill="#969696" />
<circle cx="65.82" cy="493.77" r="1.00" fill="#969696" />
<circle cx="68.79" cy="492.76" r="1.00" fill="#969696" />
<circle cx="67.75" cy="497.97" r="1.00" fill="#969696" />
<circle cx="69.01" cy="496.09" r="1.00" fill="#969696" />
<circle cx="70.33" cy="479.76" r="1.00" fill="#969696" />
<circle cx="68.45" cy="487.31" r="1.00" fill="#969696" />
<circle cx="60.26" cy="490.47" r="1.00" fill="#969696" />
<circle cx="63.52" cy="483.76" r="1.00" fill="#969696" />
<circle cx="65.66" cy="458.03" r="1.00" fill="#969696" />
<circle cx="66.21" cy="486.77" r="1.00" fill="#969696" />
<circle cx="65.64" cy="491.72" r="1.00" fill="#969696" />
<circle cx="70.65" cy="501.33" r="1.00" fill="#969696" />
<circle cx="69.98" cy="485.02" r="1.00" fill="#969696" />
<circle cx="68.39" cy="486.76" r="1.00" fill="#969696" />
<circle cx="63.07" cy="493.35" r="1.00" fill="#969696" />
<circle cx="67.95" cy="480.99" r="1.00" fill="#969696" />
<circle cx="67.96" cy="479.63" r="1.00" fill="#969696" />
<circle cx="65.89" cy="450.24" r="1.00" fill="#969696" />
<circle cx="62.91" cy="476.29" r="1.00" fill="#969696" />
<circle cx="63.07" cy="503.19" r="1.00" fill="#969696" />
<circle cx="68.20" cy="480.29" r="1.00" fill="#969696" />
<circle cx="68.50" cy="474.93" r="1.00" fill="#969696" />
<circle cx="70.71" cy="476.40" r="1.00" fill="#969696" />
<circle cx="67.41" cy="497.23" r="1.00" fill="#969696" />
<circle cx="60.26" cy="484.97" r="1.00" fill="#969696" />
<circle cx="68.16" cy="494.39" r="1.00" fill="#969696" />
<circle cx="65.65" cy="472.92" r="1.00" fill="#969696" />
<circle cx="68.50" cy="500.30" r="1.00" fill="#969696" />
<circle cx="60.03" cy="478.76" r="1.00" fill="#969696" />
<circle cx="65.75" cy="465.07" r="1.00" fill="#969696" />
<circle cx="71.66" cy="494.54" r="1.00" fill="#969696" />
<circle cx="62.64" cy="493.66" r="1.00" fill="#969696" />
<circle cx="66.09" cy="487.57" r="1.00" fill="#969696" />
<circle cx="63.58" cy="485.13" r="1.00" fill="#969696" />
<circle cx="66.05" cy="472.72" r="1.00" fill="#969696" />
<circle cx="63.72" cy="488.64" r="1.00" fill="#969696" />
<circle cx="68.48" cy="470.81" r="1.00" fill="#969696" />
<line x1="60.90" y1="488.00" x2="70.50" y2="488.00" stroke="#000" stroke-width="2.1" />
<line x1="65.70" y1="514.40" x2="65.70" y2="517.20" stroke="#000" stroke-width="1.1" />
<text stroke="#000" stroke-width="0.42" stroke-linejoin="round" transform="translate(67.00,522.90) rotate(-45)" x="-27.17" y="0" font-size="7.2" font-weight="bold" fill="#000" textLength="27.17" lengthAdjust="spacingAndGlyphs">all CD19-</text>
<circle cx="87.95" cy="468.11" r="1.00" fill="#969696" />
<circle cx="87.87" cy="463.35" r="1.00" fill="#969696" />
<circle cx="87.82" cy="453.77" r="1.00" fill="#969696" />
<circle cx="88.00" cy="472.73" r="1.00" fill="#969696" />
<circle cx="88.02" cy="482.18" r="1.00" fill="#969696" />
<circle cx="90.36" cy="472.36" r="1.00" fill="#969696" />
<circle cx="90.40" cy="483.24" r="1.00" fill="#969696" />
<circle cx="88.04" cy="475.81" r="1.00" fill="#969696" />
<circle cx="87.91" cy="435.78" r="1.00" fill="#969696" />
<circle cx="87.95" cy="479.09" r="1.00" fill="#969696" />
<circle cx="90.67" cy="477.14" r="1.00" fill="#969696" />
<circle cx="88.21" cy="502.53" r="1.00" fill="#969696" />
<circle cx="85.39" cy="479.85" r="1.00" fill="#969696" />
<circle cx="85.27" cy="502.53" r="1.00" fill="#969696" />
<circle cx="90.56" cy="467.68" r="1.00" fill="#969696" />
<circle cx="85.24" cy="470.61" r="1.00" fill="#969696" />
<circle cx="87.92" cy="455.97" r="1.00" fill="#969696" />
<circle cx="85.45" cy="476.64" r="1.00" fill="#969696" />
<circle cx="87.92" cy="498.91" r="1.00" fill="#969696" />
<circle cx="85.48" cy="483.24" r="1.00" fill="#969696" />
<circle cx="88.06" cy="470.33" r="1.00" fill="#969696" />
<circle cx="85.38" cy="496.99" r="1.00" fill="#969696" />
<circle cx="85.51" cy="466.26" r="1.00" fill="#969696" />
<circle cx="87.92" cy="486.20" r="1.00" fill="#969696" />
<circle cx="93.15" cy="472.74" r="1.00" fill="#969696" />
<circle cx="90.40" cy="465.22" r="1.00" fill="#969696" />
<circle cx="85.30" cy="462.43" r="1.00" fill="#969696" />
<circle cx="82.83" cy="478.46" r="1.00" fill="#969696" />
<circle cx="82.81" cy="483.59" r="1.00" fill="#969696" />
<circle cx="93.41" cy="477.37" r="1.00" fill="#969696" />
<circle cx="85.34" cy="487.02" r="1.00" fill="#969696" />
<circle cx="85.34" cy="473.07" r="1.00" fill="#969696" />
<circle cx="93.39" cy="468.76" r="1.00" fill="#969696" />
<circle cx="90.71" cy="485.70" r="1.00" fill="#969696" />
<line x1="83.20" y1="478.80" x2="92.80" y2="478.80" stroke="#000" stroke-width="2.1" />
<line x1="88.00" y1="514.40" x2="88.00" y2="517.20" stroke="#000" stroke-width="1.1" />
<text stroke="#000" stroke-width="0.42" stroke-linejoin="round" transform="translate(89.30,522.90) rotate(-45)" x="-34.22" y="0" font-size="7.2" font-weight="bold" fill="#000" textLength="34.22" lengthAdjust="spacingAndGlyphs">IgG+CD19+</text>
<circle cx="100.67" cy="488.12" r="1.00" fill="#969696" />
<circle cx="100.77" cy="485.36" r="1.00" fill="#969696" />
<circle cx="100.89" cy="493.44" r="1.00" fill="#969696" />
<circle cx="103.51" cy="488.21" r="1.00" fill="#969696" />
<circle cx="98.34" cy="494.33" r="1.00" fill="#969696" />
<circle cx="98.30" cy="486.23" r="1.00" fill="#969696" />
<circle cx="100.66" cy="465.67" r="1.00" fill="#969696" />
<circle cx="103.22" cy="484.73" r="1.00" fill="#969696" />
<circle cx="98.01" cy="489.18" r="1.00" fill="#969696" />
<circle cx="106.03" cy="486.51" r="1.00" fill="#969696" />
<circle cx="103.43" cy="494.13" r="1.00" fill="#969696" />
<circle cx="106.19" cy="489.24" r="1.00" fill="#969696" />
<circle cx="95.83" cy="486.02" r="1.00" fill="#969696" />
<circle cx="99.36" cy="486.90" r="1.00" fill="#969696" />
<circle cx="97.98" cy="483.97" r="1.00" fill="#969696" />
<circle cx="100.68" cy="475.72" r="1.00" fill="#969696" />
<circle cx="95.82" cy="488.69" r="1.00" fill="#969696" />
<circle cx="100.74" cy="501.69" r="1.00" fill="#969696" />
<circle cx="100.98" cy="496.97" r="1.00" fill="#969696" />
<circle cx="106.83" cy="488.62" r="1.00" fill="#969696" />
<circle cx="100.82" cy="482.22" r="1.00" fill="#969696" />
<circle cx="98.38" cy="492.06" r="1.00" fill="#969696" />
<circle cx="106.23" cy="492.88" r="1.00" fill="#969696" />
<circle cx="98.52" cy="488.03" r="1.00" fill="#969696" />
<circle cx="95.71" cy="492.36" r="1.00" fill="#969696" />
<circle cx="96.10" cy="492.97" r="1.00" fill="#969696" />
<circle cx="99.33" cy="492.38" r="1.00" fill="#969696" />
<circle cx="100.72" cy="504.12" r="1.00" fill="#969696" />
<circle cx="98.34" cy="480.73" r="1.00" fill="#969696" />
<circle cx="103.45" cy="490.97" r="1.00" fill="#969696" />
<circle cx="97.70" cy="489.89" r="1.00" fill="#969696" />
<circle cx="106.41" cy="494.26" r="1.00" fill="#969696" />
<circle cx="100.84" cy="479.93" r="1.00" fill="#969696" />
<circle cx="95.54" cy="495.39" r="1.00" fill="#969696" />
<circle cx="97.07" cy="489.46" r="1.00" fill="#969696" />
<circle cx="100.26" cy="496.05" r="1.00" fill="#969696" />
<circle cx="101.52" cy="484.96" r="1.00" fill="#969696" />
<circle cx="106.20" cy="483.89" r="1.00" fill="#969696" />
<circle cx="103.31" cy="497.12" r="1.00" fill="#969696" />
<circle cx="95.36" cy="483.71" r="1.00" fill="#969696" />
<line x1="96.00" y1="488.74" x2="105.60" y2="488.74" stroke="#000" stroke-width="2.1" />
<line x1="100.80" y1="514.40" x2="100.80" y2="517.20" stroke="#000" stroke-width="1.1" />
<text stroke="#000" stroke-width="0.42" stroke-linejoin="round" transform="translate(102.10,522.90) rotate(-45)" x="-32.63" y="0" font-size="7.2" font-weight="bold" fill="#000" textLength="32.63" lengthAdjust="spacingAndGlyphs">IgG+CD19-</text>
<circle cx="123.36" cy="485.22" r="1.00" fill="#969696" />
<circle cx="123.43" cy="469.27" r="1.00" fill="#969696" />
<circle cx="123.54" cy="471.81" r="1.00" fill="#969696" />
<circle cx="123.40" cy="482.14" r="1.00" fill="#969696" />
<circle cx="126.15" cy="467.66" r="1.00" fill="#969696" />
<circle cx="123.47" cy="466.43" r="1.00" fill="#969696" />
<circle cx="123.29" cy="488.33" r="1.00" fill="#969696" />
<circle cx="123.59" cy="474.88" r="1.00" fill="#969696" />
<circle cx="123.68" cy="478.38" r="1.00" fill="#969696" />
<circle cx="126.22" cy="480.46" r="1.00" fill="#969696" />
<circle cx="123.67" cy="500.28" r="1.00" fill="#969696" />
<circle cx="121.00" cy="485.33" r="1.00" fill="#969696" />
<circle cx="120.86" cy="473.55" r="1.00" fill="#969696" />
<circle cx="123.39" cy="495.45" r="1.00" fill="#969696" />
<circle cx="123.66" cy="508.47" r="1.00" fill="#969696" />
<circle cx="120.89" cy="478.30" r="1.00" fill="#969696" />
<circle cx="120.97" cy="489.90" r="1.00" fill="#969696" />
<circle cx="126.06" cy="486.61" r="1.00" fill="#969696" />
<circle cx="123.70" cy="490.65" r="1.00" fill="#969696" />
<circle cx="123.50" cy="461.42" r="1.00" fill="#969696" />
<circle cx="121.14" cy="470.80" r="1.00" fill="#969696" />
<circle cx="128.92" cy="479.09" r="1.00" fill="#969696" />
<circle cx="126.25" cy="474.18" r="1.00" fill="#969696" />
<circle cx="120.77" cy="497.41" r="1.00" fill="#969696" />
<circle cx="118.50" cy="488.43" r="1.00" fill="#969696" />
<circle cx="128.47" cy="476.31" r="1.00" fill="#969696" />
<circle cx="128.87" cy="486.00" r="1.00" fill="#969696" />
<circle cx="118.27" cy="479.94" r="1.00" fill="#969696" />
<circle cx="120.67" cy="494.38" r="1.00" fill="#969696" />
<circle cx="120.69" cy="475.84" r="1.00" fill="#969696" />
<circle cx="126.15" cy="470.42" r="1.00" fill="#969696" />
<circle cx="120.98" cy="482.39" r="1.00" fill="#969696" />
<circle cx="126.32" cy="496.23" r="1.00" fill="#969696" />
<circle cx="120.79" cy="466.92" r="1.00" fill="#969696" />
<circle cx="125.94" cy="489.90" r="1.00" fill="#969696" />
<circle cx="120.95" cy="461.87" r="1.00" fill="#969696" />
<circle cx="118.39" cy="486.10" r="1.00" fill="#969696" />
<circle cx="123.46" cy="504.54" r="1.00" fill="#969696" />
<circle cx="126.12" cy="483.54" r="1.00" fill="#969696" />
<circle cx="125.91" cy="508.47" r="1.00" fill="#969696" />
<circle cx="125.99" cy="502.06" r="1.00" fill="#969696" />
<circle cx="128.82" cy="473.86" r="1.00" fill="#969696" />
<circle cx="126.01" cy="479.22" r="1.00" fill="#969696" />
<circle cx="121.09" cy="502.79" r="1.00" fill="#969696" />
<circle cx="122.28" cy="480.20" r="1.00" fill="#969696" />
<circle cx="128.74" cy="484.93" r="1.00" fill="#969696" />
<circle cx="125.15" cy="485.41" r="1.00" fill="#969696" />
<circle cx="118.26" cy="494.16" r="1.00" fill="#969696" />
<circle cx="118.06" cy="475.32" r="1.00" fill="#969696" />
<circle cx="126.13" cy="492.76" r="1.00" fill="#969696" />
<circle cx="128.64" cy="482.41" r="1.00" fill="#969696" />
<circle cx="123.99" cy="476.16" r="1.00" fill="#969696" />
<line x1="118.70" y1="484.29" x2="128.30" y2="484.29" stroke="#000" stroke-width="2.1" />
<line x1="123.50" y1="514.40" x2="123.50" y2="517.20" stroke="#000" stroke-width="1.1" />
<text stroke="#000" stroke-width="0.42" stroke-linejoin="round" transform="translate(124.80,522.90) rotate(-45)" x="-33.87" y="0" font-size="7.2" font-weight="bold" fill="#000" textLength="33.87" lengthAdjust="spacingAndGlyphs">IgA+CD19+</text>
<circle cx="136.60" cy="496.16" r="1.00" fill="#969696" />
<circle cx="136.30" cy="480.07" r="1.00" fill="#969696" />
<circle cx="136.27" cy="490.31" r="1.00" fill="#969696" />
<circle cx="136.51" cy="500.92" r="1.00" fill="#969696" />
<circle cx="136.54" cy="486.99" r="1.00" fill="#969696" />
<circle cx="136.22" cy="482.48" r="1.00" fill="#969696" />
<circle cx="136.48" cy="504.35" r="1.00" fill="#969696" />
<circle cx="136.33" cy="475.16" r="1.00" fill="#969696" />
<circle cx="133.81" cy="477.27" r="1.00" fill="#969696" />
<circle cx="133.66" cy="505.57" r="1.00" fill="#969696" />
<circle cx="133.68" cy="480.95" r="1.00" fill="#969696" />
<circle cx="138.76" cy="475.10" r="1.00" fill="#969696" />
<circle cx="138.85" cy="497.56" r="1.00" fill="#969696" />
<circle cx="139.05" cy="485.15" r="1.00" fill="#969696" />
<circle cx="139.09" cy="504.15" r="1.00" fill="#969696" />
<circle cx="133.64" cy="483.45" r="1.00" fill="#969696" />
<circle cx="133.69" cy="495.90" r="1.00" fill="#969696" />
<circle cx="136.28" cy="493.13" r="1.00" fill="#969696" />
<circle cx="136.26" cy="506.89" r="1.00" fill="#969696" />
<circle cx="139.14" cy="481.70" r="1.00" fill="#969696" />
<circle cx="139.16" cy="494.84" r="1.00" fill="#969696" />
<circle cx="136.56" cy="440.23" r="1.00" fill="#969696" />
<circle cx="136.20" cy="457.21" r="1.00" fill="#969696" />
<circle cx="136.20" cy="511.43" r="1.00" fill="#969696" />
<circle cx="131.01" cy="497.47" r="1.00" fill="#969696" />
<circle cx="131.09" cy="482.64" r="1.00" fill="#969696" />
<line x1="131.60" y1="485.03" x2="141.20" y2="485.03" stroke="#000" stroke-width="2.1" />
<line x1="136.40" y1="514.40" x2="136.40" y2="517.20" stroke="#000" stroke-width="1.1" />
<text stroke="#000" stroke-width="0.42" stroke-linejoin="round" transform="translate(137.70,522.90) rotate(-45)" x="-32.28" y="0" font-size="7.2" font-weight="bold" fill="#000" textLength="32.28" lengthAdjust="spacingAndGlyphs">IgA+CD19-</text>
<circle cx="158.91" cy="486.59" r="1.00" fill="#969696" />
<circle cx="158.77" cy="483.30" r="1.00" fill="#969696" />
<circle cx="158.48" cy="477.28" r="1.00" fill="#969696" />
<circle cx="158.60" cy="467.61" r="1.00" fill="#969696" />
<circle cx="158.86" cy="463.15" r="1.00" fill="#969696" />
<circle cx="155.87" cy="483.55" r="1.00" fill="#969696" />
<circle cx="161.34" cy="478.66" r="1.00" fill="#969696" />
<circle cx="156.17" cy="487.65" r="1.00" fill="#969696" />
<circle cx="155.92" cy="465.88" r="1.00" fill="#969696" />
<circle cx="158.49" cy="481.09" r="1.00" fill="#969696" />
<circle cx="156.25" cy="477.01" r="1.00" fill="#969696" />
<circle cx="158.57" cy="498.70" r="1.00" fill="#969696" />
<circle cx="158.47" cy="494.96" r="1.00" fill="#969696" />
<circle cx="156.05" cy="499.72" r="1.00" fill="#969696" />
<circle cx="161.45" cy="495.09" r="1.00" fill="#969696" />
<circle cx="161.06" cy="485.86" r="1.00" fill="#969696" />
<circle cx="161.32" cy="497.90" r="1.00" fill="#969696" />
<circle cx="158.67" cy="489.61" r="1.00" fill="#969696" />
<circle cx="158.62" cy="473.72" r="1.00" fill="#969696" />
<circle cx="161.15" cy="481.35" r="1.00" fill="#969696" />
<circle cx="156.00" cy="480.52" r="1.00" fill="#969696" />
<circle cx="153.72" cy="480.43" r="1.00" fill="#969696" />
<circle cx="164.11" cy="497.69" r="1.00" fill="#969696" />
<circle cx="156.05" cy="491.10" r="1.00" fill="#969696" />
<circle cx="153.34" cy="476.64" r="1.00" fill="#969696" />
<circle cx="161.17" cy="474.03" r="1.00" fill="#969696" />
<circle cx="164.03" cy="482.24" r="1.00" fill="#969696" />
<circle cx="163.91" cy="479.72" r="1.00" fill="#969696" />
<circle cx="160.80" cy="479.78" r="1.00" fill="#969696" />
<circle cx="163.70" cy="487.17" r="1.00" fill="#969696" />
<circle cx="160.36" cy="478.22" r="1.00" fill="#969696" />
<circle cx="153.73" cy="485.49" r="1.00" fill="#969696" />
<circle cx="156.10" cy="473.42" r="1.00" fill="#969696" />
<circle cx="161.30" cy="483.38" r="1.00" fill="#969696" />
<circle cx="161.44" cy="489.34" r="1.00" fill="#969696" />
<circle cx="164.56" cy="480.71" r="1.00" fill="#969696" />
<circle cx="163.20" cy="487.31" r="1.00" fill="#969696" />
<circle cx="155.61" cy="477.72" r="1.00" fill="#969696" />
<circle cx="163.98" cy="474.90" r="1.00" fill="#969696" />
<circle cx="153.35" cy="487.83" r="1.00" fill="#969696" />
<circle cx="164.12" cy="490.19" r="1.00" fill="#969696" />
<circle cx="164.12" cy="484.80" r="1.00" fill="#969696" />
<circle cx="160.80" cy="483.76" r="1.00" fill="#969696" />
<circle cx="155.94" cy="495.03" r="1.00" fill="#969696" />
<circle cx="153.48" cy="473.17" r="1.00" fill="#969696" />
<circle cx="155.42" cy="474.72" r="1.00" fill="#969696" />
<circle cx="153.54" cy="477.54" r="1.00" fill="#969696" />
<circle cx="156.60" cy="473.94" r="1.00" fill="#969696" />
<circle cx="158.16" cy="475.39" r="1.00" fill="#969696" />
<circle cx="160.43" cy="478.43" r="1.00" fill="#969696" />
<circle cx="161.24" cy="479.16" r="1.00" fill="#969696" />
<circle cx="156.26" cy="489.42" r="1.00" fill="#969696" />
<circle cx="159.97" cy="483.38" r="1.00" fill="#969696" />
<circle cx="155.98" cy="478.89" r="1.00" fill="#969696" />
<circle cx="161.43" cy="471.55" r="1.00" fill="#969696" />
<circle cx="156.21" cy="478.13" r="1.00" fill="#969696" />
<circle cx="158.58" cy="489.42" r="1.00" fill="#969696" />
<circle cx="158.73" cy="491.94" r="1.00" fill="#969696" />
<circle cx="161.37" cy="500.14" r="1.00" fill="#969696" />
<circle cx="153.37" cy="490.81" r="1.00" fill="#969696" />
<circle cx="156.19" cy="463.64" r="1.00" fill="#969696" />
<circle cx="164.43" cy="482.26" r="1.00" fill="#969696" />
<circle cx="156.61" cy="477.77" r="1.00" fill="#969696" />
<circle cx="162.80" cy="486.14" r="1.00" fill="#969696" />
<circle cx="153.19" cy="486.73" r="1.00" fill="#969696" />
<circle cx="164.20" cy="491.50" r="1.00" fill="#969696" />
<circle cx="162.14" cy="478.87" r="1.00" fill="#969696" />
<circle cx="161.82" cy="472.97" r="1.00" fill="#969696" />
<circle cx="156.52" cy="484.68" r="1.00" fill="#969696" />
<circle cx="155.97" cy="469.42" r="1.00" fill="#969696" />
<circle cx="156.69" cy="477.07" r="1.00" fill="#969696" />
<circle cx="158.07" cy="480.91" r="1.00" fill="#969696" />
<line x1="153.90" y1="482.95" x2="163.50" y2="482.95" stroke="#000" stroke-width="2.1" />
<line x1="158.70" y1="514.40" x2="158.70" y2="517.20" stroke="#000" stroke-width="1.1" />
<text stroke="#000" stroke-width="0.42" stroke-linejoin="round" transform="translate(160.00,522.90) rotate(-45)" x="-56.08" y="0" font-size="7.2" font-weight="bold" fill="#000" textLength="56.08" lengthAdjust="spacingAndGlyphs">Blood TT+IgG+ PB</text>
<line x1="51.30" y1="426.40" x2="64.80" y2="426.40" stroke="#000" stroke-width="1.3" />
<path d="M55.60,419.55L55.60,422.85M54.17,420.38L57.03,422.02M54.17,422.02L57.03,420.38" stroke="#000" stroke-width="1.3" stroke-linecap="round" fill="none"/>
<circle cx="55.60" cy="421.20" r="1.50" fill="#000"/>
<path d="M60.60,419.55L60.60,422.85M59.17,420.38L62.03,422.02M59.17,422.02L62.03,420.38" stroke="#000" stroke-width="1.3" stroke-linecap="round" fill="none"/>
<circle cx="60.60" cy="421.20" r="1.50" fill="#000"/>
<line x1="85.60" y1="426.40" x2="99.20" y2="426.40" stroke="#000" stroke-width="1.3" />
<path d="M89.80,419.55L89.80,422.85M88.37,420.38L91.23,422.02M88.37,422.02L91.23,420.38" stroke="#000" stroke-width="1.3" stroke-linecap="round" fill="none"/>
<circle cx="89.80" cy="421.20" r="1.50" fill="#000"/>
<path d="M94.80,419.55L94.80,422.85M93.37,420.38L96.23,422.02M93.37,422.02L96.23,420.38" stroke="#000" stroke-width="1.3" stroke-linecap="round" fill="none"/>
<circle cx="94.80" cy="421.20" r="1.50" fill="#000"/>
<line x1="102.80" y1="426.40" x2="160.30" y2="426.40" stroke="#000" stroke-width="1.3" />
<path d="M132.00,419.55L132.00,422.85M130.57,420.38L133.43,422.02M130.57,422.02L133.43,420.38" stroke="#000" stroke-width="1.3" stroke-linecap="round" fill="none"/>
<circle cx="132.00" cy="421.20" r="1.50" fill="#000"/>
<text stroke="#000" stroke-width="0.42" stroke-linejoin="round" transform="translate(22.00,505.50) rotate(-90)" x="0" y="0" font-size="7.2" font-weight="bold" font-style="normal" fill="#000" textLength="70.61" lengthAdjust="spacingAndGlyphs">Number of mutations</text>
<line x1="215.50" y1="425.40" x2="215.50" y2="514.60" stroke="#000" stroke-width="1.3" />
<line x1="214.90" y1="514.00" x2="335.50" y2="514.00" stroke="#000" stroke-width="1.3" />
<line x1="212.60" y1="514.00" x2="215.50" y2="514.00" stroke="#000" stroke-width="1.1" />
<text stroke="#000" stroke-width="0.42" stroke-linejoin="round" x="209.00" y="516.70" font-size="7.6" font-weight="bold" font-style="normal" fill="#000" textLength="3.71" lengthAdjust="spacingAndGlyphs">0</text>
<line x1="212.60" y1="484.47" x2="215.50" y2="484.47" stroke="#000" stroke-width="1.1" />
<text stroke="#000" stroke-width="0.42" stroke-linejoin="round" x="204.90" y="487.17" font-size="7.6" font-weight="bold" font-style="normal" fill="#000" textLength="7.82" lengthAdjust="spacingAndGlyphs">10</text>
<line x1="212.60" y1="454.93" x2="215.50" y2="454.93" stroke="#000" stroke-width="1.1" />
<text stroke="#000" stroke-width="0.42" stroke-linejoin="round" x="204.90" y="457.63" font-size="7.6" font-weight="bold" font-style="normal" fill="#000" textLength="7.82" lengthAdjust="spacingAndGlyphs">20</text>
<line x1="212.60" y1="425.40" x2="215.50" y2="425.40" stroke="#000" stroke-width="1.1" />
<text stroke="#000" stroke-width="0.42" stroke-linejoin="round" x="204.90" y="428.10" font-size="7.6" font-weight="bold" font-style="normal" fill="#000" textLength="7.82" lengthAdjust="spacingAndGlyphs">30</text>
<circle cx="222.57" cy="476.15" r="1.00" fill="#969696" />
<circle cx="219.73" cy="476.05" r="1.00" fill="#969696" />
<circle cx="222.68" cy="483.53" r="1.00" fill="#969696" />
<circle cx="222.52" cy="499.00" r="1.00" fill="#969696" />
<circle cx="222.40" cy="485.97" r="1.00" fill="#969696" />
<circle cx="222.42" cy="501.35" r="1.00" fill="#969696" />
<circle cx="222.35" cy="480.17" r="1.00" fill="#969696" />
<circle cx="222.28" cy="491.32" r="1.00" fill="#969696" />
<circle cx="219.91" cy="480.59" r="1.00" fill="#969696" />
<circle cx="219.96" cy="487.61" r="1.00" fill="#969696" />
<circle cx="220.03" cy="483.85" r="1.00" fill="#969696" />
<circle cx="225.23" cy="497.94" r="1.00" fill="#969696" />
<circle cx="224.87" cy="475.93" r="1.00" fill="#969696" />
<circle cx="222.28" cy="494.74" r="1.00" fill="#969696" />
<circle cx="219.77" cy="490.39" r="1.00" fill="#969696" />
<circle cx="222.68" cy="507.66" r="1.00" fill="#969696" />
<circle cx="225.27" cy="478.82" r="1.00" fill="#969696" />
<circle cx="227.64" cy="478.18" r="1.00" fill="#969696" />
<circle cx="217.26" cy="477.60" r="1.00" fill="#969696" />
<circle cx="225.06" cy="485.65" r="1.00" fill="#969696" />
<circle cx="225.13" cy="481.25" r="1.00" fill="#969696" />
<circle cx="227.57" cy="481.07" r="1.00" fill="#969696" />
<circle cx="222.58" cy="478.54" r="1.00" fill="#969696" />
<circle cx="227.85" cy="487.06" r="1.00" fill="#969696" />
<circle cx="219.95" cy="493.12" r="1.00" fill="#969696" />
<circle cx="220.01" cy="495.37" r="1.00" fill="#969696" />
<circle cx="224.91" cy="490.08" r="1.00" fill="#969696" />
<circle cx="225.09" cy="478.24" r="1.00" fill="#969696" />
<circle cx="227.58" cy="474.22" r="1.00" fill="#969696" />
<circle cx="217.10" cy="484.08" r="1.00" fill="#969696" />
<circle cx="226.75" cy="478.21" r="1.00" fill="#969696" />
<circle cx="225.57" cy="479.43" r="1.00" fill="#969696" />
<circle cx="219.95" cy="498.24" r="1.00" fill="#969696" />
<circle cx="227.69" cy="483.48" r="1.00" fill="#969696" />
<circle cx="222.56" cy="446.07" r="1.00" fill="#969696" />
<circle cx="221.77" cy="478.72" r="1.00" fill="#969696" />
<circle cx="227.63" cy="497.08" r="1.00" fill="#969696" />
<circle cx="225.32" cy="493.56" r="1.00" fill="#969696" />
<circle cx="217.47" cy="487.48" r="1.00" fill="#969696" />
<circle cx="217.26" cy="493.29" r="1.00" fill="#969696" />
<circle cx="222.34" cy="473.86" r="1.00" fill="#969696" />
<circle cx="227.73" cy="489.67" r="1.00" fill="#969696" />
<circle cx="219.09" cy="486.98" r="1.00" fill="#969696" />
<circle cx="224.19" cy="491.80" r="1.00" fill="#969696" />
<circle cx="219.29" cy="476.01" r="1.00" fill="#969696" />
<circle cx="220.14" cy="484.78" r="1.00" fill="#969696" />
<circle cx="227.74" cy="494.70" r="1.00" fill="#969696" />
<circle cx="222.51" cy="503.57" r="1.00" fill="#969696" />
<circle cx="217.42" cy="480.92" r="1.00" fill="#969696" />
<circle cx="217.38" cy="490.05" r="1.00" fill="#969696" />
<circle cx="222.75" cy="493.43" r="1.00" fill="#969696" />
<circle cx="227.60" cy="485.38" r="1.00" fill="#969696" />
<circle cx="217.81" cy="484.23" r="1.00" fill="#969696" />
<circle cx="222.55" cy="488.66" r="1.00" fill="#969696" />
<circle cx="222.72" cy="491.75" r="1.00" fill="#969696" />
<circle cx="220.00" cy="503.28" r="1.00" fill="#969696" />
<circle cx="228.08" cy="480.41" r="1.00" fill="#969696" />
<circle cx="225.00" cy="500.35" r="1.00" fill="#969696" />
<circle cx="224.91" cy="478.34" r="1.00" fill="#969696" />
<circle cx="221.10" cy="488.82" r="1.00" fill="#969696" />
<circle cx="228.26" cy="486.61" r="1.00" fill="#969696" />
<circle cx="225.03" cy="508.94" r="1.00" fill="#969696" />
<circle cx="228.04" cy="490.49" r="1.00" fill="#969696" />
<circle cx="220.33" cy="487.61" r="1.00" fill="#969696" />
<circle cx="224.63" cy="481.23" r="1.00" fill="#969696" />
<circle cx="219.99" cy="479.62" r="1.00" fill="#969696" />
<circle cx="225.99" cy="492.80" r="1.00" fill="#969696" />
<circle cx="225.18" cy="492.77" r="1.00" fill="#969696" />
<circle cx="220.00" cy="485.16" r="1.00" fill="#969696" />
<circle cx="223.20" cy="479.47" r="1.00" fill="#969696" />
<circle cx="227.64" cy="500.31" r="1.00" fill="#969696" />
<circle cx="218.36" cy="491.57" r="1.00" fill="#969696" />
<circle cx="225.37" cy="477.34" r="1.00" fill="#969696" />
<circle cx="222.65" cy="470.83" r="1.00" fill="#969696" />
<circle cx="220.21" cy="487.82" r="1.00" fill="#969696" />
<circle cx="222.94" cy="494.38" r="1.00" fill="#969696" />
<circle cx="223.90" cy="475.22" r="1.00" fill="#969696" />
<circle cx="224.83" cy="488.00" r="1.00" fill="#969696" />
<circle cx="222.30" cy="443.12" r="1.00" fill="#969696" />
<circle cx="222.68" cy="460.12" r="1.00" fill="#969696" />
<circle cx="227.76" cy="486.53" r="1.00" fill="#969696" />
<circle cx="226.07" cy="489.09" r="1.00" fill="#969696" />
<circle cx="221.20" cy="484.43" r="1.00" fill="#969696" />
<circle cx="217.26" cy="489.57" r="1.00" fill="#969696" />
<circle cx="222.69" cy="492.72" r="1.00" fill="#969696" />
<circle cx="219.49" cy="481.63" r="1.00" fill="#969696" />
<circle cx="222.41" cy="491.40" r="1.00" fill="#969696" />
<circle cx="225.03" cy="506.33" r="1.00" fill="#969696" />
<circle cx="217.20" cy="496.47" r="1.00" fill="#969696" />
<circle cx="222.10" cy="475.74" r="1.00" fill="#969696" />
<circle cx="220.06" cy="470.66" r="1.00" fill="#969696" />
<circle cx="225.65" cy="485.32" r="1.00" fill="#969696" />
<circle cx="221.52" cy="497.89" r="1.00" fill="#969696" />
<circle cx="224.25" cy="494.68" r="1.00" fill="#969696" />
<line x1="217.70" y1="485.94" x2="227.30" y2="485.94" stroke="#000" stroke-width="2.1" />
<line x1="222.50" y1="514.00" x2="222.50" y2="516.80" stroke="#000" stroke-width="1.1" />
<text stroke="#000" stroke-width="0.42" stroke-linejoin="round" transform="translate(223.80,522.50) rotate(-45)" x="-28.76" y="0" font-size="7.2" font-weight="bold" fill="#000" textLength="28.76" lengthAdjust="spacingAndGlyphs">all CD19+</text>
<circle cx="235.47" cy="499.21" r="1.00" fill="#969696" />
<circle cx="235.90" cy="488.70" r="1.00" fill="#969696" />
<circle cx="235.81" cy="474.07" r="1.00" fill="#969696" />
<circle cx="235.46" cy="495.60" r="1.00" fill="#969696" />
<circle cx="235.68" cy="479.66" r="1.00" fill="#969696" />
<circle cx="238.51" cy="481.37" r="1.00" fill="#969696" />
<circle cx="233.15" cy="489.76" r="1.00" fill="#969696" />
<circle cx="238.14" cy="496.52" r="1.00" fill="#969696" />
<circle cx="232.86" cy="496.45" r="1.00" fill="#969696" />
<circle cx="235.85" cy="492.48" r="1.00" fill="#969696" />
<circle cx="238.32" cy="489.12" r="1.00" fill="#969696" />
<circle cx="238.18" cy="492.47" r="1.00" fill="#969696" />
<circle cx="235.54" cy="476.91" r="1.00" fill="#969696" />
<circle cx="235.76" cy="451.98" r="1.00" fill="#969696" />
<circle cx="233.32" cy="492.93" r="1.00" fill="#969696" />
<circle cx="241.00" cy="493.80" r="1.00" fill="#969696" />
<circle cx="238.10" cy="499.71" r="1.00" fill="#969696" />
<circle cx="230.34" cy="492.19" r="1.00" fill="#969696" />
<circle cx="233.13" cy="492.81" r="1.00" fill="#969696" />
<circle cx="235.62" cy="468.32" r="1.00" fill="#969696" />
<circle cx="238.15" cy="493.04" r="1.00" fill="#969696" />
<circle cx="241.03" cy="487.66" r="1.00" fill="#969696" />
<circle cx="230.33" cy="495.73" r="1.00" fill="#969696" />
<circle cx="235.67" cy="483.51" r="1.00" fill="#969696" />
<circle cx="230.80" cy="494.70" r="1.00" fill="#969696" />
<circle cx="233.15" cy="481.99" r="1.00" fill="#969696" />
<circle cx="235.87" cy="503.39" r="1.00" fill="#969696" />
<circle cx="230.69" cy="488.04" r="1.00" fill="#969696" />
<circle cx="240.91" cy="482.68" r="1.00" fill="#969696" />
<circle cx="240.23" cy="495.20" r="1.00" fill="#969696" />
<circle cx="238.43" cy="484.38" r="1.00" fill="#969696" />
<circle cx="241.31" cy="493.56" r="1.00" fill="#969696" />
<circle cx="241.56" cy="489.59" r="1.00" fill="#969696" />
<circle cx="232.85" cy="485.13" r="1.00" fill="#969696" />
<circle cx="235.51" cy="485.87" r="1.00" fill="#969696" />
<circle cx="230.31" cy="485.61" r="1.00" fill="#969696" />
<circle cx="239.80" cy="492.01" r="1.00" fill="#969696" />
<circle cx="230.82" cy="489.06" r="1.00" fill="#969696" />
<circle cx="235.60" cy="494.31" r="1.00" fill="#969696" />
<circle cx="240.99" cy="486.10" r="1.00" fill="#969696" />
<circle cx="234.12" cy="490.68" r="1.00" fill="#969696" />
<circle cx="235.53" cy="493.80" r="1.00" fill="#969696" />
<circle cx="233.14" cy="478.66" r="1.00" fill="#969696" />
<circle cx="240.59" cy="488.52" r="1.00" fill="#969696" />
<circle cx="232.32" cy="486.32" r="1.00" fill="#969696" />
<circle cx="235.69" cy="485.47" r="1.00" fill="#969696" />
<circle cx="234.37" cy="490.70" r="1.00" fill="#969696" />
<circle cx="238.50" cy="504.87" r="1.00" fill="#969696" />
<circle cx="234.97" cy="493.26" r="1.00" fill="#969696" />
<circle cx="233.28" cy="503.11" r="1.00" fill="#969696" />
<circle cx="240.95" cy="503.69" r="1.00" fill="#969696" />
<circle cx="238.47" cy="477.82" r="1.00" fill="#969696" />
<circle cx="232.41" cy="490.09" r="1.00" fill="#969696" />
<circle cx="230.94" cy="490.49" r="1.00" fill="#969696" />
<circle cx="233.51" cy="493.82" r="1.00" fill="#969696" />
<circle cx="230.69" cy="481.76" r="1.00" fill="#969696" />
<circle cx="230.38" cy="477.07" r="1.00" fill="#969696" />
<circle cx="240.69" cy="478.02" r="1.00" fill="#969696" />
<circle cx="235.84" cy="506.57" r="1.00" fill="#969696" />
<circle cx="234.48" cy="493.84" r="1.00" fill="#969696" />
<circle cx="232.79" cy="496.02" r="1.00" fill="#969696" />
<circle cx="235.67" cy="492.47" r="1.00" fill="#969696" />
<circle cx="237.82" cy="496.56" r="1.00" fill="#969696" />
<circle cx="232.41" cy="490.22" r="1.00" fill="#969696" />
<circle cx="233.31" cy="505.39" r="1.00" fill="#969696" />
<circle cx="231.50" cy="484.89" r="1.00" fill="#969696" />
<circle cx="232.13" cy="494.88" r="1.00" fill="#969696" />
<circle cx="231.80" cy="492.55" r="1.00" fill="#969696" />
<circle cx="239.23" cy="491.60" r="1.00" fill="#969696" />
<circle cx="238.22" cy="474.66" r="1.00" fill="#969696" />
<circle cx="234.11" cy="492.25" r="1.00" fill="#969696" />
<circle cx="239.18" cy="492.45" r="1.00" fill="#969696" />
<circle cx="239.36" cy="495.48" r="1.00" fill="#969696" />
<circle cx="233.16" cy="499.64" r="1.00" fill="#969696" />
<circle cx="231.69" cy="490.05" r="1.00" fill="#969696" />
<circle cx="236.86" cy="491.40" r="1.00" fill="#969696" />
<circle cx="239.17" cy="497.60" r="1.00" fill="#969696" />
<circle cx="233.27" cy="473.99" r="1.00" fill="#969696" />
<circle cx="235.72" cy="496.62" r="1.00" fill="#969696" />
<circle cx="230.64" cy="499.20" r="1.00" fill="#969696" />
<circle cx="241.10" cy="501.03" r="1.00" fill="#969696" />
<circle cx="230.34" cy="479.45" r="1.00" fill="#969696" />
<circle cx="234.21" cy="487.71" r="1.00" fill="#969696" />
<circle cx="239.99" cy="484.09" r="1.00" fill="#969696" />
<circle cx="232.41" cy="493.58" r="1.00" fill="#969696" />
<circle cx="231.99" cy="497.07" r="1.00" fill="#969696" />
<circle cx="240.16" cy="489.27" r="1.00" fill="#969696" />
<circle cx="238.18" cy="507.20" r="1.00" fill="#969696" />
<circle cx="232.65" cy="482.57" r="1.00" fill="#969696" />
<line x1="230.90" y1="491.26" x2="240.50" y2="491.26" stroke="#000" stroke-width="2.1" />
<line x1="235.70" y1="514.00" x2="235.70" y2="516.80" stroke="#000" stroke-width="1.1" />
<text stroke="#000" stroke-width="0.42" stroke-linejoin="round" transform="translate(237.00,522.50) rotate(-45)" x="-27.17" y="0" font-size="7.2" font-weight="bold" fill="#000" textLength="27.17" lengthAdjust="spacingAndGlyphs">all CD19-</text>
<circle cx="258.04" cy="494.54" r="1.00" fill="#969696" />
<circle cx="258.08" cy="492.07" r="1.00" fill="#969696" />
<circle cx="258.18" cy="449.46" r="1.00" fill="#969696" />
<circle cx="257.92" cy="446.07" r="1.00" fill="#969696" />
<circle cx="257.84" cy="474.64" r="1.00" fill="#969696" />
<circle cx="257.78" cy="477.91" r="1.00" fill="#969696" />
<circle cx="257.80" cy="497.05" r="1.00" fill="#969696" />
<circle cx="255.43" cy="479.55" r="1.00" fill="#969696" />
<circle cx="255.53" cy="493.32" r="1.00" fill="#969696" />
<circle cx="255.26" cy="490.40" r="1.00" fill="#969696" />
<circle cx="260.45" cy="477.50" r="1.00" fill="#969696" />
<circle cx="260.72" cy="492.09" r="1.00" fill="#969696" />
<circle cx="258.15" cy="484.77" r="1.00" fill="#969696" />
<circle cx="258.05" cy="488.80" r="1.00" fill="#969696" />
<circle cx="258.17" cy="462.77" r="1.00" fill="#969696" />
<circle cx="255.42" cy="474.43" r="1.00" fill="#969696" />
<circle cx="255.56" cy="484.09" r="1.00" fill="#969696" />
<circle cx="255.62" cy="488.11" r="1.00" fill="#969696" />
<circle cx="252.90" cy="477.95" r="1.00" fill="#969696" />
<circle cx="255.60" cy="496.36" r="1.00" fill="#969696" />
<circle cx="260.43" cy="495.54" r="1.00" fill="#969696" />
<circle cx="263.38" cy="476.51" r="1.00" fill="#969696" />
<circle cx="260.54" cy="484.30" r="1.00" fill="#969696" />
<circle cx="252.65" cy="486.34" r="1.00" fill="#969696" />
<circle cx="258.07" cy="443.12" r="1.00" fill="#969696" />
<circle cx="255.67" cy="478.24" r="1.00" fill="#969696" />
<circle cx="257.95" cy="481.66" r="1.00" fill="#969696" />
<circle cx="260.45" cy="480.53" r="1.00" fill="#969696" />
<circle cx="258.21" cy="502.19" r="1.00" fill="#969696" />
<circle cx="260.67" cy="489.25" r="1.00" fill="#969696" />
<circle cx="263.12" cy="488.43" r="1.00" fill="#969696" />
<circle cx="253.01" cy="492.79" r="1.00" fill="#969696" />
<circle cx="261.65" cy="476.95" r="1.00" fill="#969696" />
<circle cx="257.83" cy="467.45" r="1.00" fill="#969696" />
<circle cx="260.82" cy="467.08" r="1.00" fill="#969696" />
<line x1="253.20" y1="483.88" x2="262.80" y2="483.88" stroke="#000" stroke-width="2.1" />
<line x1="258.00" y1="514.00" x2="258.00" y2="516.80" stroke="#000" stroke-width="1.1" />
<text stroke="#000" stroke-width="0.42" stroke-linejoin="round" transform="translate(259.30,522.50) rotate(-45)" x="-34.22" y="0" font-size="7.2" font-weight="bold" fill="#000" textLength="34.22" lengthAdjust="spacingAndGlyphs">IgG+CD19+</text>
<circle cx="270.59" cy="491.09" r="1.00" fill="#969696" />
<circle cx="270.76" cy="498.40" r="1.00" fill="#969696" />
<circle cx="270.58" cy="483.70" r="1.00" fill="#969696" />
<circle cx="271.04" cy="487.59" r="1.00" fill="#969696" />
<circle cx="268.07" cy="500.46" r="1.00" fill="#969696" />
<circle cx="270.99" cy="479.43" r="1.00" fill="#969696" />
<circle cx="273.26" cy="496.99" r="1.00" fill="#969696" />
<circle cx="271.01" cy="506.14" r="1.00" fill="#969696" />
<circle cx="270.65" cy="495.48" r="1.00" fill="#969696" />
<circle cx="273.55" cy="494.25" r="1.00" fill="#969696" />
<circle cx="273.17" cy="490.43" r="1.00" fill="#969696" />
<circle cx="270.75" cy="500.87" r="1.00" fill="#969696" />
<circle cx="273.17" cy="500.65" r="1.00" fill="#969696" />
<circle cx="268.29" cy="486.53" r="1.00" fill="#969696" />
<circle cx="273.36" cy="508.09" r="1.00" fill="#969696" />
<circle cx="273.46" cy="478.69" r="1.00" fill="#969696" />
<circle cx="268.12" cy="478.52" r="1.00" fill="#969696" />
<circle cx="268.18" cy="483.52" r="1.00" fill="#969696" />
<circle cx="268.09" cy="490.44" r="1.00" fill="#969696" />
<circle cx="267.96" cy="505.69" r="1.00" fill="#969696" />
<circle cx="268.28" cy="493.74" r="1.00" fill="#969696" />
<circle cx="270.70" cy="471.13" r="1.00" fill="#969696" />
<circle cx="265.44" cy="494.38" r="1.00" fill="#969696" />
<circle cx="276.13" cy="480.03" r="1.00" fill="#969696" />
<circle cx="268.39" cy="497.92" r="1.00" fill="#969696" />
<circle cx="273.43" cy="485.37" r="1.00" fill="#969696" />
<circle cx="270.63" cy="476.80" r="1.00" fill="#969696" />
<circle cx="270.59" cy="503.30" r="1.00" fill="#969696" />
<circle cx="270.91" cy="466.75" r="1.00" fill="#969696" />
<circle cx="276.21" cy="488.60" r="1.00" fill="#969696" />
<circle cx="265.68" cy="486.92" r="1.00" fill="#969696" />
<circle cx="265.43" cy="498.63" r="1.00" fill="#969696" />
<circle cx="276.13" cy="494.71" r="1.00" fill="#969696" />
<circle cx="273.62" cy="482.75" r="1.00" fill="#969696" />
<circle cx="270.95" cy="495.52" r="1.00" fill="#969696" />
<circle cx="275.92" cy="486.11" r="1.00" fill="#969696" />
<circle cx="265.74" cy="485.00" r="1.00" fill="#969696" />
<circle cx="273.52" cy="488.03" r="1.00" fill="#969696" />
<circle cx="276.11" cy="500.86" r="1.00" fill="#969696" />
<circle cx="268.24" cy="468.32" r="1.00" fill="#969696" />
<line x1="266.00" y1="491.55" x2="275.60" y2="491.55" stroke="#000" stroke-width="2.1" />
<line x1="270.80" y1="514.00" x2="270.80" y2="516.80" stroke="#000" stroke-width="1.1" />
<text stroke="#000" stroke-width="0.42" stroke-linejoin="round" transform="translate(272.10,522.50) rotate(-45)" x="-32.63" y="0" font-size="7.2" font-weight="bold" fill="#000" textLength="32.63" lengthAdjust="spacingAndGlyphs">IgG+CD19-</text>
<circle cx="293.72" cy="497.66" r="1.00" fill="#969696" />
<circle cx="293.55" cy="481.66" r="1.00" fill="#969696" />
<circle cx="293.28" cy="489.09" r="1.00" fill="#969696" />
<circle cx="293.52" cy="471.83" r="1.00" fill="#969696" />
<circle cx="293.40" cy="503.51" r="1.00" fill="#969696" />
<circle cx="293.42" cy="485.85" r="1.00" fill="#969696" />
<circle cx="296.06" cy="481.00" r="1.00" fill="#969696" />
<circle cx="291.07" cy="501.37" r="1.00" fill="#969696" />
<circle cx="290.84" cy="483.14" r="1.00" fill="#969696" />
<circle cx="293.70" cy="467.96" r="1.00" fill="#969696" />
<circle cx="295.97" cy="490.23" r="1.00" fill="#969696" />
<circle cx="296.03" cy="487.80" r="1.00" fill="#969696" />
<circle cx="290.99" cy="480.41" r="1.00" fill="#969696" />
<circle cx="288.38" cy="482.68" r="1.00" fill="#969696" />
<circle cx="293.56" cy="477.98" r="1.00" fill="#969696" />
<circle cx="295.97" cy="496.72" r="1.00" fill="#969696" />
<circle cx="293.46" cy="495.44" r="1.00" fill="#969696" />
<circle cx="290.86" cy="497.26" r="1.00" fill="#969696" />
<circle cx="296.18" cy="484.96" r="1.00" fill="#969696" />
<circle cx="288.53" cy="485.18" r="1.00" fill="#969696" />
<circle cx="298.71" cy="495.75" r="1.00" fill="#969696" />
<circle cx="288.16" cy="495.20" r="1.00" fill="#969696" />
<circle cx="290.83" cy="488.41" r="1.00" fill="#969696" />
<circle cx="288.15" cy="490.30" r="1.00" fill="#969696" />
<circle cx="290.92" cy="494.26" r="1.00" fill="#969696" />
<circle cx="296.23" cy="476.43" r="1.00" fill="#969696" />
<circle cx="288.18" cy="479.89" r="1.00" fill="#969696" />
<circle cx="298.80" cy="489.14" r="1.00" fill="#969696" />
<circle cx="289.71" cy="496.15" r="1.00" fill="#969696" />
<circle cx="290.91" cy="475.79" r="1.00" fill="#969696" />
<circle cx="298.64" cy="480.73" r="1.00" fill="#969696" />
<circle cx="296.44" cy="482.76" r="1.00" fill="#969696" />
<circle cx="298.85" cy="483.29" r="1.00" fill="#969696" />
<circle cx="288.30" cy="477.62" r="1.00" fill="#969696" />
<circle cx="298.29" cy="482.78" r="1.00" fill="#969696" />
<circle cx="297.03" cy="481.90" r="1.00" fill="#969696" />
<circle cx="291.09" cy="491.20" r="1.00" fill="#969696" />
<circle cx="296.10" cy="494.46" r="1.00" fill="#969696" />
<circle cx="293.72" cy="491.58" r="1.00" fill="#969696" />
<circle cx="295.74" cy="497.24" r="1.00" fill="#969696" />
<circle cx="299.30" cy="490.72" r="1.00" fill="#969696" />
<circle cx="293.61" cy="474.47" r="1.00" fill="#969696" />
<circle cx="298.81" cy="477.75" r="1.00" fill="#969696" />
<circle cx="298.81" cy="498.10" r="1.00" fill="#969696" />
<circle cx="290.07" cy="477.20" r="1.00" fill="#969696" />
<circle cx="288.38" cy="487.98" r="1.00" fill="#969696" />
<circle cx="296.01" cy="472.95" r="1.00" fill="#969696" />
<circle cx="294.07" cy="485.01" r="1.00" fill="#969696" />
<circle cx="297.41" cy="484.01" r="1.00" fill="#969696" />
<circle cx="294.78" cy="481.87" r="1.00" fill="#969696" />
<circle cx="290.54" cy="495.17" r="1.00" fill="#969696" />
<circle cx="291.54" cy="494.11" r="1.00" fill="#969696" />
<line x1="288.70" y1="487.72" x2="298.30" y2="487.72" stroke="#000" stroke-width="2.1" />
<line x1="293.50" y1="514.00" x2="293.50" y2="516.80" stroke="#000" stroke-width="1.1" />
<text stroke="#000" stroke-width="0.42" stroke-linejoin="round" transform="translate(294.80,522.50) rotate(-45)" x="-33.87" y="0" font-size="7.2" font-weight="bold" fill="#000" textLength="33.87" lengthAdjust="spacingAndGlyphs">IgA+CD19+</text>
<circle cx="306.40" cy="478.39" r="1.00" fill="#969696" />
<circle cx="308.81" cy="477.98" r="1.00" fill="#969696" />
<circle cx="306.18" cy="492.78" r="1.00" fill="#969696" />
<circle cx="306.56" cy="485.62" r="1.00" fill="#969696" />
<circle cx="306.49" cy="482.92" r="1.00" fill="#969696" />
<circle cx="306.61" cy="509.37" r="1.00" fill="#969696" />
<circle cx="309.08" cy="491.42" r="1.00" fill="#969696" />
<circle cx="303.68" cy="485.83" r="1.00" fill="#969696" />
<circle cx="306.23" cy="499.61" r="1.00" fill="#969696" />
<circle cx="309.03" cy="497.42" r="1.00" fill="#969696" />
<circle cx="303.56" cy="500.18" r="1.00" fill="#969696" />
<circle cx="308.76" cy="484.46" r="1.00" fill="#969696" />
<circle cx="306.59" cy="451.98" r="1.00" fill="#969696" />
<circle cx="306.18" cy="496.45" r="1.00" fill="#969696" />
<circle cx="306.22" cy="488.20" r="1.00" fill="#969696" />
<circle cx="303.84" cy="490.89" r="1.00" fill="#969696" />
<circle cx="311.54" cy="491.65" r="1.00" fill="#969696" />
<circle cx="306.50" cy="501.86" r="1.00" fill="#969696" />
<circle cx="303.89" cy="483.13" r="1.00" fill="#969696" />
<circle cx="309.15" cy="488.09" r="1.00" fill="#969696" />
<circle cx="308.99" cy="481.93" r="1.00" fill="#969696" />
<circle cx="311.36" cy="483.70" r="1.00" fill="#969696" />
<circle cx="300.97" cy="481.61" r="1.00" fill="#969696" />
<circle cx="301.01" cy="489.52" r="1.00" fill="#969696" />
<circle cx="300.97" cy="491.74" r="1.00" fill="#969696" />
<circle cx="303.76" cy="495.29" r="1.00" fill="#969696" />
<line x1="301.60" y1="488.90" x2="311.20" y2="488.90" stroke="#000" stroke-width="2.1" />
<line x1="306.40" y1="514.00" x2="306.40" y2="516.80" stroke="#000" stroke-width="1.1" />
<text stroke="#000" stroke-width="0.42" stroke-linejoin="round" transform="translate(307.70,522.50) rotate(-45)" x="-32.28" y="0" font-size="7.2" font-weight="bold" fill="#000" textLength="32.28" lengthAdjust="spacingAndGlyphs">IgA+CD19-</text>
<circle cx="328.79" cy="490.10" r="1.00" fill="#969696" />
<circle cx="328.80" cy="476.67" r="1.00" fill="#969696" />
<circle cx="326.12" cy="491.18" r="1.00" fill="#969696" />
<circle cx="328.78" cy="495.05" r="1.00" fill="#969696" />
<circle cx="328.82" cy="483.98" r="1.00" fill="#969696" />
<circle cx="328.49" cy="481.56" r="1.00" fill="#969696" />
<circle cx="328.92" cy="498.26" r="1.00" fill="#969696" />
<circle cx="328.50" cy="486.58" r="1.00" fill="#969696" />
<circle cx="326.07" cy="493.74" r="1.00" fill="#969696" />
<circle cx="331.44" cy="486.23" r="1.00" fill="#969696" />
<circle cx="331.38" cy="489.00" r="1.00" fill="#969696" />
<circle cx="326.03" cy="488.50" r="1.00" fill="#969696" />
<circle cx="326.21" cy="482.75" r="1.00" fill="#969696" />
<circle cx="325.85" cy="498.20" r="1.00" fill="#969696" />
<circle cx="323.43" cy="487.39" r="1.00" fill="#969696" />
<circle cx="325.93" cy="478.55" r="1.00" fill="#969696" />
<circle cx="331.45" cy="479.67" r="1.00" fill="#969696" />
<circle cx="323.55" cy="481.34" r="1.00" fill="#969696" />
<circle cx="334.03" cy="487.21" r="1.00" fill="#969696" />
<circle cx="323.72" cy="484.39" r="1.00" fill="#969696" />
<circle cx="328.47" cy="473.62" r="1.00" fill="#969696" />
<circle cx="325.98" cy="475.56" r="1.00" fill="#969696" />
<circle cx="323.09" cy="486.88" r="1.00" fill="#969696" />
<circle cx="328.76" cy="465.91" r="1.00" fill="#969696" />
<circle cx="327.02" cy="488.35" r="1.00" fill="#969696" />
<circle cx="323.89" cy="486.60" r="1.00" fill="#969696" />
<circle cx="328.49" cy="478.94" r="1.00" fill="#969696" />
<circle cx="324.46" cy="489.19" r="1.00" fill="#969696" />
<circle cx="331.34" cy="475.80" r="1.00" fill="#969696" />
<circle cx="333.97" cy="479.08" r="1.00" fill="#969696" />
<circle cx="331.43" cy="484.00" r="1.00" fill="#969696" />
<circle cx="323.69" cy="477.51" r="1.00" fill="#969696" />
<circle cx="327.70" cy="480.88" r="1.00" fill="#969696" />
<circle cx="332.38" cy="485.95" r="1.00" fill="#969696" />
<circle cx="333.83" cy="475.72" r="1.00" fill="#969696" />
<circle cx="333.67" cy="490.79" r="1.00" fill="#969696" />
<circle cx="328.89" cy="502.19" r="1.00" fill="#969696" />
<circle cx="333.97" cy="483.04" r="1.00" fill="#969696" />
<circle cx="327.89" cy="486.55" r="1.00" fill="#969696" />
<circle cx="326.97" cy="482.64" r="1.00" fill="#969696" />
<circle cx="330.47" cy="475.45" r="1.00" fill="#969696" />
<circle cx="331.49" cy="497.19" r="1.00" fill="#969696" />
<circle cx="330.82" cy="491.03" r="1.00" fill="#969696" />
<circle cx="327.24" cy="476.50" r="1.00" fill="#969696" />
<circle cx="332.07" cy="486.00" r="1.00" fill="#969696" />
<circle cx="333.76" cy="496.58" r="1.00" fill="#969696" />
<circle cx="329.42" cy="480.91" r="1.00" fill="#969696" />
<circle cx="328.70" cy="485.60" r="1.00" fill="#969696" />
<circle cx="326.77" cy="480.95" r="1.00" fill="#969696" />
<circle cx="327.89" cy="481.11" r="1.00" fill="#969696" />
<circle cx="331.11" cy="477.11" r="1.00" fill="#969696" />
<circle cx="329.88" cy="489.98" r="1.00" fill="#969696" />
<circle cx="331.22" cy="493.47" r="1.00" fill="#969696" />
<circle cx="331.55" cy="491.08" r="1.00" fill="#969696" />
<circle cx="326.38" cy="484.93" r="1.00" fill="#969696" />
<circle cx="334.53" cy="483.48" r="1.00" fill="#969696" />
<circle cx="323.28" cy="473.63" r="1.00" fill="#969696" />
<circle cx="334.21" cy="489.38" r="1.00" fill="#969696" />
<circle cx="334.89" cy="491.11" r="1.00" fill="#969696" />
<circle cx="332.96" cy="482.88" r="1.00" fill="#969696" />
<circle cx="332.25" cy="481.48" r="1.00" fill="#969696" />
<circle cx="330.55" cy="488.41" r="1.00" fill="#969696" />
<circle cx="325.07" cy="488.45" r="1.00" fill="#969696" />
<circle cx="324.70" cy="483.29" r="1.00" fill="#969696" />
<circle cx="324.70" cy="489.98" r="1.00" fill="#969696" />
<circle cx="328.49" cy="489.83" r="1.00" fill="#969696" />
<circle cx="326.13" cy="472.89" r="1.00" fill="#969696" />
<circle cx="331.18" cy="484.36" r="1.00" fill="#969696" />
<circle cx="324.12" cy="483.83" r="1.00" fill="#969696" />
<circle cx="333.40" cy="486.35" r="1.00" fill="#969696" />
<circle cx="333.94" cy="499.23" r="1.00" fill="#969696" />
<circle cx="324.34" cy="477.41" r="1.00" fill="#969696" />
<line x1="323.90" y1="485.94" x2="333.50" y2="485.94" stroke="#000" stroke-width="2.1" />
<line x1="328.70" y1="514.00" x2="328.70" y2="516.80" stroke="#000" stroke-width="1.1" />
<text stroke="#000" stroke-width="0.42" stroke-linejoin="round" transform="translate(330.00,522.50) rotate(-45)" x="-56.08" y="0" font-size="7.2" font-weight="bold" fill="#000" textLength="56.08" lengthAdjust="spacingAndGlyphs">Blood TT+IgG+ PB</text>
<line x1="221.30" y1="426.40" x2="235.00" y2="426.40" stroke="#000" stroke-width="1.3" />
<path d="M225.60,419.55L225.60,422.85M224.17,420.38L227.03,422.02M224.17,422.02L227.03,420.38" stroke="#000" stroke-width="1.3" stroke-linecap="round" fill="none"/>
<circle cx="225.60" cy="421.20" r="1.50" fill="#000"/>
<path d="M230.60,419.55L230.60,422.85M229.17,420.38L232.03,422.02M229.17,422.02L232.03,420.38" stroke="#000" stroke-width="1.3" stroke-linecap="round" fill="none"/>
<circle cx="230.60" cy="421.20" r="1.50" fill="#000"/>
<line x1="253.80" y1="426.40" x2="268.00" y2="426.40" stroke="#000" stroke-width="1.3" />
<path d="M256.30,419.55L256.30,422.85M254.87,420.38L257.73,422.02M254.87,422.02L257.73,420.38" stroke="#000" stroke-width="1.3" stroke-linecap="round" fill="none"/>
<circle cx="256.30" cy="421.20" r="1.50" fill="#000"/>
<path d="M261.30,419.55L261.30,422.85M259.87,420.38L262.73,422.02M259.87,422.02L262.73,420.38" stroke="#000" stroke-width="1.3" stroke-linecap="round" fill="none"/>
<circle cx="261.30" cy="421.20" r="1.50" fill="#000"/>
<path d="M266.30,419.55L266.30,422.85M264.87,420.38L267.73,422.02M264.87,422.02L267.73,420.38" stroke="#000" stroke-width="1.3" stroke-linecap="round" fill="none"/>
<circle cx="266.30" cy="421.20" r="1.50" fill="#000"/>
<line x1="272.50" y1="426.40" x2="328.30" y2="426.40" stroke="#000" stroke-width="1.3" />
<path d="M296.30,419.55L296.30,422.85M294.87,420.38L297.73,422.02M294.87,422.02L297.73,420.38" stroke="#000" stroke-width="1.3" stroke-linecap="round" fill="none"/>
<circle cx="296.30" cy="421.20" r="1.50" fill="#000"/>
<path d="M301.30,419.55L301.30,422.85M299.87,420.38L302.73,422.02M299.87,422.02L302.73,420.38" stroke="#000" stroke-width="1.3" stroke-linecap="round" fill="none"/>
<circle cx="301.30" cy="421.20" r="1.50" fill="#000"/>
<path d="M306.30,419.55L306.30,422.85M304.87,420.38L307.73,422.02M304.87,422.02L307.73,420.38" stroke="#000" stroke-width="1.3" stroke-linecap="round" fill="none"/>
<circle cx="306.30" cy="421.20" r="1.50" fill="#000"/>
<text stroke="#000" stroke-width="0.42" stroke-linejoin="round" transform="translate(191.80,509.50) rotate(-90)" x="0" y="0" font-size="7.2" font-weight="bold" font-style="normal" fill="#000" textLength="78.71" lengthAdjust="spacingAndGlyphs">[Mutation frequency] %</text>
<line x1="45.50" y1="608.40" x2="45.50" y2="698.20" stroke="#000" stroke-width="1.3" />
<line x1="44.90" y1="697.60" x2="165.50" y2="697.60" stroke="#000" stroke-width="1.3" />
<line x1="42.60" y1="697.60" x2="45.50" y2="697.60" stroke="#000" stroke-width="1.1" />
<text stroke="#000" stroke-width="0.42" stroke-linejoin="round" x="39.00" y="700.30" font-size="7.6" font-weight="bold" font-style="normal" fill="#000" textLength="3.71" lengthAdjust="spacingAndGlyphs">0</text>
<line x1="42.60" y1="679.76" x2="45.50" y2="679.76" stroke="#000" stroke-width="1.1" />
<text stroke="#000" stroke-width="0.42" stroke-linejoin="round" x="34.90" y="682.46" font-size="7.6" font-weight="bold" font-style="normal" fill="#000" textLength="7.82" lengthAdjust="spacingAndGlyphs">20</text>
<line x1="42.60" y1="661.92" x2="45.50" y2="661.92" stroke="#000" stroke-width="1.1" />
<text stroke="#000" stroke-width="0.42" stroke-linejoin="round" x="34.90" y="664.62" font-size="7.6" font-weight="bold" font-style="normal" fill="#000" textLength="7.82" lengthAdjust="spacingAndGlyphs">40</text>
<line x1="42.60" y1="644.08" x2="45.50" y2="644.08" stroke="#000" stroke-width="1.1" />
<text stroke="#000" stroke-width="0.42" stroke-linejoin="round" x="34.90" y="646.78" font-size="7.6" font-weight="bold" font-style="normal" fill="#000" textLength="7.82" lengthAdjust="spacingAndGlyphs">60</text>
<line x1="42.60" y1="626.24" x2="45.50" y2="626.24" stroke="#000" stroke-width="1.1" />
<text stroke="#000" stroke-width="0.42" stroke-linejoin="round" x="34.90" y="628.94" font-size="7.6" font-weight="bold" font-style="normal" fill="#000" textLength="7.82" lengthAdjust="spacingAndGlyphs">80</text>
<line x1="42.60" y1="608.40" x2="45.50" y2="608.40" stroke="#000" stroke-width="1.1" />
<text stroke="#000" stroke-width="0.42" stroke-linejoin="round" x="30.80" y="611.10" font-size="7.6" font-weight="bold" font-style="normal" fill="#000" textLength="11.89" lengthAdjust="spacingAndGlyphs">100</text>
<circle cx="52.48" cy="660.14" r="1.00" fill="#969696" />
<circle cx="52.58" cy="654.78" r="1.00" fill="#969696" />
<circle cx="49.77" cy="660.14" r="1.00" fill="#969696" />
<circle cx="55.34" cy="660.14" r="1.00" fill="#969696" />
<circle cx="52.31" cy="662.81" r="1.00" fill="#969696" />
<circle cx="55.02" cy="654.78" r="1.00" fill="#969696" />
<circle cx="57.68" cy="660.14" r="1.00" fill="#969696" />
<circle cx="52.56" cy="668.16" r="1.00" fill="#969696" />
<circle cx="54.98" cy="668.16" r="1.00" fill="#969696" />
<circle cx="52.57" cy="676.19" r="1.00" fill="#969696" />
<circle cx="52.69" cy="652.11" r="1.00" fill="#969696" />
<circle cx="52.65" cy="657.46" r="1.00" fill="#969696" />
<circle cx="52.56" cy="665.49" r="1.00" fill="#969696" />
<circle cx="47.19" cy="660.14" r="1.00" fill="#969696" />
<circle cx="49.80" cy="652.11" r="1.00" fill="#969696" />
<circle cx="52.66" cy="646.76" r="1.00" fill="#969696" />
<circle cx="55.04" cy="657.46" r="1.00" fill="#969696" />
<circle cx="49.87" cy="662.81" r="1.00" fill="#969696" />
<circle cx="55.23" cy="662.81" r="1.00" fill="#969696" />
<circle cx="52.33" cy="649.43" r="1.00" fill="#969696" />
<circle cx="49.83" cy="657.46" r="1.00" fill="#969696" />
<circle cx="52.44" cy="644.08" r="1.00" fill="#969696" />
<circle cx="55.32" cy="665.49" r="1.00" fill="#969696" />
<circle cx="55.17" cy="652.11" r="1.00" fill="#969696" />
<circle cx="49.66" cy="649.43" r="1.00" fill="#969696" />
<circle cx="55.24" cy="649.43" r="1.00" fill="#969696" />
<circle cx="49.98" cy="668.16" r="1.00" fill="#969696" />
<circle cx="57.50" cy="652.11" r="1.00" fill="#969696" />
<circle cx="52.32" cy="670.84" r="1.00" fill="#969696" />
<circle cx="55.22" cy="670.84" r="1.00" fill="#969696" />
<circle cx="49.91" cy="654.78" r="1.00" fill="#969696" />
<circle cx="47.15" cy="657.46" r="1.00" fill="#969696" />
<circle cx="57.75" cy="657.46" r="1.00" fill="#969696" />
<circle cx="57.90" cy="662.81" r="1.00" fill="#969696" />
<circle cx="47.48" cy="668.16" r="1.00" fill="#969696" />
<circle cx="57.94" cy="654.78" r="1.00" fill="#969696" />
<circle cx="57.77" cy="649.43" r="1.00" fill="#969696" />
<circle cx="54.94" cy="676.19" r="1.00" fill="#969696" />
<circle cx="46.53" cy="660.14" r="1.00" fill="#969696" />
<circle cx="51.97" cy="660.14" r="1.00" fill="#969696" />
<circle cx="47.06" cy="654.78" r="1.00" fill="#969696" />
<circle cx="52.38" cy="638.73" r="1.00" fill="#969696" />
<circle cx="53.37" cy="657.46" r="1.00" fill="#969696" />
<circle cx="47.35" cy="662.81" r="1.00" fill="#969696" />
<circle cx="52.42" cy="673.52" r="1.00" fill="#969696" />
<circle cx="49.96" cy="644.08" r="1.00" fill="#969696" />
<circle cx="57.35" cy="660.14" r="1.00" fill="#969696" />
<circle cx="55.29" cy="673.52" r="1.00" fill="#969696" />
<circle cx="47.38" cy="652.11" r="1.00" fill="#969696" />
<circle cx="50.98" cy="652.11" r="1.00" fill="#969696" />
<circle cx="52.43" cy="628.02" r="1.00" fill="#969696" />
<circle cx="49.93" cy="670.84" r="1.00" fill="#969696" />
<circle cx="57.21" cy="660.14" r="1.00" fill="#969696" />
<circle cx="51.50" cy="662.81" r="1.00" fill="#969696" />
<circle cx="49.91" cy="638.73" r="1.00" fill="#969696" />
<circle cx="56.72" cy="652.11" r="1.00" fill="#969696" />
<circle cx="56.22" cy="657.46" r="1.00" fill="#969696" />
<circle cx="50.61" cy="657.46" r="1.00" fill="#969696" />
<circle cx="53.06" cy="662.81" r="1.00" fill="#969696" />
<circle cx="55.25" cy="644.08" r="1.00" fill="#969696" />
<circle cx="56.13" cy="657.46" r="1.00" fill="#969696" />
<circle cx="46.75" cy="652.11" r="1.00" fill="#969696" />
<circle cx="50.01" cy="676.19" r="1.00" fill="#969696" />
<circle cx="52.95" cy="657.46" r="1.00" fill="#969696" />
<circle cx="55.22" cy="646.76" r="1.00" fill="#969696" />
<circle cx="55.20" cy="638.73" r="1.00" fill="#969696" />
<line x1="47.70" y1="657.46" x2="57.30" y2="657.46" stroke="#000" stroke-width="2.1" />
<line x1="52.50" y1="697.60" x2="52.50" y2="700.40" stroke="#000" stroke-width="1.1" />
<text stroke="#000" stroke-width="0.42" stroke-linejoin="round" transform="translate(53.80,706.10) rotate(-45)" x="-28.76" y="0" font-size="7.2" font-weight="bold" fill="#000" textLength="28.76" lengthAdjust="spacingAndGlyphs">all CD19+</text>
<circle cx="65.86" cy="670.84" r="1.00" fill="#969696" />
<circle cx="65.65" cy="649.43" r="1.00" fill="#969696" />
<circle cx="65.51" cy="660.14" r="1.00" fill="#969696" />
<circle cx="68.07" cy="670.84" r="1.00" fill="#969696" />
<circle cx="65.47" cy="646.76" r="1.00" fill="#969696" />
<circle cx="65.58" cy="644.08" r="1.00" fill="#969696" />
<circle cx="65.52" cy="654.78" r="1.00" fill="#969696" />
<circle cx="65.50" cy="652.11" r="1.00" fill="#969696" />
<circle cx="65.75" cy="662.81" r="1.00" fill="#969696" />
<circle cx="63.08" cy="652.11" r="1.00" fill="#969696" />
<circle cx="63.26" cy="654.78" r="1.00" fill="#969696" />
<circle cx="68.27" cy="654.78" r="1.00" fill="#969696" />
<circle cx="65.58" cy="681.54" r="1.00" fill="#969696" />
<circle cx="65.76" cy="657.46" r="1.00" fill="#969696" />
<circle cx="63.25" cy="646.76" r="1.00" fill="#969696" />
<circle cx="65.48" cy="673.52" r="1.00" fill="#969696" />
<circle cx="68.37" cy="646.76" r="1.00" fill="#969696" />
<circle cx="65.82" cy="665.49" r="1.00" fill="#969696" />
<circle cx="68.08" cy="652.11" r="1.00" fill="#969696" />
<circle cx="68.54" cy="662.81" r="1.00" fill="#969696" />
<circle cx="71.14" cy="646.76" r="1.00" fill="#969696" />
<circle cx="65.53" cy="628.02" r="1.00" fill="#969696" />
<circle cx="65.91" cy="668.16" r="1.00" fill="#969696" />
<circle cx="70.77" cy="652.11" r="1.00" fill="#969696" />
<circle cx="68.24" cy="668.16" r="1.00" fill="#969696" />
<circle cx="60.28" cy="652.11" r="1.00" fill="#969696" />
<circle cx="62.98" cy="662.81" r="1.00" fill="#969696" />
<circle cx="68.48" cy="657.46" r="1.00" fill="#969696" />
<circle cx="68.43" cy="644.08" r="1.00" fill="#969696" />
<circle cx="60.61" cy="654.78" r="1.00" fill="#969696" />
<circle cx="62.90" cy="657.46" r="1.00" fill="#969696" />
<circle cx="70.70" cy="654.78" r="1.00" fill="#969696" />
<circle cx="65.62" cy="622.67" r="1.00" fill="#969696" />
<circle cx="62.94" cy="660.14" r="1.00" fill="#969696" />
<circle cx="63.25" cy="670.84" r="1.00" fill="#969696" />
<circle cx="70.76" cy="670.84" r="1.00" fill="#969696" />
<circle cx="65.72" cy="638.73" r="1.00" fill="#969696" />
<circle cx="68.44" cy="665.49" r="1.00" fill="#969696" />
<circle cx="71.02" cy="657.46" r="1.00" fill="#969696" />
<circle cx="68.46" cy="649.43" r="1.00" fill="#969696" />
<circle cx="60.50" cy="657.46" r="1.00" fill="#969696" />
<circle cx="68.25" cy="652.11" r="1.00" fill="#969696" />
<circle cx="70.87" cy="654.78" r="1.00" fill="#969696" />
<circle cx="63.29" cy="673.52" r="1.00" fill="#969696" />
<circle cx="60.55" cy="646.76" r="1.00" fill="#969696" />
<circle cx="63.01" cy="665.49" r="1.00" fill="#969696" />
<circle cx="65.87" cy="641.40" r="1.00" fill="#969696" />
<circle cx="63.21" cy="668.16" r="1.00" fill="#969696" />
<circle cx="70.35" cy="657.46" r="1.00" fill="#969696" />
<circle cx="63.07" cy="644.08" r="1.00" fill="#969696" />
<circle cx="70.87" cy="662.81" r="1.00" fill="#969696" />
<circle cx="68.46" cy="660.14" r="1.00" fill="#969696" />
<circle cx="63.24" cy="641.40" r="1.00" fill="#969696" />
<circle cx="60.24" cy="657.46" r="1.00" fill="#969696" />
<circle cx="69.97" cy="652.11" r="1.00" fill="#969696" />
<circle cx="68.31" cy="673.52" r="1.00" fill="#969696" />
<circle cx="60.39" cy="660.14" r="1.00" fill="#969696" />
<circle cx="64.03" cy="654.78" r="1.00" fill="#969696" />
<circle cx="60.38" cy="662.81" r="1.00" fill="#969696" />
<circle cx="60.26" cy="654.78" r="1.00" fill="#969696" />
<circle cx="69.64" cy="657.46" r="1.00" fill="#969696" />
<circle cx="60.07" cy="652.11" r="1.00" fill="#969696" />
<circle cx="67.61" cy="652.11" r="1.00" fill="#969696" />
<circle cx="70.97" cy="673.52" r="1.00" fill="#969696" />
<circle cx="61.27" cy="652.11" r="1.00" fill="#969696" />
<line x1="60.90" y1="657.46" x2="70.50" y2="657.46" stroke="#000" stroke-width="2.1" />
<line x1="65.70" y1="697.60" x2="65.70" y2="700.40" stroke="#000" stroke-width="1.1" />
<text stroke="#000" stroke-width="0.42" stroke-linejoin="round" transform="translate(67.00,706.10) rotate(-45)" x="-27.17" y="0" font-size="7.2" font-weight="bold" fill="#000" textLength="27.17" lengthAdjust="spacingAndGlyphs">all CD19-</text>
<circle cx="87.77" cy="660.14" r="1.00" fill="#969696" />
<circle cx="88.15" cy="657.46" r="1.00" fill="#969696" />
<circle cx="90.48" cy="657.46" r="1.00" fill="#969696" />
<circle cx="90.37" cy="660.14" r="1.00" fill="#969696" />
<circle cx="88.08" cy="644.08" r="1.00" fill="#969696" />
<circle cx="88.08" cy="646.76" r="1.00" fill="#969696" />
<circle cx="87.94" cy="654.78" r="1.00" fill="#969696" />
<circle cx="85.59" cy="657.46" r="1.00" fill="#969696" />
<circle cx="87.81" cy="665.49" r="1.00" fill="#969696" />
<circle cx="85.59" cy="660.14" r="1.00" fill="#969696" />
<circle cx="93.15" cy="660.14" r="1.00" fill="#969696" />
<circle cx="87.79" cy="652.11" r="1.00" fill="#969696" />
<circle cx="85.44" cy="654.78" r="1.00" fill="#969696" />
<circle cx="88.18" cy="662.81" r="1.00" fill="#969696" />
<circle cx="82.92" cy="660.14" r="1.00" fill="#969696" />
<circle cx="90.73" cy="654.78" r="1.00" fill="#969696" />
<circle cx="87.97" cy="668.16" r="1.00" fill="#969696" />
<circle cx="83.03" cy="657.46" r="1.00" fill="#969696" />
<circle cx="87.87" cy="673.52" r="1.00" fill="#969696" />
<circle cx="85.57" cy="644.08" r="1.00" fill="#969696" />
<circle cx="90.73" cy="662.81" r="1.00" fill="#969696" />
<circle cx="83.02" cy="654.78" r="1.00" fill="#969696" />
<circle cx="85.18" cy="662.81" r="1.00" fill="#969696" />
<circle cx="85.43" cy="668.16" r="1.00" fill="#969696" />
<line x1="83.20" y1="660.14" x2="92.80" y2="660.14" stroke="#000" stroke-width="2.1" />
<line x1="88.00" y1="697.60" x2="88.00" y2="700.40" stroke="#000" stroke-width="1.1" />
<text stroke="#000" stroke-width="0.42" stroke-linejoin="round" transform="translate(89.30,706.10) rotate(-45)" x="-34.22" y="0" font-size="7.2" font-weight="bold" fill="#000" textLength="34.22" lengthAdjust="spacingAndGlyphs">IgG+CD19+</text>
<circle cx="100.92" cy="657.46" r="1.00" fill="#969696" />
<circle cx="100.62" cy="644.08" r="1.00" fill="#969696" />
<circle cx="100.79" cy="649.43" r="1.00" fill="#969696" />
<circle cx="101.04" cy="654.78" r="1.00" fill="#969696" />
<circle cx="98.34" cy="649.43" r="1.00" fill="#969696" />
<circle cx="100.57" cy="641.40" r="1.00" fill="#969696" />
<circle cx="103.31" cy="654.78" r="1.00" fill="#969696" />
<circle cx="100.91" cy="646.76" r="1.00" fill="#969696" />
<circle cx="100.88" cy="681.54" r="1.00" fill="#969696" />
<circle cx="103.52" cy="657.46" r="1.00" fill="#969696" />
<circle cx="98.41" cy="654.78" r="1.00" fill="#969696" />
<circle cx="100.88" cy="622.67" r="1.00" fill="#969696" />
<circle cx="105.82" cy="654.78" r="1.00" fill="#969696" />
<circle cx="95.54" cy="654.78" r="1.00" fill="#969696" />
<circle cx="100.91" cy="662.81" r="1.00" fill="#969696" />
<circle cx="100.57" cy="665.49" r="1.00" fill="#969696" />
<circle cx="98.22" cy="662.81" r="1.00" fill="#969696" />
<circle cx="101.03" cy="660.14" r="1.00" fill="#969696" />
<circle cx="100.58" cy="652.11" r="1.00" fill="#969696" />
<circle cx="103.53" cy="646.76" r="1.00" fill="#969696" />
<circle cx="103.38" cy="652.11" r="1.00" fill="#969696" />
<circle cx="100.39" cy="654.78" r="1.00" fill="#969696" />
<circle cx="96.69" cy="654.78" r="1.00" fill="#969696" />
<circle cx="103.52" cy="649.43" r="1.00" fill="#969696" />
<circle cx="103.58" cy="662.81" r="1.00" fill="#969696" />
<circle cx="98.57" cy="654.78" r="1.00" fill="#969696" />
<circle cx="98.24" cy="644.08" r="1.00" fill="#969696" />
<circle cx="98.19" cy="652.11" r="1.00" fill="#969696" />
<circle cx="97.98" cy="657.46" r="1.00" fill="#969696" />
<circle cx="105.80" cy="657.46" r="1.00" fill="#969696" />
<circle cx="106.17" cy="649.43" r="1.00" fill="#969696" />
<circle cx="105.78" cy="652.11" r="1.00" fill="#969696" />
<circle cx="103.45" cy="660.14" r="1.00" fill="#969696" />
<circle cx="95.55" cy="652.11" r="1.00" fill="#969696" />
<circle cx="96.09" cy="654.78" r="1.00" fill="#969696" />
<circle cx="105.99" cy="662.81" r="1.00" fill="#969696" />
<line x1="96.00" y1="657.46" x2="105.60" y2="657.46" stroke="#000" stroke-width="2.1" />
<line x1="100.80" y1="697.60" x2="100.80" y2="700.40" stroke="#000" stroke-width="1.1" />
<text stroke="#000" stroke-width="0.42" stroke-linejoin="round" transform="translate(102.10,706.10) rotate(-45)" x="-32.63" y="0" font-size="7.2" font-weight="bold" fill="#000" textLength="32.63" lengthAdjust="spacingAndGlyphs">IgG+CD19-</text>
<circle cx="123.34" cy="657.46" r="1.00" fill="#969696" />
<circle cx="123.53" cy="644.08" r="1.00" fill="#969696" />
<circle cx="123.73" cy="638.73" r="1.00" fill="#969696" />
<circle cx="123.33" cy="668.16" r="1.00" fill="#969696" />
<circle cx="123.29" cy="665.49" r="1.00" fill="#969696" />
<circle cx="123.74" cy="670.84" r="1.00" fill="#969696" />
<circle cx="123.35" cy="628.02" r="1.00" fill="#969696" />
<circle cx="120.88" cy="638.73" r="1.00" fill="#969696" />
<circle cx="126.18" cy="638.73" r="1.00" fill="#969696" />
<circle cx="123.44" cy="654.78" r="1.00" fill="#969696" />
<circle cx="123.75" cy="649.43" r="1.00" fill="#969696" />
<circle cx="123.53" cy="660.14" r="1.00" fill="#969696" />
<circle cx="120.68" cy="660.14" r="1.00" fill="#969696" />
<circle cx="123.26" cy="662.81" r="1.00" fill="#969696" />
<circle cx="125.94" cy="654.78" r="1.00" fill="#969696" />
<circle cx="128.68" cy="638.73" r="1.00" fill="#969696" />
<circle cx="126.14" cy="649.43" r="1.00" fill="#969696" />
<circle cx="126.04" cy="668.16" r="1.00" fill="#969696" />
<circle cx="125.99" cy="660.14" r="1.00" fill="#969696" />
<circle cx="120.95" cy="649.43" r="1.00" fill="#969696" />
<circle cx="120.77" cy="665.49" r="1.00" fill="#969696" />
<circle cx="121.10" cy="662.81" r="1.00" fill="#969696" />
<circle cx="123.35" cy="646.76" r="1.00" fill="#969696" />
<circle cx="123.46" cy="652.11" r="1.00" fill="#969696" />
<circle cx="128.59" cy="660.14" r="1.00" fill="#969696" />
<circle cx="126.17" cy="646.76" r="1.00" fill="#969696" />
<circle cx="118.22" cy="649.43" r="1.00" fill="#969696" />
<circle cx="118.49" cy="660.14" r="1.00" fill="#969696" />
<circle cx="121.11" cy="646.76" r="1.00" fill="#969696" />
<circle cx="126.27" cy="665.49" r="1.00" fill="#969696" />
<circle cx="120.72" cy="654.78" r="1.00" fill="#969696" />
<circle cx="126.23" cy="662.81" r="1.00" fill="#969696" />
<circle cx="118.25" cy="638.73" r="1.00" fill="#969696" />
<circle cx="126.07" cy="652.11" r="1.00" fill="#969696" />
<circle cx="128.79" cy="654.78" r="1.00" fill="#969696" />
<circle cx="120.84" cy="670.84" r="1.00" fill="#969696" />
<circle cx="128.66" cy="665.49" r="1.00" fill="#969696" />
<circle cx="118.40" cy="665.49" r="1.00" fill="#969696" />
<line x1="118.70" y1="654.78" x2="128.30" y2="654.78" stroke="#000" stroke-width="2.1" />
<line x1="123.50" y1="697.60" x2="123.50" y2="700.40" stroke="#000" stroke-width="1.1" />
<text stroke="#000" stroke-width="0.42" stroke-linejoin="round" transform="translate(124.80,706.10) rotate(-45)" x="-33.87" y="0" font-size="7.2" font-weight="bold" fill="#000" textLength="33.87" lengthAdjust="spacingAndGlyphs">IgA+CD19+</text>
<circle cx="136.27" cy="657.46" r="1.00" fill="#969696" />
<circle cx="136.16" cy="660.14" r="1.00" fill="#969696" />
<circle cx="136.42" cy="644.08" r="1.00" fill="#969696" />
<circle cx="139.11" cy="657.46" r="1.00" fill="#969696" />
<circle cx="136.45" cy="662.81" r="1.00" fill="#969696" />
<circle cx="136.50" cy="654.78" r="1.00" fill="#969696" />
<circle cx="136.31" cy="665.49" r="1.00" fill="#969696" />
<circle cx="139.04" cy="644.08" r="1.00" fill="#969696" />
<circle cx="136.39" cy="649.43" r="1.00" fill="#969696" />
<circle cx="136.41" cy="673.52" r="1.00" fill="#969696" />
<circle cx="133.75" cy="657.46" r="1.00" fill="#969696" />
<circle cx="136.27" cy="670.84" r="1.00" fill="#969696" />
<circle cx="138.81" cy="665.49" r="1.00" fill="#969696" />
<circle cx="136.35" cy="652.11" r="1.00" fill="#969696" />
<circle cx="136.61" cy="628.02" r="1.00" fill="#969696" />
<circle cx="139.03" cy="660.14" r="1.00" fill="#969696" />
<circle cx="133.87" cy="665.49" r="1.00" fill="#969696" />
<circle cx="139.07" cy="654.78" r="1.00" fill="#969696" />
<circle cx="133.72" cy="649.43" r="1.00" fill="#969696" />
<circle cx="139.23" cy="662.81" r="1.00" fill="#969696" />
<circle cx="141.78" cy="657.46" r="1.00" fill="#969696" />
<circle cx="133.78" cy="654.78" r="1.00" fill="#969696" />
<circle cx="133.81" cy="644.08" r="1.00" fill="#969696" />
<line x1="131.60" y1="657.46" x2="141.20" y2="657.46" stroke="#000" stroke-width="2.1" />
<line x1="136.40" y1="697.60" x2="136.40" y2="700.40" stroke="#000" stroke-width="1.1" />
<text stroke="#000" stroke-width="0.42" stroke-linejoin="round" transform="translate(137.70,706.10) rotate(-45)" x="-32.28" y="0" font-size="7.2" font-weight="bold" fill="#000" textLength="32.28" lengthAdjust="spacingAndGlyphs">IgA+CD19-</text>
<circle cx="158.74" cy="649.43" r="1.00" fill="#969696" />
<circle cx="158.57" cy="660.14" r="1.00" fill="#969696" />
<circle cx="161.50" cy="660.14" r="1.00" fill="#969696" />
<circle cx="158.51" cy="652.11" r="1.00" fill="#969696" />
<circle cx="155.96" cy="652.11" r="1.00" fill="#969696" />
<circle cx="158.74" cy="662.81" r="1.00" fill="#969696" />
<circle cx="158.94" cy="657.46" r="1.00" fill="#969696" />
<circle cx="156.00" cy="657.46" r="1.00" fill="#969696" />
<circle cx="161.41" cy="657.46" r="1.00" fill="#969696" />
<circle cx="155.87" cy="660.14" r="1.00" fill="#969696" />
<circle cx="158.74" cy="654.78" r="1.00" fill="#969696" />
<circle cx="158.95" cy="670.84" r="1.00" fill="#969696" />
<circle cx="161.35" cy="652.11" r="1.00" fill="#969696" />
<circle cx="161.27" cy="649.43" r="1.00" fill="#969696" />
<circle cx="158.67" cy="644.08" r="1.00" fill="#969696" />
<circle cx="161.55" cy="662.81" r="1.00" fill="#969696" />
<circle cx="164.11" cy="652.11" r="1.00" fill="#969696" />
<circle cx="158.55" cy="636.05" r="1.00" fill="#969696" />
<circle cx="161.50" cy="670.84" r="1.00" fill="#969696" />
<circle cx="156.22" cy="670.84" r="1.00" fill="#969696" />
<circle cx="158.55" cy="668.16" r="1.00" fill="#969696" />
<circle cx="156.07" cy="662.81" r="1.00" fill="#969696" />
<circle cx="156.35" cy="649.43" r="1.00" fill="#969696" />
<circle cx="153.65" cy="662.81" r="1.00" fill="#969696" />
<circle cx="164.13" cy="662.81" r="1.00" fill="#969696" />
<circle cx="163.83" cy="660.14" r="1.00" fill="#969696" />
<circle cx="154.92" cy="662.81" r="1.00" fill="#969696" />
<circle cx="153.48" cy="652.11" r="1.00" fill="#969696" />
<circle cx="153.75" cy="660.14" r="1.00" fill="#969696" />
<circle cx="161.41" cy="654.78" r="1.00" fill="#969696" />
<circle cx="155.93" cy="654.78" r="1.00" fill="#969696" />
<circle cx="163.53" cy="652.11" r="1.00" fill="#969696" />
<circle cx="160.20" cy="652.11" r="1.00" fill="#969696" />
<circle cx="153.49" cy="654.78" r="1.00" fill="#969696" />
<circle cx="164.04" cy="657.46" r="1.00" fill="#969696" />
<circle cx="153.27" cy="657.46" r="1.00" fill="#969696" />
<circle cx="161.18" cy="668.16" r="1.00" fill="#969696" />
<circle cx="157.05" cy="660.14" r="1.00" fill="#969696" />
<circle cx="161.93" cy="660.14" r="1.00" fill="#969696" />
<circle cx="155.17" cy="660.14" r="1.00" fill="#969696" />
<circle cx="153.68" cy="660.14" r="1.00" fill="#969696" />
<circle cx="163.61" cy="662.81" r="1.00" fill="#969696" />
<circle cx="159.98" cy="660.14" r="1.00" fill="#969696" />
<circle cx="156.68" cy="660.14" r="1.00" fill="#969696" />
<circle cx="158.69" cy="665.49" r="1.00" fill="#969696" />
<circle cx="153.30" cy="652.11" r="1.00" fill="#969696" />
<line x1="153.90" y1="657.46" x2="163.50" y2="657.46" stroke="#000" stroke-width="2.1" />
<line x1="158.70" y1="697.60" x2="158.70" y2="700.40" stroke="#000" stroke-width="1.1" />
<text stroke="#000" stroke-width="0.42" stroke-linejoin="round" transform="translate(160.00,706.10) rotate(-45)" x="-56.08" y="0" font-size="7.2" font-weight="bold" fill="#000" textLength="56.08" lengthAdjust="spacingAndGlyphs">Blood TT+IgG+ PB</text>
<line x1="48.00" y1="638.73" x2="57.00" y2="638.73" stroke="#8a8a8a" stroke-width="1.9" />
<line x1="119.00" y1="638.73" x2="128.00" y2="638.73" stroke="#8a8a8a" stroke-width="1.9" />
<line x1="154.20" y1="670.84" x2="163.20" y2="670.84" stroke="#8a8a8a" stroke-width="1.9" />
<text stroke="#000" stroke-width="0.42" stroke-linejoin="round" transform="translate(21.60,683.50) rotate(-90)" x="0" y="0" font-size="7.2" font-weight="bold" font-style="normal" fill="#000" textLength="59.31" lengthAdjust="spacingAndGlyphs">[CDR3 length] bp</text>
<text stroke="#000" stroke-width="0.42" stroke-linejoin="round" x="76.00" y="611.50" font-size="8" font-weight="bold" font-style="normal" fill="#000" textLength="52.09" lengthAdjust="spacingAndGlyphs">not significant</text>
<line x1="215.20" y1="608.30" x2="215.20" y2="698.40" stroke="#000" stroke-width="1.3" />
<line x1="214.60" y1="697.80" x2="335.20" y2="697.80" stroke="#000" stroke-width="1.3" />
<line x1="212.30" y1="697.80" x2="215.20" y2="697.80" stroke="#000" stroke-width="1.1" />
<text stroke="#000" stroke-width="0.42" stroke-linejoin="round" x="208.70" y="700.50" font-size="7.6" font-weight="bold" font-style="normal" fill="#000" textLength="3.71" lengthAdjust="spacingAndGlyphs">0</text>
<line x1="212.30" y1="653.05" x2="215.20" y2="653.05" stroke="#000" stroke-width="1.1" />
<text stroke="#000" stroke-width="0.42" stroke-linejoin="round" x="204.60" y="655.75" font-size="7.6" font-weight="bold" font-style="normal" fill="#000" textLength="7.82" lengthAdjust="spacingAndGlyphs">50</text>
<line x1="212.30" y1="608.30" x2="215.20" y2="608.30" stroke="#000" stroke-width="1.1" />
<text stroke="#000" stroke-width="0.42" stroke-linejoin="round" x="200.50" y="611.00" font-size="7.6" font-weight="bold" font-style="normal" fill="#000" textLength="11.89" lengthAdjust="spacingAndGlyphs">100</text>
<circle cx="222.45" cy="661.42" r="1.00" fill="#969696" />
<circle cx="222.27" cy="671.96" r="1.00" fill="#969696" />
<circle cx="222.09" cy="645.47" r="1.00" fill="#969696" />
<circle cx="221.99" cy="656.92" r="1.00" fill="#969696" />
<circle cx="224.56" cy="662.61" r="1.00" fill="#969696" />
<circle cx="222.16" cy="654.49" r="1.00" fill="#969696" />
<circle cx="221.96" cy="642.49" r="1.00" fill="#969696" />
<circle cx="221.99" cy="632.12" r="1.00" fill="#969696" />
<circle cx="222.40" cy="668.27" r="1.00" fill="#969696" />
<circle cx="222.02" cy="628.21" r="1.00" fill="#969696" />
<circle cx="222.39" cy="649.57" r="1.00" fill="#969696" />
<circle cx="224.69" cy="629.53" r="1.00" fill="#969696" />
<circle cx="222.22" cy="677.35" r="1.00" fill="#969696" />
<circle cx="222.28" cy="636.33" r="1.00" fill="#969696" />
<circle cx="224.75" cy="643.88" r="1.00" fill="#969696" />
<circle cx="219.66" cy="649.97" r="1.00" fill="#969696" />
<circle cx="219.78" cy="654.49" r="1.00" fill="#969696" />
<circle cx="222.05" cy="664.75" r="1.00" fill="#969696" />
<circle cx="224.59" cy="646.35" r="1.00" fill="#969696" />
<circle cx="225.04" cy="655.09" r="1.00" fill="#969696" />
<circle cx="222.00" cy="651.90" r="1.00" fill="#969696" />
<circle cx="224.78" cy="649.85" r="1.00" fill="#969696" />
<circle cx="227.50" cy="653.09" r="1.00" fill="#969696" />
<circle cx="216.98" cy="653.95" r="1.00" fill="#969696" />
<circle cx="226.11" cy="653.50" r="1.00" fill="#969696" />
<circle cx="219.70" cy="640.46" r="1.00" fill="#969696" />
<circle cx="219.66" cy="644.84" r="1.00" fill="#969696" />
<circle cx="221.99" cy="608.30" r="1.00" fill="#969696" />
<circle cx="219.44" cy="660.20" r="1.00" fill="#969696" />
<circle cx="222.18" cy="624.13" r="1.00" fill="#969696" />
<circle cx="224.84" cy="635.91" r="1.00" fill="#969696" />
<circle cx="227.47" cy="648.02" r="1.00" fill="#969696" />
<circle cx="219.40" cy="652.22" r="1.00" fill="#969696" />
<circle cx="224.67" cy="658.64" r="1.00" fill="#969696" />
<circle cx="219.66" cy="636.96" r="1.00" fill="#969696" />
<circle cx="226.53" cy="652.92" r="1.00" fill="#969696" />
<circle cx="227.34" cy="635.10" r="1.00" fill="#969696" />
<circle cx="219.65" cy="633.24" r="1.00" fill="#969696" />
<circle cx="218.73" cy="655.13" r="1.00" fill="#969696" />
<circle cx="224.91" cy="668.98" r="1.00" fill="#969696" />
<circle cx="227.43" cy="660.23" r="1.00" fill="#969696" />
<circle cx="219.42" cy="675.25" r="1.00" fill="#969696" />
<circle cx="217.13" cy="660.73" r="1.00" fill="#969696" />
<circle cx="219.67" cy="670.67" r="1.00" fill="#969696" />
<circle cx="224.86" cy="672.24" r="1.00" fill="#969696" />
<circle cx="224.77" cy="664.82" r="1.00" fill="#969696" />
<circle cx="227.59" cy="657.16" r="1.00" fill="#969696" />
<circle cx="219.42" cy="664.78" r="1.00" fill="#969696" />
<circle cx="218.93" cy="662.10" r="1.00" fill="#969696" />
<circle cx="216.90" cy="664.50" r="1.00" fill="#969696" />
<circle cx="216.83" cy="651.67" r="1.00" fill="#969696" />
<circle cx="227.18" cy="643.11" r="1.00" fill="#969696" />
<circle cx="227.50" cy="665.75" r="1.00" fill="#969696" />
<circle cx="224.77" cy="638.52" r="1.00" fill="#969696" />
<circle cx="216.91" cy="648.62" r="1.00" fill="#969696" />
<circle cx="216.80" cy="645.75" r="1.00" fill="#969696" />
<circle cx="227.57" cy="650.32" r="1.00" fill="#969696" />
<circle cx="224.50" cy="658.75" r="1.00" fill="#969696" />
<circle cx="216.97" cy="643.45" r="1.00" fill="#969696" />
<circle cx="219.07" cy="653.32" r="1.00" fill="#969696" />
<circle cx="222.32" cy="639.70" r="1.00" fill="#969696" />
<circle cx="227.48" cy="638.13" r="1.00" fill="#969696" />
<circle cx="223.27" cy="654.75" r="1.00" fill="#969696" />
<circle cx="221.54" cy="661.46" r="1.00" fill="#969696" />
<circle cx="216.32" cy="650.61" r="1.00" fill="#969696" />
<circle cx="226.51" cy="654.22" r="1.00" fill="#969696" />
<circle cx="219.40" cy="647.08" r="1.00" fill="#969696" />
<circle cx="222.44" cy="687.06" r="1.00" fill="#969696" />
<circle cx="217.00" cy="635.98" r="1.00" fill="#969696" />
<circle cx="222.35" cy="674.67" r="1.00" fill="#969696" />
<circle cx="222.03" cy="682.89" r="1.00" fill="#969696" />
<circle cx="220.58" cy="634.87" r="1.00" fill="#969696" />
<circle cx="216.81" cy="674.16" r="1.00" fill="#969696" />
<circle cx="219.33" cy="645.21" r="1.00" fill="#969696" />
<circle cx="224.56" cy="665.35" r="1.00" fill="#969696" />
<circle cx="216.33" cy="661.30" r="1.00" fill="#969696" />
<circle cx="225.37" cy="660.42" r="1.00" fill="#969696" />
<circle cx="224.77" cy="640.87" r="1.00" fill="#969696" />
<circle cx="227.46" cy="668.95" r="1.00" fill="#969696" />
<circle cx="219.36" cy="653.65" r="1.00" fill="#969696" />
<circle cx="216.99" cy="638.94" r="1.00" fill="#969696" />
<circle cx="220.98" cy="664.05" r="1.00" fill="#969696" />
<circle cx="219.47" cy="653.88" r="1.00" fill="#969696" />
<circle cx="224.00" cy="652.26" r="1.00" fill="#969696" />
<circle cx="224.73" cy="676.57" r="1.00" fill="#969696" />
<circle cx="216.85" cy="644.84" r="1.00" fill="#969696" />
<circle cx="218.88" cy="657.30" r="1.00" fill="#969696" />
<circle cx="227.53" cy="641.34" r="1.00" fill="#969696" />
<circle cx="222.92" cy="648.47" r="1.00" fill="#969696" />
<circle cx="219.72" cy="668.20" r="1.00" fill="#969696" />
<circle cx="219.36" cy="637.30" r="1.00" fill="#969696" />
<line x1="217.40" y1="653.05" x2="227.00" y2="653.05" stroke="#000" stroke-width="2.1" />
<line x1="222.20" y1="697.80" x2="222.20" y2="700.60" stroke="#000" stroke-width="1.1" />
<text stroke="#000" stroke-width="0.42" stroke-linejoin="round" transform="translate(223.50,706.30) rotate(-45)" x="-28.76" y="0" font-size="7.2" font-weight="bold" fill="#000" textLength="28.76" lengthAdjust="spacingAndGlyphs">all CD19+</text>
<circle cx="235.38" cy="644.26" r="1.00" fill="#969696" />
<circle cx="235.54" cy="667.69" r="1.00" fill="#969696" />
<circle cx="235.29" cy="658.39" r="1.00" fill="#969696" />
<circle cx="235.43" cy="675.38" r="1.00" fill="#969696" />
<circle cx="235.63" cy="671.26" r="1.00" fill="#969696" />
<circle cx="232.90" cy="657.76" r="1.00" fill="#969696" />
<circle cx="235.54" cy="684.38" r="1.00" fill="#969696" />
<circle cx="235.34" cy="627.99" r="1.00" fill="#969696" />
<circle cx="238.11" cy="644.85" r="1.00" fill="#969696" />
<circle cx="235.50" cy="650.69" r="1.00" fill="#969696" />
<circle cx="232.79" cy="645.84" r="1.00" fill="#969696" />
<circle cx="235.38" cy="638.23" r="1.00" fill="#969696" />
<circle cx="237.99" cy="666.82" r="1.00" fill="#969696" />
<circle cx="232.76" cy="636.38" r="1.00" fill="#969696" />
<circle cx="235.40" cy="661.58" r="1.00" fill="#969696" />
<circle cx="235.46" cy="655.32" r="1.00" fill="#969696" />
<circle cx="235.23" cy="630.51" r="1.00" fill="#969696" />
<circle cx="235.15" cy="646.97" r="1.00" fill="#969696" />
<circle cx="238.12" cy="659.84" r="1.00" fill="#969696" />
<circle cx="232.74" cy="629.95" r="1.00" fill="#969696" />
<circle cx="235.15" cy="633.50" r="1.00" fill="#969696" />
<circle cx="238.18" cy="636.44" r="1.00" fill="#969696" />
<circle cx="235.15" cy="664.39" r="1.00" fill="#969696" />
<circle cx="238.00" cy="654.20" r="1.00" fill="#969696" />
<circle cx="232.69" cy="650.21" r="1.00" fill="#969696" />
<circle cx="237.79" cy="650.09" r="1.00" fill="#969696" />
<circle cx="235.41" cy="620.19" r="1.00" fill="#969696" />
<circle cx="232.79" cy="666.11" r="1.00" fill="#969696" />
<circle cx="230.01" cy="645.02" r="1.00" fill="#969696" />
<circle cx="232.70" cy="642.96" r="1.00" fill="#969696" />
<circle cx="232.66" cy="676.68" r="1.00" fill="#969696" />
<circle cx="232.92" cy="661.79" r="1.00" fill="#969696" />
<circle cx="237.83" cy="657.59" r="1.00" fill="#969696" />
<circle cx="240.76" cy="667.01" r="1.00" fill="#969696" />
<circle cx="240.75" cy="660.23" r="1.00" fill="#969696" />
<circle cx="240.55" cy="648.94" r="1.00" fill="#969696" />
<circle cx="237.97" cy="640.25" r="1.00" fill="#969696" />
<circle cx="237.86" cy="647.13" r="1.00" fill="#969696" />
<circle cx="230.44" cy="657.42" r="1.00" fill="#969696" />
<circle cx="232.59" cy="653.70" r="1.00" fill="#969696" />
<circle cx="229.98" cy="648.21" r="1.00" fill="#969696" />
<circle cx="240.61" cy="643.32" r="1.00" fill="#969696" />
<circle cx="240.60" cy="654.80" r="1.00" fill="#969696" />
<circle cx="237.95" cy="670.36" r="1.00" fill="#969696" />
<circle cx="235.79" cy="658.97" r="1.00" fill="#969696" />
<circle cx="232.91" cy="668.74" r="1.00" fill="#969696" />
<circle cx="235.04" cy="658.76" r="1.00" fill="#969696" />
<circle cx="232.89" cy="634.04" r="1.00" fill="#969696" />
<circle cx="240.47" cy="645.80" r="1.00" fill="#969696" />
<circle cx="235.82" cy="645.34" r="1.00" fill="#969696" />
<circle cx="240.80" cy="636.42" r="1.00" fill="#969696" />
<circle cx="235.19" cy="641.23" r="1.00" fill="#969696" />
<circle cx="230.12" cy="641.56" r="1.00" fill="#969696" />
<circle cx="230.42" cy="669.30" r="1.00" fill="#969696" />
<circle cx="229.95" cy="666.29" r="1.00" fill="#969696" />
<circle cx="236.42" cy="642.22" r="1.00" fill="#969696" />
<circle cx="230.23" cy="651.26" r="1.00" fill="#969696" />
<circle cx="230.32" cy="634.70" r="1.00" fill="#969696" />
<circle cx="237.32" cy="644.46" r="1.00" fill="#969696" />
<circle cx="240.59" cy="651.20" r="1.00" fill="#969696" />
<circle cx="232.91" cy="639.43" r="1.00" fill="#969696" />
<circle cx="240.68" cy="669.43" r="1.00" fill="#969696" />
<circle cx="238.67" cy="669.42" r="1.00" fill="#969696" />
<circle cx="231.39" cy="647.74" r="1.00" fill="#969696" />
<circle cx="236.78" cy="658.32" r="1.00" fill="#969696" />
<circle cx="235.61" cy="649.64" r="1.00" fill="#969696" />
<circle cx="237.69" cy="666.64" r="1.00" fill="#969696" />
<circle cx="232.66" cy="658.75" r="1.00" fill="#969696" />
<circle cx="229.99" cy="653.63" r="1.00" fill="#969696" />
<circle cx="233.54" cy="645.19" r="1.00" fill="#969696" />
<circle cx="232.36" cy="651.14" r="1.00" fill="#969696" />
<circle cx="239.50" cy="654.46" r="1.00" fill="#969696" />
<circle cx="237.99" cy="663.39" r="1.00" fill="#969696" />
<circle cx="239.15" cy="636.84" r="1.00" fill="#969696" />
<circle cx="229.74" cy="649.45" r="1.00" fill="#969696" />
<circle cx="230.36" cy="662.40" r="1.00" fill="#969696" />
<circle cx="231.45" cy="647.79" r="1.00" fill="#969696" />
<circle cx="240.72" cy="664.76" r="1.00" fill="#969696" />
<circle cx="232.96" cy="648.71" r="1.00" fill="#969696" />
<circle cx="240.16" cy="660.60" r="1.00" fill="#969696" />
<circle cx="240.69" cy="640.03" r="1.00" fill="#969696" />
<circle cx="236.78" cy="649.59" r="1.00" fill="#969696" />
<circle cx="238.16" cy="651.18" r="1.00" fill="#969696" />
<circle cx="234.64" cy="644.79" r="1.00" fill="#969696" />
<circle cx="238.46" cy="649.69" r="1.00" fill="#969696" />
<circle cx="230.11" cy="660.03" r="1.00" fill="#969696" />
<line x1="230.60" y1="653.05" x2="240.20" y2="653.05" stroke="#000" stroke-width="2.1" />
<line x1="235.40" y1="697.80" x2="235.40" y2="700.60" stroke="#000" stroke-width="1.1" />
<text stroke="#000" stroke-width="0.42" stroke-linejoin="round" transform="translate(236.70,706.30) rotate(-45)" x="-27.17" y="0" font-size="7.2" font-weight="bold" fill="#000" textLength="27.17" lengthAdjust="spacingAndGlyphs">all CD19-</text>
<circle cx="257.71" cy="663.10" r="1.00" fill="#969696" />
<circle cx="257.80" cy="669.80" r="1.00" fill="#969696" />
<circle cx="257.82" cy="657.96" r="1.00" fill="#969696" />
<circle cx="257.93" cy="655.53" r="1.00" fill="#969696" />
<circle cx="260.22" cy="664.92" r="1.00" fill="#969696" />
<circle cx="254.99" cy="658.71" r="1.00" fill="#969696" />
<circle cx="257.82" cy="666.65" r="1.00" fill="#969696" />
<circle cx="257.60" cy="675.91" r="1.00" fill="#969696" />
<circle cx="260.22" cy="654.89" r="1.00" fill="#969696" />
<circle cx="254.97" cy="654.96" r="1.00" fill="#969696" />
<circle cx="257.76" cy="684.06" r="1.00" fill="#969696" />
<circle cx="255.01" cy="665.02" r="1.00" fill="#969696" />
<circle cx="262.68" cy="663.16" r="1.00" fill="#969696" />
<circle cx="257.82" cy="624.14" r="1.00" fill="#969696" />
<circle cx="257.65" cy="638.77" r="1.00" fill="#969696" />
<circle cx="255.05" cy="640.07" r="1.00" fill="#969696" />
<circle cx="262.96" cy="656.65" r="1.00" fill="#969696" />
<circle cx="260.18" cy="659.77" r="1.00" fill="#969696" />
<circle cx="260.21" cy="623.51" r="1.00" fill="#969696" />
<circle cx="252.56" cy="656.71" r="1.00" fill="#969696" />
<circle cx="257.90" cy="641.60" r="1.00" fill="#969696" />
<circle cx="255.33" cy="625.01" r="1.00" fill="#969696" />
<circle cx="255.15" cy="674.86" r="1.00" fill="#969696" />
<circle cx="263.85" cy="655.30" r="1.00" fill="#969696" />
<circle cx="257.50" cy="644.25" r="1.00" fill="#969696" />
<circle cx="260.41" cy="645.09" r="1.00" fill="#969696" />
<circle cx="257.93" cy="660.38" r="1.00" fill="#969696" />
<circle cx="260.46" cy="641.65" r="1.00" fill="#969696" />
<circle cx="255.36" cy="658.71" r="1.00" fill="#969696" />
<circle cx="257.54" cy="687.06" r="1.00" fill="#969696" />
<circle cx="263.20" cy="655.82" r="1.00" fill="#969696" />
<circle cx="257.59" cy="652.65" r="1.00" fill="#969696" />
<line x1="252.90" y1="655.56" x2="262.50" y2="655.56" stroke="#000" stroke-width="2.1" />
<line x1="257.70" y1="697.80" x2="257.70" y2="700.60" stroke="#000" stroke-width="1.1" />
<text stroke="#000" stroke-width="0.42" stroke-linejoin="round" transform="translate(259.00,706.30) rotate(-45)" x="-34.22" y="0" font-size="7.2" font-weight="bold" fill="#000" textLength="34.22" lengthAdjust="spacingAndGlyphs">IgG+CD19+</text>
<circle cx="270.46" cy="640.79" r="1.00" fill="#969696" />
<circle cx="270.30" cy="655.43" r="1.00" fill="#969696" />
<circle cx="270.47" cy="652.49" r="1.00" fill="#969696" />
<circle cx="267.86" cy="641.82" r="1.00" fill="#969696" />
<circle cx="270.63" cy="637.07" r="1.00" fill="#969696" />
<circle cx="270.65" cy="648.44" r="1.00" fill="#969696" />
<circle cx="272.88" cy="649.09" r="1.00" fill="#969696" />
<circle cx="273.26" cy="636.51" r="1.00" fill="#969696" />
<circle cx="268.05" cy="636.57" r="1.00" fill="#969696" />
<circle cx="275.62" cy="636.57" r="1.00" fill="#969696" />
<circle cx="273.30" cy="655.30" r="1.00" fill="#969696" />
<circle cx="267.81" cy="646.96" r="1.00" fill="#969696" />
<circle cx="275.66" cy="647.63" r="1.00" fill="#969696" />
<circle cx="273.04" cy="639.90" r="1.00" fill="#969696" />
<circle cx="270.42" cy="658.85" r="1.00" fill="#969696" />
<circle cx="268.00" cy="653.00" r="1.00" fill="#969696" />
<circle cx="268.03" cy="659.74" r="1.00" fill="#969696" />
<circle cx="272.86" cy="652.25" r="1.00" fill="#969696" />
<circle cx="273.30" cy="660.42" r="1.00" fill="#969696" />
<circle cx="265.40" cy="635.83" r="1.00" fill="#969696" />
<circle cx="270.62" cy="626.82" r="1.00" fill="#969696" />
<circle cx="267.96" cy="655.65" r="1.00" fill="#969696" />
<circle cx="270.41" cy="645.58" r="1.00" fill="#969696" />
<circle cx="268.08" cy="650.06" r="1.00" fill="#969696" />
<circle cx="265.14" cy="656.02" r="1.00" fill="#969696" />
<circle cx="272.97" cy="646.40" r="1.00" fill="#969696" />
<circle cx="272.94" cy="657.98" r="1.00" fill="#969696" />
<circle cx="273.01" cy="642.41" r="1.00" fill="#969696" />
<circle cx="265.30" cy="652.69" r="1.00" fill="#969696" />
<circle cx="275.94" cy="653.68" r="1.00" fill="#969696" />
<circle cx="275.77" cy="657.99" r="1.00" fill="#969696" />
<circle cx="266.09" cy="635.31" r="1.00" fill="#969696" />
<circle cx="265.07" cy="647.91" r="1.00" fill="#969696" />
<circle cx="270.65" cy="634.53" r="1.00" fill="#969696" />
<circle cx="267.73" cy="652.73" r="1.00" fill="#969696" />
<circle cx="270.12" cy="649.21" r="1.00" fill="#969696" />
<circle cx="265.34" cy="652.29" r="1.00" fill="#969696" />
<circle cx="275.94" cy="643.70" r="1.00" fill="#969696" />
<line x1="265.70" y1="648.04" x2="275.30" y2="648.04" stroke="#000" stroke-width="2.1" />
<line x1="270.50" y1="697.80" x2="270.50" y2="700.60" stroke="#000" stroke-width="1.1" />
<text stroke="#000" stroke-width="0.42" stroke-linejoin="round" transform="translate(271.80,706.30) rotate(-45)" x="-32.63" y="0" font-size="7.2" font-weight="bold" fill="#000" textLength="32.63" lengthAdjust="spacingAndGlyphs">IgG+CD19-</text>
<circle cx="293.12" cy="663.45" r="1.00" fill="#969696" />
<circle cx="293.01" cy="637.38" r="1.00" fill="#969696" />
<circle cx="293.01" cy="648.34" r="1.00" fill="#969696" />
<circle cx="290.43" cy="648.80" r="1.00" fill="#969696" />
<circle cx="293.35" cy="667.00" r="1.00" fill="#969696" />
<circle cx="293.40" cy="656.74" r="1.00" fill="#969696" />
<circle cx="290.83" cy="638.55" r="1.00" fill="#969696" />
<circle cx="290.43" cy="664.80" r="1.00" fill="#969696" />
<circle cx="293.16" cy="623.11" r="1.00" fill="#969696" />
<circle cx="290.48" cy="661.94" r="1.00" fill="#969696" />
<circle cx="292.95" cy="653.39" r="1.00" fill="#969696" />
<circle cx="295.75" cy="648.74" r="1.00" fill="#969696" />
<circle cx="296.02" cy="636.76" r="1.00" fill="#969696" />
<circle cx="295.88" cy="653.14" r="1.00" fill="#969696" />
<circle cx="293.12" cy="642.66" r="1.00" fill="#969696" />
<circle cx="290.67" cy="667.54" r="1.00" fill="#969696" />
<circle cx="293.17" cy="673.72" r="1.00" fill="#969696" />
<circle cx="293.21" cy="660.89" r="1.00" fill="#969696" />
<circle cx="295.63" cy="673.76" r="1.00" fill="#969696" />
<circle cx="295.91" cy="667.73" r="1.00" fill="#969696" />
<circle cx="288.12" cy="646.87" r="1.00" fill="#969696" />
<circle cx="290.40" cy="643.57" r="1.00" fill="#969696" />
<circle cx="293.24" cy="650.66" r="1.00" fill="#969696" />
<circle cx="295.55" cy="660.13" r="1.00" fill="#969696" />
<circle cx="290.77" cy="656.96" r="1.00" fill="#969696" />
<circle cx="290.85" cy="652.06" r="1.00" fill="#969696" />
<circle cx="293.16" cy="629.95" r="1.00" fill="#969696" />
<circle cx="293.20" cy="677.37" r="1.00" fill="#969696" />
<circle cx="293.03" cy="608.30" r="1.00" fill="#969696" />
<circle cx="295.88" cy="641.60" r="1.00" fill="#969696" />
<circle cx="290.66" cy="672.21" r="1.00" fill="#969696" />
<circle cx="298.32" cy="647.89" r="1.00" fill="#969696" />
<circle cx="291.05" cy="647.55" r="1.00" fill="#969696" />
<circle cx="294.39" cy="647.19" r="1.00" fill="#969696" />
<circle cx="298.48" cy="659.05" r="1.00" fill="#969696" />
<circle cx="288.11" cy="642.91" r="1.00" fill="#969696" />
<circle cx="293.20" cy="671.52" r="1.00" fill="#969696" />
<circle cx="288.00" cy="650.70" r="1.00" fill="#969696" />
<circle cx="295.78" cy="657.20" r="1.00" fill="#969696" />
<circle cx="290.44" cy="678.22" r="1.00" fill="#969696" />
<circle cx="298.36" cy="651.86" r="1.00" fill="#969696" />
<line x1="288.40" y1="653.05" x2="298.00" y2="653.05" stroke="#000" stroke-width="2.1" />
<line x1="293.20" y1="697.80" x2="293.20" y2="700.60" stroke="#000" stroke-width="1.1" />
<text stroke="#000" stroke-width="0.42" stroke-linejoin="round" transform="translate(294.50,706.30) rotate(-45)" x="-33.87" y="0" font-size="7.2" font-weight="bold" fill="#000" textLength="33.87" lengthAdjust="spacingAndGlyphs">IgA+CD19+</text>
<circle cx="306.03" cy="645.99" r="1.00" fill="#969696" />
<circle cx="306.34" cy="669.52" r="1.00" fill="#969696" />
<circle cx="306.22" cy="672.03" r="1.00" fill="#969696" />
<circle cx="308.86" cy="669.20" r="1.00" fill="#969696" />
<circle cx="305.91" cy="666.65" r="1.00" fill="#969696" />
<circle cx="306.22" cy="638.20" r="1.00" fill="#969696" />
<circle cx="305.95" cy="650.83" r="1.00" fill="#969696" />
<circle cx="306.08" cy="661.34" r="1.00" fill="#969696" />
<circle cx="303.49" cy="660.78" r="1.00" fill="#969696" />
<circle cx="308.78" cy="666.50" r="1.00" fill="#969696" />
<circle cx="308.76" cy="647.99" r="1.00" fill="#969696" />
<circle cx="308.85" cy="652.54" r="1.00" fill="#969696" />
<circle cx="308.55" cy="659.97" r="1.00" fill="#969696" />
<circle cx="311.45" cy="660.38" r="1.00" fill="#969696" />
<circle cx="303.60" cy="645.92" r="1.00" fill="#969696" />
<circle cx="301.15" cy="660.16" r="1.00" fill="#969696" />
<circle cx="303.16" cy="662.05" r="1.00" fill="#969696" />
<circle cx="303.74" cy="649.06" r="1.00" fill="#969696" />
<circle cx="303.66" cy="664.95" r="1.00" fill="#969696" />
<circle cx="306.03" cy="623.51" r="1.00" fill="#969696" />
<circle cx="303.38" cy="621.72" r="1.00" fill="#969696" />
<circle cx="308.57" cy="663.20" r="1.00" fill="#969696" />
<circle cx="305.91" cy="664.35" r="1.00" fill="#969696" />
<circle cx="306.02" cy="641.98" r="1.00" fill="#969696" />
<circle cx="311.51" cy="663.81" r="1.00" fill="#969696" />
<circle cx="308.73" cy="650.31" r="1.00" fill="#969696" />
<circle cx="309.38" cy="659.70" r="1.00" fill="#969696" />
<line x1="301.30" y1="659.31" x2="310.90" y2="659.31" stroke="#000" stroke-width="2.1" />
<line x1="306.10" y1="697.80" x2="306.10" y2="700.60" stroke="#000" stroke-width="1.1" />
<text stroke="#000" stroke-width="0.42" stroke-linejoin="round" transform="translate(307.40,706.30) rotate(-45)" x="-32.28" y="0" font-size="7.2" font-weight="bold" fill="#000" textLength="32.28" lengthAdjust="spacingAndGlyphs">IgA+CD19-</text>
<circle cx="328.54" cy="633.51" r="1.00" fill="#969696" />
<circle cx="328.29" cy="651.42" r="1.00" fill="#969696" />
<circle cx="328.23" cy="655.83" r="1.00" fill="#969696" />
<circle cx="328.30" cy="630.85" r="1.00" fill="#969696" />
<circle cx="325.79" cy="652.00" r="1.00" fill="#969696" />
<circle cx="328.48" cy="670.40" r="1.00" fill="#969696" />
<circle cx="328.22" cy="644.10" r="1.00" fill="#969696" />
<circle cx="331.07" cy="653.17" r="1.00" fill="#969696" />
<circle cx="325.72" cy="654.27" r="1.00" fill="#969696" />
<circle cx="328.20" cy="647.97" r="1.00" fill="#969696" />
<circle cx="325.66" cy="642.10" r="1.00" fill="#969696" />
<circle cx="325.71" cy="648.97" r="1.00" fill="#969696" />
<circle cx="330.87" cy="647.57" r="1.00" fill="#969696" />
<circle cx="333.52" cy="653.02" r="1.00" fill="#969696" />
<circle cx="328.18" cy="639.65" r="1.00" fill="#969696" />
<circle cx="325.65" cy="637.83" r="1.00" fill="#969696" />
<circle cx="325.83" cy="633.94" r="1.00" fill="#969696" />
<circle cx="331.06" cy="644.10" r="1.00" fill="#969696" />
<circle cx="323.04" cy="652.76" r="1.00" fill="#969696" />
<circle cx="325.87" cy="644.33" r="1.00" fill="#969696" />
<circle cx="328.57" cy="659.92" r="1.00" fill="#969696" />
<circle cx="331.06" cy="638.74" r="1.00" fill="#969696" />
<circle cx="333.42" cy="648.24" r="1.00" fill="#969696" />
<circle cx="324.89" cy="652.70" r="1.00" fill="#969696" />
<circle cx="328.28" cy="619.93" r="1.00" fill="#969696" />
<circle cx="328.57" cy="637.00" r="1.00" fill="#969696" />
<circle cx="331.00" cy="635.68" r="1.00" fill="#969696" />
<circle cx="325.77" cy="646.76" r="1.00" fill="#969696" />
<circle cx="328.58" cy="653.96" r="1.00" fill="#969696" />
<circle cx="333.67" cy="640.26" r="1.00" fill="#969696" />
<circle cx="322.99" cy="655.23" r="1.00" fill="#969696" />
<circle cx="323.14" cy="639.96" r="1.00" fill="#969696" />
<circle cx="330.97" cy="669.34" r="1.00" fill="#969696" />
<circle cx="331.03" cy="630.95" r="1.00" fill="#969696" />
<circle cx="328.24" cy="665.90" r="1.00" fill="#969696" />
<circle cx="331.01" cy="659.02" r="1.00" fill="#969696" />
<circle cx="322.96" cy="645.98" r="1.00" fill="#969696" />
<circle cx="328.21" cy="627.47" r="1.00" fill="#969696" />
<circle cx="328.39" cy="663.46" r="1.00" fill="#969696" />
<circle cx="333.64" cy="643.03" r="1.00" fill="#969696" />
<circle cx="332.24" cy="646.51" r="1.00" fill="#969696" />
<circle cx="328.45" cy="678.11" r="1.00" fill="#969696" />
<circle cx="327.54" cy="645.30" r="1.00" fill="#969696" />
<circle cx="323.04" cy="642.51" r="1.00" fill="#969696" />
<circle cx="334.12" cy="640.83" r="1.00" fill="#969696" />
<circle cx="333.68" cy="635.46" r="1.00" fill="#969696" />
<circle cx="328.34" cy="622.41" r="1.00" fill="#969696" />
<circle cx="329.22" cy="646.24" r="1.00" fill="#969696" />
<circle cx="327.91" cy="652.05" r="1.00" fill="#969696" />
<circle cx="325.98" cy="660.13" r="1.00" fill="#969696" />
<circle cx="333.61" cy="632.28" r="1.00" fill="#969696" />
<circle cx="323.34" cy="659.02" r="1.00" fill="#969696" />
<circle cx="331.20" cy="619.93" r="1.00" fill="#969696" />
<circle cx="332.81" cy="645.49" r="1.00" fill="#969696" />
<circle cx="323.45" cy="635.48" r="1.00" fill="#969696" />
<circle cx="325.83" cy="643.62" r="1.00" fill="#969696" />
<circle cx="328.72" cy="642.66" r="1.00" fill="#969696" />
<circle cx="325.99" cy="621.61" r="1.00" fill="#969696" />
<circle cx="325.74" cy="630.96" r="1.00" fill="#969696" />
<circle cx="323.40" cy="648.68" r="1.00" fill="#969696" />
<circle cx="330.85" cy="649.95" r="1.00" fill="#969696" />
<circle cx="326.61" cy="638.96" r="1.00" fill="#969696" />
<circle cx="329.45" cy="651.36" r="1.00" fill="#969696" />
<circle cx="325.99" cy="638.76" r="1.00" fill="#969696" />
<circle cx="325.36" cy="639.58" r="1.00" fill="#969696" />
<circle cx="324.73" cy="639.67" r="1.00" fill="#969696" />
<circle cx="330.48" cy="639.82" r="1.00" fill="#969696" />
<circle cx="329.70" cy="638.15" r="1.00" fill="#969696" />
<line x1="323.60" y1="648.57" x2="333.20" y2="648.57" stroke="#000" stroke-width="2.1" />
<line x1="328.40" y1="697.80" x2="328.40" y2="700.60" stroke="#000" stroke-width="1.1" />
<text stroke="#000" stroke-width="0.42" stroke-linejoin="round" transform="translate(329.70,706.30) rotate(-45)" x="-56.08" y="0" font-size="7.2" font-weight="bold" fill="#000" textLength="56.08" lengthAdjust="spacingAndGlyphs">Blood TT+IgG+ PB</text>
<line x1="231.20" y1="608.30" x2="239.60" y2="608.30" stroke="#9a9a9a" stroke-width="1.9" />
<line x1="266.30" y1="608.30" x2="274.70" y2="608.30" stroke="#9a9a9a" stroke-width="1.9" />
<line x1="256.30" y1="604.30" x2="270.00" y2="604.30" stroke="#000" stroke-width="1.3" />
<path d="M263.00,597.45L263.00,600.75M261.57,598.27L264.43,599.92M261.57,599.92L264.43,598.27" stroke="#000" stroke-width="1.3" stroke-linecap="round" fill="none"/>
<circle cx="263.00" cy="599.10" r="1.50" fill="#000"/>
<line x1="292.00" y1="604.30" x2="305.50" y2="604.30" stroke="#000" stroke-width="1.3" />
<path d="M298.80,597.45L298.80,600.75M297.37,598.27L300.23,599.92M297.37,599.92L300.23,598.27" stroke="#000" stroke-width="1.3" stroke-linecap="round" fill="none"/>
<circle cx="298.80" cy="599.10" r="1.50" fill="#000"/>
<text stroke="#000" stroke-width="0.42" stroke-linejoin="round" transform="translate(182.60,694.80) rotate(-90)" x="0" y="0" font-size="7.2" font-weight="bold" font-style="normal" fill="#000" textLength="81.90" lengthAdjust="spacingAndGlyphs">[mutations targeted into</text>
<text stroke="#000" stroke-width="0.42" stroke-linejoin="round" transform="translate(191.30,701.50) rotate(-90)" x="0" y="0" font-size="7.2" font-weight="bold" font-style="normal" fill="#000" textLength="94.00" lengthAdjust="spacingAndGlyphs">RGYW and WRCY motifs] %</text>
<text stroke="#000" stroke-width="0.35" stroke-linejoin="round" x="360.80" y="418.10" font-size="15.8" font-weight="bold" font-style="normal" fill="#000" textLength="9.03" lengthAdjust="spacingAndGlyphs">E</text>
<line x1="409.50" y1="439.30" x2="409.50" y2="632.30" stroke="#000" stroke-width="1.8" />
<line x1="408.60" y1="631.40" x2="520.00" y2="631.40" stroke="#000" stroke-width="1.8" />
<line x1="405.30" y1="631.40" x2="409.50" y2="631.40" stroke="#000" stroke-width="1.5" />
<text stroke="#000" stroke-width="0.34" stroke-linejoin="round" x="390.60" y="635.10" font-size="10.8" font-weight="bold" font-style="normal" fill="#000" textLength="14.40" lengthAdjust="spacingAndGlyphs">0.0</text>
<line x1="405.30" y1="583.38" x2="409.50" y2="583.38" stroke="#000" stroke-width="1.5" />
<text stroke="#000" stroke-width="0.34" stroke-linejoin="round" x="390.60" y="587.08" font-size="10.8" font-weight="bold" font-style="normal" fill="#000" textLength="14.40" lengthAdjust="spacingAndGlyphs">0.5</text>
<line x1="405.30" y1="535.35" x2="409.50" y2="535.35" stroke="#000" stroke-width="1.5" />
<text stroke="#000" stroke-width="0.34" stroke-linejoin="round" x="390.60" y="539.05" font-size="10.8" font-weight="bold" font-style="normal" fill="#000" textLength="14.40" lengthAdjust="spacingAndGlyphs">1.0</text>
<line x1="405.30" y1="487.32" x2="409.50" y2="487.32" stroke="#000" stroke-width="1.5" />
<text stroke="#000" stroke-width="0.34" stroke-linejoin="round" x="390.60" y="491.02" font-size="10.8" font-weight="bold" font-style="normal" fill="#000" textLength="14.40" lengthAdjust="spacingAndGlyphs">1.5</text>
<line x1="405.30" y1="439.30" x2="409.50" y2="439.30" stroke="#000" stroke-width="1.5" />
<text stroke="#000" stroke-width="0.34" stroke-linejoin="round" x="390.60" y="443.00" font-size="10.8" font-weight="bold" font-style="normal" fill="#000" textLength="14.40" lengthAdjust="spacingAndGlyphs">2.0</text>
<line x1="437.00" y1="631.40" x2="437.00" y2="635.40" stroke="#000" stroke-width="1.5" />
<line x1="492.40" y1="631.40" x2="492.40" y2="635.40" stroke="#000" stroke-width="1.5" />
<text stroke="#000" stroke-width="0.34" stroke-linejoin="round" transform="translate(369.80,613.40) rotate(-90)" x="0" y="0" font-size="11" font-weight="bold" font-style="normal" fill="#000" textLength="161.11" lengthAdjust="spacingAndGlyphs">TT-specific cells among 1000 PC</text>
<circle cx="437.00" cy="583.00" r="5.10" fill="#e0401c" />
<circle cx="437.00" cy="587.00" r="5.10" fill="#4f9a62" />
<circle cx="437.00" cy="557.60" r="5.10" fill="#2b3ee6" />
<circle cx="492.20" cy="583.40" r="5.10" fill="#e0401c" />
<circle cx="492.20" cy="605.00" r="5.10" fill="#2b3ee6" />
<circle cx="492.20" cy="487.70" r="5.10" fill="#4f9a62" />
<circle cx="492.20" cy="481.40" r="5.10" fill="#000" />
<line x1="437.00" y1="557.60" x2="492.20" y2="605.00" stroke="#000" stroke-width="1.5" />
<line x1="437.00" y1="584.60" x2="492.20" y2="583.40" stroke="#000" stroke-width="1.5" />
<line x1="436.70" y1="586.80" x2="492.20" y2="487.70" stroke="#000" stroke-width="1.4" />
<line x1="438.00" y1="597.00" x2="492.80" y2="481.80" stroke="#000" stroke-width="1.4" />
<circle cx="437.00" cy="597.70" r="5.10" fill="#000" />
<text stroke="#000" stroke-width="0.34" stroke-linejoin="round" transform="translate(441.00,642.30) rotate(-45)" x="-33.00" y="0" font-size="11" font-weight="bold" fill="#000" textLength="33.00" lengthAdjust="spacingAndGlyphs">CD19+</text>
<text stroke="#000" stroke-width="0.34" stroke-linejoin="round" transform="translate(496.00,642.80) rotate(-45)" x="-32.00" y="0" font-size="11" font-weight="bold" fill="#000" textLength="32.00" lengthAdjust="spacingAndGlyphs">CD19-</text>
</svg>
</body></html>
